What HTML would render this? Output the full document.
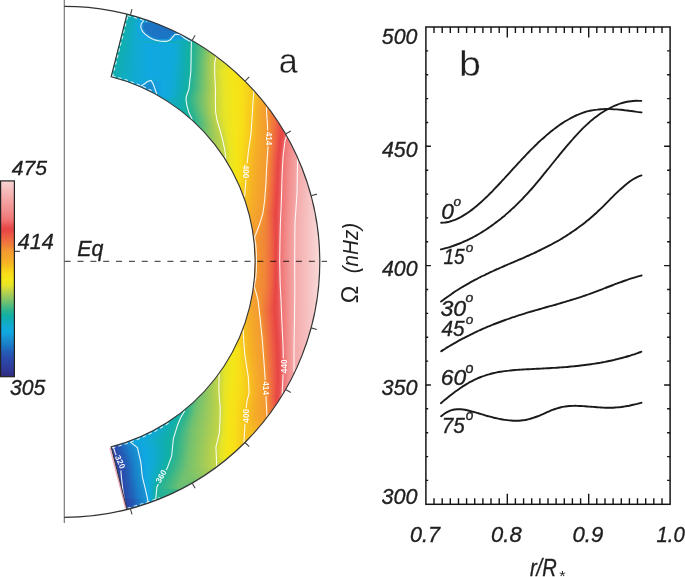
<!DOCTYPE html>
<html><head><meta charset="utf-8"><title>Rotation profile</title>
<style>
html,body{margin:0;padding:0;background:#fff;}
body{width:685px;height:577px;overflow:hidden;}
svg{display:block;}
</style></head><body>
<svg width="685" height="577" viewBox="0 0 685 577">
<defs>
<clipPath id="ann"><path d="M126.98 14.11 A255.5 255.5 0 0 1 126.98 509.49 L111.10 446.77 A190.8 190.8 0 0 0 111.10 76.83 Z"/></clipPath>
<mask id="cm" maskUnits="userSpaceOnUse" x="0" y="0" width="685" height="577"><rect width="685" height="577" fill="#fff"/><rect x="-8" y="-3.8" width="16" height="7.6" transform="translate(269.2 138.5) rotate(90)" fill="#000"/><rect x="-8" y="-3.8" width="16" height="7.6" transform="translate(246.0 171.5) rotate(90)" fill="#000"/><rect x="-8" y="-3.8" width="16" height="7.6" transform="translate(284.0 366.3) rotate(-90)" fill="#000"/><rect x="-8" y="-3.8" width="16" height="7.6" transform="translate(266.2 388.1) rotate(90)" fill="#000"/><rect x="-8" y="-3.8" width="16" height="7.6" transform="translate(245.6 415.8) rotate(-90)" fill="#000"/><rect x="-8" y="-3.8" width="16" height="7.6" transform="translate(161.0 476.3) rotate(-62)" fill="#000"/><rect x="-8" y="-3.8" width="16" height="7.6" transform="translate(120.3 461.9) rotate(66)" fill="#000"/></mask>
<linearGradient id="cbar" x1="0" y1="0" x2="0" y2="1"><stop offset="0.0000" stop-color="#f8d4d4"/><stop offset="0.0482" stop-color="#f6bcbc"/><stop offset="0.0994" stop-color="#f4a4a4"/><stop offset="0.1500" stop-color="#f28e8e"/><stop offset="0.2012" stop-color="#f07272"/><stop offset="0.2353" stop-color="#e84c4c"/><stop offset="0.2529" stop-color="#e84644"/><stop offset="0.2794" stop-color="#ec5a44"/><stop offset="0.3059" stop-color="#f06e40"/><stop offset="0.3329" stop-color="#f08238"/><stop offset="0.3594" stop-color="#f39a30"/><stop offset="0.3859" stop-color="#f4a42c"/><stop offset="0.4124" stop-color="#f6b026"/><stop offset="0.4388" stop-color="#f6c41e"/><stop offset="0.4753" stop-color="#f8de18"/><stop offset="0.5018" stop-color="#f4e618"/><stop offset="0.5329" stop-color="#e6e428"/><stop offset="0.5547" stop-color="#cad840"/><stop offset="0.5812" stop-color="#a6cc56"/><stop offset="0.6076" stop-color="#80c468"/><stop offset="0.6341" stop-color="#56bc7c"/><stop offset="0.6606" stop-color="#2eb48e"/><stop offset="0.6871" stop-color="#12b0a4"/><stop offset="0.7165" stop-color="#10acbc"/><stop offset="0.7429" stop-color="#10aad4"/><stop offset="0.7753" stop-color="#10a8e2"/><stop offset="0.8065" stop-color="#1890d0"/><stop offset="0.8388" stop-color="#1a7cc8"/><stop offset="0.8706" stop-color="#2260b8"/><stop offset="0.9018" stop-color="#2a4cac"/><stop offset="0.9335" stop-color="#2c42a2"/><stop offset="0.9647" stop-color="#303896"/><stop offset="0.9824" stop-color="#30308a"/><stop offset="1.0000" stop-color="#2e2c7c"/></linearGradient>
<linearGradient id="g0" gradientUnits="userSpaceOnUse" x1="124.9" x2="130.1" y1="0" y2="0"><stop offset="0.381" stop-color="#12afaa"/><stop offset="0.590" stop-color="#10acbc"/><stop offset="0.610" stop-color="#10acbe"/></linearGradient>
<linearGradient id="g1" gradientUnits="userSpaceOnUse" x1="124.5" x2="136.0" y1="0" y2="0"><stop offset="0.174" stop-color="#12afaa"/><stop offset="0.590" stop-color="#10acbc"/><stop offset="0.824" stop-color="#10abc8"/></linearGradient>
<linearGradient id="g2" gradientUnits="userSpaceOnUse" x1="124.0" x2="142.7" y1="0" y2="0"><stop offset="0.107" stop-color="#12afaa"/><stop offset="0.417" stop-color="#10acbc"/><stop offset="0.678" stop-color="#10abcd"/><stop offset="0.892" stop-color="#10aad2"/></linearGradient>
<linearGradient id="g3" gradientUnits="userSpaceOnUse" x1="123.5" x2="148.8" y1="0" y2="0"><stop offset="0.079" stop-color="#12afaa"/><stop offset="0.316" stop-color="#10acbc"/><stop offset="0.517" stop-color="#10abcd"/><stop offset="0.584" stop-color="#10aad4"/><stop offset="0.860" stop-color="#10a8e2"/><stop offset="0.920" stop-color="#12a3de"/></linearGradient>
<linearGradient id="g4" gradientUnits="userSpaceOnUse" x1="123.0" x2="154.5" y1="0" y2="0"><stop offset="0.064" stop-color="#12afaa"/><stop offset="0.261" stop-color="#10acbc"/><stop offset="0.426" stop-color="#10abcd"/><stop offset="0.451" stop-color="#10aad4"/><stop offset="0.559" stop-color="#10a8e2"/><stop offset="0.623" stop-color="#159ad7"/><stop offset="0.743" stop-color="#1890d0"/><stop offset="0.937" stop-color="#1984cb"/></linearGradient>
<linearGradient id="g5" gradientUnits="userSpaceOnUse" x1="122.5" x2="159.7" y1="0" y2="0"><stop offset="0.054" stop-color="#12afaa"/><stop offset="0.226" stop-color="#10acbc"/><stop offset="0.371" stop-color="#10abcd"/><stop offset="0.387" stop-color="#10aad4"/><stop offset="0.460" stop-color="#10a8e2"/><stop offset="0.502" stop-color="#159ad7"/><stop offset="0.527" stop-color="#1890d0"/><stop offset="0.591" stop-color="#1a7bc8"/><stop offset="0.607" stop-color="#1c75c4"/><stop offset="0.945" stop-color="#1b77c5"/></linearGradient>
<linearGradient id="g6" gradientUnits="userSpaceOnUse" x1="122.0" x2="164.7" y1="0" y2="0"><stop offset="0.048" stop-color="#12afaa"/><stop offset="0.202" stop-color="#10acbc"/><stop offset="0.331" stop-color="#10abcd"/><stop offset="0.345" stop-color="#10aad4"/><stop offset="0.408" stop-color="#10a8e2"/><stop offset="0.446" stop-color="#1599d7"/><stop offset="0.464" stop-color="#1890d0"/><stop offset="0.514" stop-color="#1a7cc8"/><stop offset="0.525" stop-color="#1c75c4"/><stop offset="0.954" stop-color="#1e70c1"/></linearGradient>
<linearGradient id="g7" gradientUnits="userSpaceOnUse" x1="121.5" x2="169.3" y1="0" y2="0"><stop offset="0.043" stop-color="#12afaa"/><stop offset="0.183" stop-color="#10acbc"/><stop offset="0.304" stop-color="#10abce"/><stop offset="0.316" stop-color="#10aad4"/><stop offset="0.375" stop-color="#10a8e2"/><stop offset="0.408" stop-color="#159ad7"/><stop offset="0.425" stop-color="#1890d0"/><stop offset="0.464" stop-color="#1a7cc8"/><stop offset="0.475" stop-color="#1c75c4"/><stop offset="0.957" stop-color="#1e70c1"/></linearGradient>
<linearGradient id="g8" gradientUnits="userSpaceOnUse" x1="121.0" x2="173.8" y1="0" y2="0"><stop offset="0.039" stop-color="#12afaa"/><stop offset="0.169" stop-color="#10acbc"/><stop offset="0.281" stop-color="#10abcd"/><stop offset="0.296" stop-color="#10aad4"/><stop offset="0.359" stop-color="#10a8e2"/><stop offset="0.397" stop-color="#1599d7"/><stop offset="0.412" stop-color="#1890d0"/><stop offset="0.450" stop-color="#1a7cc8"/><stop offset="0.459" stop-color="#1c75c4"/><stop offset="0.963" stop-color="#1e70c1"/></linearGradient>
<linearGradient id="g9" gradientUnits="userSpaceOnUse" x1="120.4" x2="178.0" y1="0" y2="0"><stop offset="0.034" stop-color="#12afaa"/><stop offset="0.159" stop-color="#10acbc"/><stop offset="0.263" stop-color="#10abcd"/><stop offset="0.281" stop-color="#10aad4"/><stop offset="0.350" stop-color="#10a8e2"/><stop offset="0.392" stop-color="#159ad7"/><stop offset="0.406" stop-color="#1891d0"/><stop offset="0.446" stop-color="#1a7cc8"/><stop offset="0.455" stop-color="#1c75c4"/><stop offset="0.884" stop-color="#1c75c4"/><stop offset="0.966" stop-color="#1a7cc8"/></linearGradient>
<linearGradient id="g10" gradientUnits="userSpaceOnUse" x1="119.9" x2="182.0" y1="0" y2="0"><stop offset="0.032" stop-color="#12afaa"/><stop offset="0.151" stop-color="#10acbc"/><stop offset="0.251" stop-color="#10abcd"/><stop offset="0.270" stop-color="#10aad4"/><stop offset="0.355" stop-color="#10a8e2"/><stop offset="0.404" stop-color="#159ad7"/><stop offset="0.420" stop-color="#1890d0"/><stop offset="0.462" stop-color="#1a7cc8"/><stop offset="0.471" stop-color="#1c75c4"/><stop offset="0.823" stop-color="#1c75c4"/><stop offset="0.876" stop-color="#1a7cc8"/><stop offset="0.968" stop-color="#1985cb"/></linearGradient>
<linearGradient id="g11" gradientUnits="userSpaceOnUse" x1="119.4" x2="185.9" y1="0" y2="0"><stop offset="0.030" stop-color="#12afaa"/><stop offset="0.144" stop-color="#10acbc"/><stop offset="0.239" stop-color="#10abcd"/><stop offset="0.263" stop-color="#10aad4"/><stop offset="0.364" stop-color="#10a8e2"/><stop offset="0.424" stop-color="#1599d7"/><stop offset="0.441" stop-color="#1890d0"/><stop offset="0.486" stop-color="#1a7cc8"/><stop offset="0.498" stop-color="#1c75c4"/><stop offset="0.757" stop-color="#1c75c4"/><stop offset="0.766" stop-color="#1a7cc8"/><stop offset="0.802" stop-color="#1890d0"/><stop offset="0.815" stop-color="#159ad7"/><stop offset="0.943" stop-color="#1599d7"/><stop offset="0.960" stop-color="#1890d0"/><stop offset="0.970" stop-color="#188cce"/></linearGradient>
<linearGradient id="g12" gradientUnits="userSpaceOnUse" x1="118.9" x2="189.6" y1="0" y2="0"><stop offset="0.028" stop-color="#12afaa"/><stop offset="0.138" stop-color="#10acbc"/><stop offset="0.230" stop-color="#10abcd"/><stop offset="0.259" stop-color="#10aad4"/><stop offset="0.378" stop-color="#10a8e2"/><stop offset="0.448" stop-color="#1599d7"/><stop offset="0.472" stop-color="#1890d0"/><stop offset="0.536" stop-color="#1a7cc8"/><stop offset="0.553" stop-color="#1c75c4"/><stop offset="0.682" stop-color="#1c75c4"/><stop offset="0.693" stop-color="#1a7cc8"/><stop offset="0.734" stop-color="#1890d0"/><stop offset="0.750" stop-color="#1599d7"/><stop offset="0.925" stop-color="#159ad7"/><stop offset="0.972" stop-color="#1891d1"/></linearGradient>
<linearGradient id="g13" gradientUnits="userSpaceOnUse" x1="118.4" x2="193.1" y1="0" y2="0"><stop offset="0.026" stop-color="#12afaa"/><stop offset="0.132" stop-color="#10acbc"/><stop offset="0.222" stop-color="#10abcd"/><stop offset="0.257" stop-color="#10aad4"/><stop offset="0.404" stop-color="#10a8e2"/><stop offset="0.491" stop-color="#159ad7"/><stop offset="0.690" stop-color="#159ad7"/><stop offset="0.731" stop-color="#10a8e2"/><stop offset="0.799" stop-color="#10aad4"/><stop offset="0.855" stop-color="#10acbc"/><stop offset="0.878" stop-color="#11adb3"/><stop offset="0.883" stop-color="#10acbc"/><stop offset="0.898" stop-color="#10aad4"/><stop offset="0.915" stop-color="#10a7e2"/><stop offset="0.925" stop-color="#159ad7"/><stop offset="0.973" stop-color="#1598d6"/></linearGradient>
<linearGradient id="g14" gradientUnits="userSpaceOnUse" x1="117.9" x2="196.6" y1="0" y2="0"><stop offset="0.025" stop-color="#11afaa"/><stop offset="0.128" stop-color="#10acbc"/><stop offset="0.215" stop-color="#10abcd"/><stop offset="0.615" stop-color="#10acbc"/><stop offset="0.840" stop-color="#11adb3"/><stop offset="0.901" stop-color="#12b0a4"/><stop offset="0.936" stop-color="#1db29b"/><stop offset="0.975" stop-color="#1db29b"/></linearGradient>
<linearGradient id="g15" gradientUnits="userSpaceOnUse" x1="117.4" x2="199.9" y1="0" y2="0"><stop offset="0.024" stop-color="#11afaa"/><stop offset="0.124" stop-color="#10acbc"/><stop offset="0.210" stop-color="#10abcd"/><stop offset="0.245" stop-color="#10aad4"/><stop offset="0.372" stop-color="#10a8e0"/><stop offset="0.656" stop-color="#10a9dd"/><stop offset="0.712" stop-color="#10aad4"/><stop offset="0.781" stop-color="#10acbc"/><stop offset="0.807" stop-color="#11adb3"/><stop offset="0.864" stop-color="#12b0a4"/><stop offset="0.897" stop-color="#1db29b"/><stop offset="0.951" stop-color="#2eb48e"/><stop offset="0.976" stop-color="#3ab689"/></linearGradient>
<linearGradient id="g16" gradientUnits="userSpaceOnUse" x1="116.9" x2="203.1" y1="0" y2="0"><stop offset="0.023" stop-color="#11afab"/><stop offset="0.119" stop-color="#10acbc"/><stop offset="0.205" stop-color="#10abcd"/><stop offset="0.239" stop-color="#10aad4"/><stop offset="0.363" stop-color="#10a8e0"/><stop offset="0.633" stop-color="#10a9dd"/><stop offset="0.687" stop-color="#10aad4"/><stop offset="0.753" stop-color="#10acbc"/><stop offset="0.779" stop-color="#11adb3"/><stop offset="0.833" stop-color="#12b0a4"/><stop offset="0.863" stop-color="#1db29b"/><stop offset="0.906" stop-color="#2eb48e"/><stop offset="0.977" stop-color="#56bc7c"/></linearGradient>
<linearGradient id="g17" gradientUnits="userSpaceOnUse" x1="116.4" x2="206.2" y1="0" y2="0"><stop offset="0.022" stop-color="#11afab"/><stop offset="0.117" stop-color="#10acbc"/><stop offset="0.200" stop-color="#10abcd"/><stop offset="0.234" stop-color="#10aad4"/><stop offset="0.355" stop-color="#10a8e0"/><stop offset="0.614" stop-color="#10a9dd"/><stop offset="0.665" stop-color="#10aad4"/><stop offset="0.728" stop-color="#10acbc"/><stop offset="0.753" stop-color="#11adb3"/><stop offset="0.805" stop-color="#12b0a4"/><stop offset="0.834" stop-color="#1db29b"/><stop offset="0.874" stop-color="#2eb48e"/><stop offset="0.942" stop-color="#56bc7c"/><stop offset="0.978" stop-color="#6cc071"/></linearGradient>
<linearGradient id="g18" gradientUnits="userSpaceOnUse" x1="115.9" x2="209.2" y1="0" y2="0"><stop offset="0.022" stop-color="#11afab"/><stop offset="0.114" stop-color="#10acbc"/><stop offset="0.196" stop-color="#10abcd"/><stop offset="0.229" stop-color="#10aad4"/><stop offset="0.348" stop-color="#10a8e0"/><stop offset="0.596" stop-color="#10a9dd"/><stop offset="0.645" stop-color="#10aad4"/><stop offset="0.706" stop-color="#10acbc"/><stop offset="0.730" stop-color="#11adb3"/><stop offset="0.779" stop-color="#12b0a4"/><stop offset="0.807" stop-color="#1db29b"/><stop offset="0.846" stop-color="#2eb48e"/><stop offset="0.910" stop-color="#56bc7c"/><stop offset="0.974" stop-color="#80c468"/><stop offset="0.979" stop-color="#83c567"/></linearGradient>
<linearGradient id="g19" gradientUnits="userSpaceOnUse" x1="115.4" x2="212.1" y1="0" y2="0"><stop offset="0.021" stop-color="#11afab"/><stop offset="0.111" stop-color="#10acbc"/><stop offset="0.193" stop-color="#10abcd"/><stop offset="0.225" stop-color="#10aad4"/><stop offset="0.342" stop-color="#10a8e0"/><stop offset="0.580" stop-color="#10a9dd"/><stop offset="0.628" stop-color="#10aad4"/><stop offset="0.687" stop-color="#10acbc"/><stop offset="0.709" stop-color="#11adb3"/><stop offset="0.757" stop-color="#12b0a4"/><stop offset="0.784" stop-color="#1db29b"/><stop offset="0.820" stop-color="#2eb48e"/><stop offset="0.880" stop-color="#56bc7c"/><stop offset="0.940" stop-color="#80c468"/><stop offset="0.979" stop-color="#99c95c"/></linearGradient>
<linearGradient id="g20" gradientUnits="userSpaceOnUse" x1="114.9" x2="215.0" y1="0" y2="0"><stop offset="0.020" stop-color="#11afac"/><stop offset="0.108" stop-color="#10acbc"/><stop offset="0.190" stop-color="#10abcd"/><stop offset="0.222" stop-color="#10aad4"/><stop offset="0.338" stop-color="#10a8e0"/><stop offset="0.566" stop-color="#10a9dd"/><stop offset="0.612" stop-color="#10aad4"/><stop offset="0.669" stop-color="#10acbc"/><stop offset="0.691" stop-color="#11adb3"/><stop offset="0.737" stop-color="#12b0a4"/><stop offset="0.763" stop-color="#1db29b"/><stop offset="0.797" stop-color="#2eb48e"/><stop offset="0.853" stop-color="#56bc7c"/><stop offset="0.909" stop-color="#80c468"/><stop offset="0.965" stop-color="#a6cc56"/><stop offset="0.980" stop-color="#afcf50"/></linearGradient>
<linearGradient id="g21" gradientUnits="userSpaceOnUse" x1="114.4" x2="217.7" y1="0" y2="0"><stop offset="0.020" stop-color="#11afac"/><stop offset="0.106" stop-color="#10acbc"/><stop offset="0.188" stop-color="#10abcd"/><stop offset="0.219" stop-color="#10aad4"/><stop offset="0.333" stop-color="#10a8e0"/><stop offset="0.553" stop-color="#10a9dd"/><stop offset="0.597" stop-color="#10aad4"/><stop offset="0.652" stop-color="#10acbc"/><stop offset="0.674" stop-color="#11adb3"/><stop offset="0.718" stop-color="#12b0a4"/><stop offset="0.742" stop-color="#1db29b"/><stop offset="0.775" stop-color="#2eb48e"/><stop offset="0.829" stop-color="#56bc7c"/><stop offset="0.882" stop-color="#80c468"/><stop offset="0.935" stop-color="#a6cc56"/><stop offset="0.980" stop-color="#c4d643"/></linearGradient>
<linearGradient id="g22" gradientUnits="userSpaceOnUse" x1="113.9" x2="220.4" y1="0" y2="0"><stop offset="0.019" stop-color="#11afac"/><stop offset="0.104" stop-color="#10acbc"/><stop offset="0.186" stop-color="#10abcd"/><stop offset="0.217" stop-color="#10aad4"/><stop offset="0.329" stop-color="#10a8e0"/><stop offset="0.541" stop-color="#10a9dd"/><stop offset="0.584" stop-color="#10aad4"/><stop offset="0.638" stop-color="#10acbc"/><stop offset="0.658" stop-color="#11adb3"/><stop offset="0.702" stop-color="#12b0a4"/><stop offset="0.725" stop-color="#1db29b"/><stop offset="0.757" stop-color="#2eb48e"/><stop offset="0.809" stop-color="#56bc7c"/><stop offset="0.861" stop-color="#80c468"/><stop offset="0.913" stop-color="#a6cc56"/><stop offset="0.957" stop-color="#c4d644"/><stop offset="0.974" stop-color="#cad840"/><stop offset="0.981" stop-color="#ccd93e"/></linearGradient>
<linearGradient id="g23" gradientUnits="userSpaceOnUse" x1="113.4" x2="223.0" y1="0" y2="0"><stop offset="0.019" stop-color="#11afac"/><stop offset="0.102" stop-color="#10acbc"/><stop offset="0.184" stop-color="#10abcd"/><stop offset="0.215" stop-color="#10aad4"/><stop offset="0.325" stop-color="#10a8e0"/><stop offset="0.530" stop-color="#10a9dd"/><stop offset="0.572" stop-color="#10aad4"/><stop offset="0.624" stop-color="#10acbc"/><stop offset="0.644" stop-color="#11adb3"/><stop offset="0.685" stop-color="#12b0a4"/><stop offset="0.709" stop-color="#1db29b"/><stop offset="0.739" stop-color="#2eb48e"/><stop offset="0.788" stop-color="#56bc7c"/><stop offset="0.839" stop-color="#80c468"/><stop offset="0.888" stop-color="#a6cc56"/><stop offset="0.930" stop-color="#c4d644"/><stop offset="0.948" stop-color="#cad840"/><stop offset="0.982" stop-color="#d4dc38"/></linearGradient>
<linearGradient id="g24" gradientUnits="userSpaceOnUse" x1="112.9" x2="225.5" y1="0" y2="0"><stop offset="0.018" stop-color="#11afad"/><stop offset="0.101" stop-color="#10acbc"/><stop offset="0.183" stop-color="#10abcd"/><stop offset="0.212" stop-color="#10aad4"/><stop offset="0.322" stop-color="#10a8e0"/><stop offset="0.518" stop-color="#10a9dd"/><stop offset="0.559" stop-color="#10aad4"/><stop offset="0.610" stop-color="#10acbc"/><stop offset="0.630" stop-color="#11adb3"/><stop offset="0.671" stop-color="#12b0a4"/><stop offset="0.694" stop-color="#1db29b"/><stop offset="0.723" stop-color="#2eb48e"/><stop offset="0.770" stop-color="#56bc7c"/><stop offset="0.817" stop-color="#80c468"/><stop offset="0.865" stop-color="#a6cc56"/><stop offset="0.905" stop-color="#c4d643"/><stop offset="0.922" stop-color="#cad840"/><stop offset="0.982" stop-color="#dbdf31"/></linearGradient>
<linearGradient id="g25" gradientUnits="userSpaceOnUse" x1="112.4" x2="228.0" y1="0" y2="0"><stop offset="0.018" stop-color="#11afad"/><stop offset="0.099" stop-color="#10acbc"/><stop offset="0.182" stop-color="#10abcd"/><stop offset="0.211" stop-color="#10aad4"/><stop offset="0.319" stop-color="#10a8e0"/><stop offset="0.506" stop-color="#10a9dd"/><stop offset="0.548" stop-color="#10aad4"/><stop offset="0.598" stop-color="#10acbc"/><stop offset="0.619" stop-color="#11adb3"/><stop offset="0.657" stop-color="#12b0a4"/><stop offset="0.680" stop-color="#1db29b"/><stop offset="0.708" stop-color="#2eb48e"/><stop offset="0.754" stop-color="#56bc7c"/><stop offset="0.800" stop-color="#80c468"/><stop offset="0.846" stop-color="#a6cc56"/><stop offset="0.886" stop-color="#c5d643"/><stop offset="0.902" stop-color="#cad840"/><stop offset="0.982" stop-color="#e3e32b"/></linearGradient>
<linearGradient id="g26" gradientUnits="userSpaceOnUse" x1="111.8" x2="230.4" y1="0" y2="0"><stop offset="0.016" stop-color="#11aead"/><stop offset="0.097" stop-color="#10acbc"/><stop offset="0.182" stop-color="#10abcd"/><stop offset="0.210" stop-color="#10aad4"/><stop offset="0.316" stop-color="#10a8e0"/><stop offset="0.495" stop-color="#10a9dd"/><stop offset="0.537" stop-color="#10aad4"/><stop offset="0.586" stop-color="#10acbc"/><stop offset="0.607" stop-color="#11adb3"/><stop offset="0.646" stop-color="#12b0a4"/><stop offset="0.667" stop-color="#1db29b"/><stop offset="0.694" stop-color="#2eb48e"/><stop offset="0.739" stop-color="#56bc7c"/><stop offset="0.785" stop-color="#80c468"/><stop offset="0.829" stop-color="#a6cc56"/><stop offset="0.867" stop-color="#c4d644"/><stop offset="0.883" stop-color="#cad840"/><stop offset="0.969" stop-color="#e6e428"/><stop offset="0.983" stop-color="#e8e426"/></linearGradient>
<linearGradient id="g27" gradientUnits="userSpaceOnUse" x1="111.3" x2="232.8" y1="0" y2="0"><stop offset="0.016" stop-color="#11aead"/><stop offset="0.097" stop-color="#10acbc"/><stop offset="0.181" stop-color="#10abcd"/><stop offset="0.210" stop-color="#10aad4"/><stop offset="0.313" stop-color="#10a8e0"/><stop offset="0.485" stop-color="#10a9dd"/><stop offset="0.527" stop-color="#10aad4"/><stop offset="0.576" stop-color="#10acbc"/><stop offset="0.596" stop-color="#11adb3"/><stop offset="0.634" stop-color="#12b0a4"/><stop offset="0.655" stop-color="#1db29b"/><stop offset="0.681" stop-color="#2eb48e"/><stop offset="0.726" stop-color="#56bc7c"/><stop offset="0.769" stop-color="#80c468"/><stop offset="0.814" stop-color="#a6cc56"/><stop offset="0.851" stop-color="#c4d643"/><stop offset="0.867" stop-color="#cad840"/><stop offset="0.948" stop-color="#e6e428"/><stop offset="0.984" stop-color="#eae523"/></linearGradient>
<linearGradient id="g28" gradientUnits="userSpaceOnUse" x1="110.8" x2="235.1" y1="0" y2="0"><stop offset="0.016" stop-color="#11aeae"/><stop offset="0.095" stop-color="#10acbc"/><stop offset="0.181" stop-color="#10abcd"/><stop offset="0.209" stop-color="#10aad4"/><stop offset="0.311" stop-color="#10a8e0"/><stop offset="0.476" stop-color="#10a9dd"/><stop offset="0.517" stop-color="#10aad4"/><stop offset="0.566" stop-color="#10acbc"/><stop offset="0.586" stop-color="#11adb3"/><stop offset="0.623" stop-color="#12b0a4"/><stop offset="0.644" stop-color="#1db29b"/><stop offset="0.670" stop-color="#2eb48e"/><stop offset="0.713" stop-color="#56bc7c"/><stop offset="0.756" stop-color="#80c468"/><stop offset="0.799" stop-color="#a6cc56"/><stop offset="0.835" stop-color="#c4d644"/><stop offset="0.845" stop-color="#cad840"/><stop offset="0.895" stop-color="#e6e428"/><stop offset="0.966" stop-color="#f4e618"/><stop offset="0.970" stop-color="#f4e618"/><stop offset="0.971" stop-color="#f4e618"/><stop offset="0.984" stop-color="#ede520"/></linearGradient>
<linearGradient id="g29" gradientUnits="userSpaceOnUse" x1="110.3" x2="237.3" y1="0" y2="0"><stop offset="0.016" stop-color="#11aeae"/><stop offset="0.094" stop-color="#10acbc"/><stop offset="0.180" stop-color="#10abcd"/><stop offset="0.208" stop-color="#10aad4"/><stop offset="0.309" stop-color="#10a8e0"/><stop offset="0.467" stop-color="#10a9dd"/><stop offset="0.508" stop-color="#10aad4"/><stop offset="0.557" stop-color="#10acbc"/><stop offset="0.577" stop-color="#11adb3"/><stop offset="0.613" stop-color="#12b0a4"/><stop offset="0.634" stop-color="#1db29b"/><stop offset="0.659" stop-color="#2eb48e"/><stop offset="0.701" stop-color="#56bc7c"/><stop offset="0.743" stop-color="#80c468"/><stop offset="0.786" stop-color="#a6cc56"/><stop offset="0.821" stop-color="#c4d643"/><stop offset="0.830" stop-color="#cad840"/><stop offset="0.880" stop-color="#e6e428"/><stop offset="0.952" stop-color="#f4e618"/><stop offset="0.956" stop-color="#f4e518"/><stop offset="0.962" stop-color="#f4e618"/><stop offset="0.984" stop-color="#f1e61b"/></linearGradient>
<linearGradient id="g30" gradientUnits="userSpaceOnUse" x1="109.8" x2="239.5" y1="0" y2="0"><stop offset="0.015" stop-color="#11aeae"/><stop offset="0.094" stop-color="#10acbc"/><stop offset="0.180" stop-color="#10abcd"/><stop offset="0.208" stop-color="#10aad4"/><stop offset="0.307" stop-color="#10a8e0"/><stop offset="0.459" stop-color="#10a9dd"/><stop offset="0.499" stop-color="#10aad4"/><stop offset="0.549" stop-color="#10acbc"/><stop offset="0.568" stop-color="#11adb3"/><stop offset="0.603" stop-color="#12b0a4"/><stop offset="0.623" stop-color="#1db29b"/><stop offset="0.647" stop-color="#2eb48e"/><stop offset="0.690" stop-color="#56bc7c"/><stop offset="0.731" stop-color="#80c468"/><stop offset="0.773" stop-color="#a6cc56"/><stop offset="0.809" stop-color="#c4d643"/><stop offset="0.818" stop-color="#cad840"/><stop offset="0.867" stop-color="#e6e428"/><stop offset="0.938" stop-color="#f4e618"/><stop offset="0.943" stop-color="#f4e518"/><stop offset="0.984" stop-color="#f4e518"/></linearGradient>
<linearGradient id="g31" gradientUnits="userSpaceOnUse" x1="109.3" x2="241.7" y1="0" y2="0"><stop offset="0.015" stop-color="#11aeae"/><stop offset="0.093" stop-color="#10acbc"/><stop offset="0.180" stop-color="#10abcd"/><stop offset="0.208" stop-color="#10aad4"/><stop offset="0.306" stop-color="#10a8e0"/><stop offset="0.452" stop-color="#10a9dd"/><stop offset="0.492" stop-color="#10aad4"/><stop offset="0.540" stop-color="#10acbc"/><stop offset="0.560" stop-color="#11adb3"/><stop offset="0.594" stop-color="#12b0a4"/><stop offset="0.613" stop-color="#1db29b"/><stop offset="0.638" stop-color="#2eb48e"/><stop offset="0.679" stop-color="#56bc7c"/><stop offset="0.721" stop-color="#80c468"/><stop offset="0.762" stop-color="#a6cc56"/><stop offset="0.797" stop-color="#c4d643"/><stop offset="0.806" stop-color="#cad840"/><stop offset="0.856" stop-color="#e6e428"/><stop offset="0.926" stop-color="#f4e618"/><stop offset="0.930" stop-color="#f4e518"/><stop offset="0.985" stop-color="#f6e218"/></linearGradient>
<linearGradient id="g32" gradientUnits="userSpaceOnUse" x1="113.5" x2="243.8" y1="0" y2="0"><stop offset="0.015" stop-color="#11adb6"/><stop offset="0.054" stop-color="#10acbc"/><stop offset="0.150" stop-color="#10abcd"/><stop offset="0.179" stop-color="#10aad4"/><stop offset="0.279" stop-color="#10a8e0"/><stop offset="0.424" stop-color="#10a9dd"/><stop offset="0.465" stop-color="#10aad4"/><stop offset="0.515" stop-color="#10acbc"/><stop offset="0.535" stop-color="#11adb3"/><stop offset="0.569" stop-color="#12b0a4"/><stop offset="0.588" stop-color="#1db29b"/><stop offset="0.614" stop-color="#2eb48e"/><stop offset="0.657" stop-color="#56bc7c"/><stop offset="0.699" stop-color="#80c468"/><stop offset="0.742" stop-color="#a6cc56"/><stop offset="0.778" stop-color="#c4d643"/><stop offset="0.788" stop-color="#cad840"/><stop offset="0.839" stop-color="#e6e428"/><stop offset="0.911" stop-color="#f4e618"/><stop offset="0.916" stop-color="#f4e518"/><stop offset="0.985" stop-color="#f7df18"/></linearGradient>
<linearGradient id="g33" gradientUnits="userSpaceOnUse" x1="120.2" x2="245.8" y1="0" y2="0"><stop offset="0.016" stop-color="#10abc5"/><stop offset="0.103" stop-color="#10abcd"/><stop offset="0.176" stop-color="#10aad4"/><stop offset="0.384" stop-color="#10a9dd"/><stop offset="0.427" stop-color="#10aad4"/><stop offset="0.479" stop-color="#10acbc"/><stop offset="0.500" stop-color="#11adb3"/><stop offset="0.535" stop-color="#12b0a4"/><stop offset="0.555" stop-color="#1db29b"/><stop offset="0.582" stop-color="#2eb48e"/><stop offset="0.626" stop-color="#56bc7c"/><stop offset="0.672" stop-color="#80c468"/><stop offset="0.716" stop-color="#a6cc56"/><stop offset="0.755" stop-color="#c4d643"/><stop offset="0.765" stop-color="#cad840"/><stop offset="0.818" stop-color="#e6e428"/><stop offset="0.895" stop-color="#f4e618"/><stop offset="0.899" stop-color="#f4e518"/><stop offset="0.970" stop-color="#f8de18"/><stop offset="0.984" stop-color="#f8db19"/></linearGradient>
<linearGradient id="g34" gradientUnits="userSpaceOnUse" x1="126.1" x2="247.8" y1="0" y2="0"><stop offset="0.016" stop-color="#10aad5"/><stop offset="0.022" stop-color="#10aad4"/><stop offset="0.056" stop-color="#10abcd"/><stop offset="0.071" stop-color="#10aad4"/><stop offset="0.134" stop-color="#10a8e2"/><stop offset="0.170" stop-color="#159ad7"/><stop offset="0.192" stop-color="#1793d2"/><stop offset="0.212" stop-color="#1599d7"/><stop offset="0.298" stop-color="#10a8e2"/><stop offset="0.346" stop-color="#10a9dd"/><stop offset="0.390" stop-color="#10aad4"/><stop offset="0.444" stop-color="#10acbc"/><stop offset="0.466" stop-color="#11adb3"/><stop offset="0.502" stop-color="#12b0a4"/><stop offset="0.522" stop-color="#1db29b"/><stop offset="0.550" stop-color="#2eb48e"/><stop offset="0.597" stop-color="#56bc7c"/><stop offset="0.645" stop-color="#80c468"/><stop offset="0.692" stop-color="#a6cc56"/><stop offset="0.731" stop-color="#c4d644"/><stop offset="0.742" stop-color="#cad840"/><stop offset="0.798" stop-color="#e6e428"/><stop offset="0.877" stop-color="#f4e618"/><stop offset="0.882" stop-color="#f4e518"/><stop offset="0.953" stop-color="#f8de18"/><stop offset="0.983" stop-color="#f7d71a"/></linearGradient>
<linearGradient id="g35" gradientUnits="userSpaceOnUse" x1="131.5" x2="249.8" y1="0" y2="0"><stop offset="0.017" stop-color="#10a9dc"/><stop offset="0.055" stop-color="#10a8e2"/><stop offset="0.107" stop-color="#1599d7"/><stop offset="0.139" stop-color="#1890d0"/><stop offset="0.152" stop-color="#188dcf"/><stop offset="0.160" stop-color="#1890d0"/><stop offset="0.183" stop-color="#159ad7"/><stop offset="0.262" stop-color="#10a8e2"/><stop offset="0.307" stop-color="#10a9dd"/><stop offset="0.353" stop-color="#10aad4"/><stop offset="0.409" stop-color="#10acbc"/><stop offset="0.432" stop-color="#11adb3"/><stop offset="0.469" stop-color="#12b0a4"/><stop offset="0.490" stop-color="#1db29b"/><stop offset="0.519" stop-color="#2eb48e"/><stop offset="0.568" stop-color="#56bc7c"/><stop offset="0.617" stop-color="#80c468"/><stop offset="0.666" stop-color="#a6cc56"/><stop offset="0.708" stop-color="#c4d644"/><stop offset="0.719" stop-color="#cad840"/><stop offset="0.777" stop-color="#e6e428"/><stop offset="0.861" stop-color="#f4e618"/><stop offset="0.865" stop-color="#f4e518"/><stop offset="0.936" stop-color="#f8de18"/><stop offset="0.983" stop-color="#f7d21b"/></linearGradient>
<linearGradient id="g36" gradientUnits="userSpaceOnUse" x1="136.5" x2="251.7" y1="0" y2="0"><stop offset="0.018" stop-color="#10a8e1"/><stop offset="0.019" stop-color="#10a8e2"/><stop offset="0.039" stop-color="#159ad7"/><stop offset="0.080" stop-color="#1890d0"/><stop offset="0.113" stop-color="#198acd"/><stop offset="0.131" stop-color="#1890d0"/><stop offset="0.151" stop-color="#1599d7"/><stop offset="0.227" stop-color="#10a8e2"/><stop offset="0.269" stop-color="#10a9dd"/><stop offset="0.317" stop-color="#10aad4"/><stop offset="0.375" stop-color="#10acbc"/><stop offset="0.399" stop-color="#11adb3"/><stop offset="0.437" stop-color="#12b0a4"/><stop offset="0.459" stop-color="#1db29b"/><stop offset="0.489" stop-color="#2eb48e"/><stop offset="0.539" stop-color="#56bc7c"/><stop offset="0.590" stop-color="#80c468"/><stop offset="0.642" stop-color="#a6cc56"/><stop offset="0.684" stop-color="#c4d644"/><stop offset="0.695" stop-color="#cad840"/><stop offset="0.756" stop-color="#e6e428"/><stop offset="0.842" stop-color="#f4e618"/><stop offset="0.846" stop-color="#f4e618"/><stop offset="0.918" stop-color="#f8de18"/><stop offset="0.983" stop-color="#f7ce1c"/></linearGradient>
<linearGradient id="g37" gradientUnits="userSpaceOnUse" x1="141.0" x2="253.6" y1="0" y2="0"><stop offset="0.018" stop-color="#11a6e1"/><stop offset="0.059" stop-color="#1890d0"/><stop offset="0.075" stop-color="#1989cd"/><stop offset="0.097" stop-color="#1890d0"/><stop offset="0.121" stop-color="#1599d7"/><stop offset="0.192" stop-color="#10a8e2"/><stop offset="0.232" stop-color="#10a9dd"/><stop offset="0.281" stop-color="#10aad4"/><stop offset="0.342" stop-color="#10acbc"/><stop offset="0.366" stop-color="#11adb3"/><stop offset="0.405" stop-color="#12b0a4"/><stop offset="0.426" stop-color="#1db29b"/><stop offset="0.458" stop-color="#2eb48e"/><stop offset="0.511" stop-color="#56bc7c"/><stop offset="0.564" stop-color="#80c468"/><stop offset="0.616" stop-color="#a6cc56"/><stop offset="0.661" stop-color="#c4d644"/><stop offset="0.672" stop-color="#cad840"/><stop offset="0.735" stop-color="#e6e428"/><stop offset="0.822" stop-color="#f4e618"/><stop offset="0.827" stop-color="#f4e518"/><stop offset="0.900" stop-color="#f8de18"/><stop offset="0.982" stop-color="#f6ca1d"/></linearGradient>
<linearGradient id="g38" gradientUnits="userSpaceOnUse" x1="145.3" x2="255.4" y1="0" y2="0"><stop offset="0.018" stop-color="#12a3de"/><stop offset="0.034" stop-color="#1890d0"/><stop offset="0.038" stop-color="#188cce"/><stop offset="0.056" stop-color="#1890d0"/><stop offset="0.091" stop-color="#1599d7"/><stop offset="0.158" stop-color="#10a8e2"/><stop offset="0.195" stop-color="#10a9dd"/><stop offset="0.246" stop-color="#10aad4"/><stop offset="0.309" stop-color="#10acbc"/><stop offset="0.333" stop-color="#11adb3"/><stop offset="0.371" stop-color="#12b0a4"/><stop offset="0.393" stop-color="#1db29b"/><stop offset="0.426" stop-color="#2eb48e"/><stop offset="0.481" stop-color="#56bc7c"/><stop offset="0.536" stop-color="#80c468"/><stop offset="0.591" stop-color="#a6cc56"/><stop offset="0.637" stop-color="#c4d643"/><stop offset="0.649" stop-color="#cad840"/><stop offset="0.712" stop-color="#e6e428"/><stop offset="0.802" stop-color="#f4e618"/><stop offset="0.807" stop-color="#f4e518"/><stop offset="0.881" stop-color="#f8de18"/><stop offset="0.982" stop-color="#f6c61e"/></linearGradient>
<linearGradient id="g39" gradientUnits="userSpaceOnUse" x1="149.3" x2="257.2" y1="0" y2="0"><stop offset="0.002" stop-color="#1891d1"/><stop offset="0.018" stop-color="#139fdb"/><stop offset="0.062" stop-color="#159ad7"/><stop offset="0.124" stop-color="#10a8e2"/><stop offset="0.158" stop-color="#10a9dd"/><stop offset="0.211" stop-color="#10aad4"/><stop offset="0.274" stop-color="#10acbc"/><stop offset="0.300" stop-color="#11adb3"/><stop offset="0.337" stop-color="#12b0a4"/><stop offset="0.358" stop-color="#1db29b"/><stop offset="0.392" stop-color="#2eb48e"/><stop offset="0.449" stop-color="#56bc7c"/><stop offset="0.507" stop-color="#80c468"/><stop offset="0.564" stop-color="#a6cc56"/><stop offset="0.613" stop-color="#c5d643"/><stop offset="0.625" stop-color="#cad840"/><stop offset="0.689" stop-color="#e6e428"/><stop offset="0.782" stop-color="#f4e618"/><stop offset="0.788" stop-color="#f4e518"/><stop offset="0.863" stop-color="#f8de18"/><stop offset="0.967" stop-color="#f6c61e"/><stop offset="0.971" stop-color="#f6c41e"/><stop offset="0.981" stop-color="#f6c020"/></linearGradient>
<linearGradient id="g40" gradientUnits="userSpaceOnUse" x1="153.1" x2="259.0" y1="0" y2="0"><stop offset="0.019" stop-color="#149bd8"/><stop offset="0.034" stop-color="#159ad7"/><stop offset="0.091" stop-color="#10a8e2"/><stop offset="0.123" stop-color="#10a9dd"/><stop offset="0.176" stop-color="#10aad4"/><stop offset="0.241" stop-color="#10acbc"/><stop offset="0.266" stop-color="#11adb3"/><stop offset="0.302" stop-color="#12b0a4"/><stop offset="0.322" stop-color="#1db29b"/><stop offset="0.358" stop-color="#2eb48e"/><stop offset="0.418" stop-color="#56bc7c"/><stop offset="0.478" stop-color="#80c468"/><stop offset="0.538" stop-color="#a6cc56"/><stop offset="0.589" stop-color="#c5d643"/><stop offset="0.602" stop-color="#cad840"/><stop offset="0.668" stop-color="#e6e428"/><stop offset="0.762" stop-color="#f4e618"/><stop offset="0.768" stop-color="#f4e518"/><stop offset="0.843" stop-color="#f8de18"/><stop offset="0.949" stop-color="#f6c61e"/><stop offset="0.953" stop-color="#f6c41e"/><stop offset="0.981" stop-color="#f6b922"/></linearGradient>
<linearGradient id="g41" gradientUnits="userSpaceOnUse" x1="156.7" x2="260.7" y1="0" y2="0"><stop offset="0.019" stop-color="#12a3de"/><stop offset="0.046" stop-color="#10a8e2"/><stop offset="0.087" stop-color="#10a9dd"/><stop offset="0.141" stop-color="#10aad4"/><stop offset="0.208" stop-color="#10acbc"/><stop offset="0.234" stop-color="#11adb3"/><stop offset="0.267" stop-color="#12b0a4"/><stop offset="0.286" stop-color="#1db29b"/><stop offset="0.324" stop-color="#2eb48e"/><stop offset="0.386" stop-color="#56bc7c"/><stop offset="0.449" stop-color="#80c468"/><stop offset="0.511" stop-color="#a6cc56"/><stop offset="0.564" stop-color="#c4d644"/><stop offset="0.578" stop-color="#cad840"/><stop offset="0.645" stop-color="#e6e428"/><stop offset="0.742" stop-color="#f4e618"/><stop offset="0.747" stop-color="#f4e618"/><stop offset="0.824" stop-color="#f8de18"/><stop offset="0.930" stop-color="#f6c61e"/><stop offset="0.935" stop-color="#f6c41e"/><stop offset="0.981" stop-color="#f6b325"/></linearGradient>
<linearGradient id="g42" gradientUnits="userSpaceOnUse" x1="160.1" x2="262.4" y1="0" y2="0"><stop offset="0.019" stop-color="#10a9db"/><stop offset="0.074" stop-color="#10aad4"/><stop offset="0.165" stop-color="#10acbc"/><stop offset="0.201" stop-color="#11adb3"/><stop offset="0.235" stop-color="#12b0a4"/><stop offset="0.255" stop-color="#1db29b"/><stop offset="0.293" stop-color="#2eb48e"/><stop offset="0.358" stop-color="#56bc7c"/><stop offset="0.422" stop-color="#80c468"/><stop offset="0.487" stop-color="#a6cc56"/><stop offset="0.540" stop-color="#c4d643"/><stop offset="0.554" stop-color="#cad840"/><stop offset="0.623" stop-color="#e6e428"/><stop offset="0.721" stop-color="#f4e618"/><stop offset="0.727" stop-color="#f4e518"/><stop offset="0.805" stop-color="#f8de18"/><stop offset="0.911" stop-color="#f6c61e"/><stop offset="0.916" stop-color="#f6c41e"/><stop offset="0.972" stop-color="#f6b026"/><stop offset="0.981" stop-color="#f6ae27"/></linearGradient>
<linearGradient id="g43" gradientUnits="userSpaceOnUse" x1="163.4" x2="264.0" y1="0" y2="0"><stop offset="0.020" stop-color="#10abcd"/><stop offset="0.115" stop-color="#10acbc"/><stop offset="0.168" stop-color="#11adb3"/><stop offset="0.205" stop-color="#12b0a4"/><stop offset="0.225" stop-color="#1db29b"/><stop offset="0.264" stop-color="#2eb48e"/><stop offset="0.330" stop-color="#56bc7c"/><stop offset="0.395" stop-color="#80c468"/><stop offset="0.461" stop-color="#a6cc56"/><stop offset="0.517" stop-color="#c4d643"/><stop offset="0.530" stop-color="#cad840"/><stop offset="0.600" stop-color="#e6e428"/><stop offset="0.701" stop-color="#f4e618"/><stop offset="0.707" stop-color="#f4e518"/><stop offset="0.785" stop-color="#f8de18"/><stop offset="0.892" stop-color="#f6c61e"/><stop offset="0.897" stop-color="#f6c41e"/><stop offset="0.954" stop-color="#f6b026"/><stop offset="0.980" stop-color="#f5aa29"/></linearGradient>
<linearGradient id="g44" gradientUnits="userSpaceOnUse" x1="166.6" x2="265.7" y1="0" y2="0"><stop offset="0.021" stop-color="#10abc7"/><stop offset="0.081" stop-color="#10acbc"/><stop offset="0.136" stop-color="#11adb3"/><stop offset="0.177" stop-color="#12b0a4"/><stop offset="0.200" stop-color="#1db29b"/><stop offset="0.240" stop-color="#2eb48e"/><stop offset="0.305" stop-color="#56bc7c"/><stop offset="0.372" stop-color="#80c468"/><stop offset="0.437" stop-color="#a6cc56"/><stop offset="0.493" stop-color="#c4d644"/><stop offset="0.507" stop-color="#cad840"/><stop offset="0.579" stop-color="#e6e428"/><stop offset="0.682" stop-color="#f4e618"/><stop offset="0.688" stop-color="#f4e518"/><stop offset="0.765" stop-color="#f8de18"/><stop offset="0.872" stop-color="#f6c61e"/><stop offset="0.877" stop-color="#f6c41e"/><stop offset="0.931" stop-color="#f6b026"/><stop offset="0.980" stop-color="#f4a52b"/></linearGradient>
<linearGradient id="g45" gradientUnits="userSpaceOnUse" x1="169.6" x2="267.2" y1="0" y2="0"><stop offset="0.021" stop-color="#10acc0"/><stop offset="0.047" stop-color="#10acbc"/><stop offset="0.104" stop-color="#11adb3"/><stop offset="0.150" stop-color="#12b0a4"/><stop offset="0.175" stop-color="#1db29b"/><stop offset="0.215" stop-color="#2eb48e"/><stop offset="0.282" stop-color="#56bc7c"/><stop offset="0.347" stop-color="#80c468"/><stop offset="0.414" stop-color="#a6cc56"/><stop offset="0.470" stop-color="#c5d643"/><stop offset="0.484" stop-color="#cad840"/><stop offset="0.557" stop-color="#e6e428"/><stop offset="0.662" stop-color="#f4e618"/><stop offset="0.668" stop-color="#f4e518"/><stop offset="0.746" stop-color="#f8de18"/><stop offset="0.853" stop-color="#f6c61e"/><stop offset="0.857" stop-color="#f6c41e"/><stop offset="0.909" stop-color="#f6b026"/><stop offset="0.961" stop-color="#f4a42c"/><stop offset="0.979" stop-color="#f4a12d"/></linearGradient>
<linearGradient id="g46" gradientUnits="userSpaceOnUse" x1="172.4" x2="268.8" y1="0" y2="0"><stop offset="0.020" stop-color="#10acba"/><stop offset="0.071" stop-color="#11adb3"/><stop offset="0.122" stop-color="#12b0a4"/><stop offset="0.151" stop-color="#1db29b"/><stop offset="0.191" stop-color="#2eb48e"/><stop offset="0.258" stop-color="#56bc7c"/><stop offset="0.324" stop-color="#80c468"/><stop offset="0.391" stop-color="#a6cc56"/><stop offset="0.447" stop-color="#c4d643"/><stop offset="0.461" stop-color="#cad840"/><stop offset="0.535" stop-color="#e6e428"/><stop offset="0.642" stop-color="#f4e618"/><stop offset="0.647" stop-color="#f4e618"/><stop offset="0.726" stop-color="#f8de18"/><stop offset="0.833" stop-color="#f6c61e"/><stop offset="0.838" stop-color="#f6c41e"/><stop offset="0.888" stop-color="#f6b026"/><stop offset="0.939" stop-color="#f4a42c"/><stop offset="0.979" stop-color="#f39c2f"/></linearGradient>
<linearGradient id="g47" gradientUnits="userSpaceOnUse" x1="175.2" x2="270.3" y1="0" y2="0"><stop offset="0.021" stop-color="#11adb4"/><stop offset="0.092" stop-color="#12b0a4"/><stop offset="0.130" stop-color="#1db29b"/><stop offset="0.170" stop-color="#2eb48e"/><stop offset="0.235" stop-color="#56bc7c"/><stop offset="0.302" stop-color="#80c468"/><stop offset="0.368" stop-color="#a6cc56"/><stop offset="0.424" stop-color="#c4d644"/><stop offset="0.438" stop-color="#cad840"/><stop offset="0.514" stop-color="#e6e428"/><stop offset="0.621" stop-color="#f4e618"/><stop offset="0.628" stop-color="#f4e518"/><stop offset="0.706" stop-color="#f8de18"/><stop offset="0.814" stop-color="#f6c61e"/><stop offset="0.818" stop-color="#f6c41e"/><stop offset="0.866" stop-color="#f6b026"/><stop offset="0.914" stop-color="#f4a42c"/><stop offset="0.961" stop-color="#f39a30"/><stop offset="0.962" stop-color="#f39a30"/><stop offset="0.979" stop-color="#f29532"/></linearGradient>
<linearGradient id="g48" gradientUnits="userSpaceOnUse" x1="177.9" x2="271.8" y1="0" y2="0"><stop offset="0.021" stop-color="#11aeaf"/><stop offset="0.069" stop-color="#12b0a4"/><stop offset="0.110" stop-color="#1db29b"/><stop offset="0.149" stop-color="#2eb48e"/><stop offset="0.214" stop-color="#56bc7c"/><stop offset="0.280" stop-color="#80c468"/><stop offset="0.346" stop-color="#a6cc56"/><stop offset="0.401" stop-color="#c5d643"/><stop offset="0.415" stop-color="#cad840"/><stop offset="0.492" stop-color="#e6e428"/><stop offset="0.602" stop-color="#f4e618"/><stop offset="0.608" stop-color="#f4e518"/><stop offset="0.687" stop-color="#f8de18"/><stop offset="0.794" stop-color="#f6c61e"/><stop offset="0.799" stop-color="#f6c41e"/><stop offset="0.847" stop-color="#f6b026"/><stop offset="0.895" stop-color="#f4a42c"/><stop offset="0.943" stop-color="#f39a30"/><stop offset="0.944" stop-color="#f39a30"/><stop offset="0.979" stop-color="#f18c35"/></linearGradient>
<linearGradient id="g49" gradientUnits="userSpaceOnUse" x1="180.5" x2="273.3" y1="0" y2="0"><stop offset="0.022" stop-color="#11afab"/><stop offset="0.051" stop-color="#12b0a4"/><stop offset="0.089" stop-color="#1db29b"/><stop offset="0.129" stop-color="#2eb48e"/><stop offset="0.193" stop-color="#56bc7c"/><stop offset="0.258" stop-color="#80c468"/><stop offset="0.324" stop-color="#a6cc56"/><stop offset="0.379" stop-color="#c4d643"/><stop offset="0.394" stop-color="#cad840"/><stop offset="0.470" stop-color="#e6e428"/><stop offset="0.581" stop-color="#f4e618"/><stop offset="0.588" stop-color="#f4e518"/><stop offset="0.666" stop-color="#f8de18"/><stop offset="0.775" stop-color="#f6c61e"/><stop offset="0.779" stop-color="#f6c41e"/><stop offset="0.828" stop-color="#f6b026"/><stop offset="0.877" stop-color="#f4a42c"/><stop offset="0.926" stop-color="#f39a30"/><stop offset="0.927" stop-color="#f39930"/><stop offset="0.979" stop-color="#f08338"/></linearGradient>
<linearGradient id="g50" gradientUnits="userSpaceOnUse" x1="183.0" x2="274.7" y1="0" y2="0"><stop offset="0.022" stop-color="#12b0a7"/><stop offset="0.034" stop-color="#12b0a4"/><stop offset="0.072" stop-color="#1db29b"/><stop offset="0.110" stop-color="#2eb48e"/><stop offset="0.176" stop-color="#56bc7c"/><stop offset="0.240" stop-color="#80c468"/><stop offset="0.304" stop-color="#a6cc56"/><stop offset="0.359" stop-color="#c4d644"/><stop offset="0.374" stop-color="#cad840"/><stop offset="0.451" stop-color="#e6e428"/><stop offset="0.561" stop-color="#f4e618"/><stop offset="0.567" stop-color="#f4e518"/><stop offset="0.646" stop-color="#f8de18"/><stop offset="0.756" stop-color="#f6c61e"/><stop offset="0.760" stop-color="#f6c41e"/><stop offset="0.810" stop-color="#f6b026"/><stop offset="0.860" stop-color="#f4a42c"/><stop offset="0.912" stop-color="#f39a30"/><stop offset="0.913" stop-color="#f39930"/><stop offset="0.962" stop-color="#f08238"/><stop offset="0.978" stop-color="#f07b3b"/></linearGradient>
<linearGradient id="g51" gradientUnits="userSpaceOnUse" x1="185.4" x2="276.1" y1="0" y2="0"><stop offset="0.022" stop-color="#13b0a3"/><stop offset="0.056" stop-color="#1db29b"/><stop offset="0.095" stop-color="#2eb48e"/><stop offset="0.159" stop-color="#56bc7c"/><stop offset="0.223" stop-color="#80c468"/><stop offset="0.287" stop-color="#a6cc56"/><stop offset="0.341" stop-color="#c4d643"/><stop offset="0.355" stop-color="#cad840"/><stop offset="0.431" stop-color="#e6e428"/><stop offset="0.540" stop-color="#f4e618"/><stop offset="0.547" stop-color="#f4e518"/><stop offset="0.626" stop-color="#f8de18"/><stop offset="0.735" stop-color="#f6c61e"/><stop offset="0.741" stop-color="#f6c41e"/><stop offset="0.793" stop-color="#f6b026"/><stop offset="0.844" stop-color="#f4a42c"/><stop offset="0.896" stop-color="#f39a30"/><stop offset="0.897" stop-color="#f39a30"/><stop offset="0.944" stop-color="#f08238"/><stop offset="0.978" stop-color="#f0743e"/></linearGradient>
<linearGradient id="g52" gradientUnits="userSpaceOnUse" x1="187.7" x2="277.5" y1="0" y2="0"><stop offset="0.022" stop-color="#18b19f"/><stop offset="0.041" stop-color="#1db29b"/><stop offset="0.079" stop-color="#2eb48e"/><stop offset="0.143" stop-color="#56bc7c"/><stop offset="0.206" stop-color="#80c468"/><stop offset="0.269" stop-color="#a6cc56"/><stop offset="0.323" stop-color="#c5d643"/><stop offset="0.336" stop-color="#cad840"/><stop offset="0.412" stop-color="#e6e428"/><stop offset="0.520" stop-color="#f4e618"/><stop offset="0.527" stop-color="#f4e518"/><stop offset="0.606" stop-color="#f8de18"/><stop offset="0.716" stop-color="#f6c61e"/><stop offset="0.721" stop-color="#f6c41e"/><stop offset="0.774" stop-color="#f6b026"/><stop offset="0.829" stop-color="#f4a42c"/><stop offset="0.882" stop-color="#f39a30"/><stop offset="0.883" stop-color="#f39930"/><stop offset="0.928" stop-color="#f08238"/><stop offset="0.974" stop-color="#f06e40"/><stop offset="0.978" stop-color="#f06d40"/></linearGradient>
<linearGradient id="g53" gradientUnits="userSpaceOnUse" x1="190.0" x2="278.8" y1="0" y2="0"><stop offset="0.023" stop-color="#1db29b"/><stop offset="0.060" stop-color="#2eb48e"/><stop offset="0.124" stop-color="#56bc7c"/><stop offset="0.187" stop-color="#80c468"/><stop offset="0.250" stop-color="#a6cc56"/><stop offset="0.304" stop-color="#c4d643"/><stop offset="0.319" stop-color="#cad840"/><stop offset="0.393" stop-color="#e6e428"/><stop offset="0.501" stop-color="#f4e618"/><stop offset="0.507" stop-color="#f4e518"/><stop offset="0.587" stop-color="#f8de18"/><stop offset="0.697" stop-color="#f6c61e"/><stop offset="0.701" stop-color="#f6c41e"/><stop offset="0.757" stop-color="#f6b026"/><stop offset="0.812" stop-color="#f4a42c"/><stop offset="0.867" stop-color="#f39a30"/><stop offset="0.868" stop-color="#f39a30"/><stop offset="0.912" stop-color="#f08238"/><stop offset="0.958" stop-color="#f06e40"/><stop offset="0.977" stop-color="#ee6542"/></linearGradient>
<linearGradient id="g54" gradientUnits="userSpaceOnUse" x1="192.1" x2="280.2" y1="0" y2="0"><stop offset="0.022" stop-color="#27b393"/><stop offset="0.039" stop-color="#2eb48e"/><stop offset="0.104" stop-color="#56bc7c"/><stop offset="0.169" stop-color="#80c468"/><stop offset="0.235" stop-color="#a6cc56"/><stop offset="0.289" stop-color="#c4d643"/><stop offset="0.303" stop-color="#cad840"/><stop offset="0.377" stop-color="#e6e428"/><stop offset="0.481" stop-color="#f4e618"/><stop offset="0.487" stop-color="#f4e518"/><stop offset="0.566" stop-color="#f8de18"/><stop offset="0.678" stop-color="#f6c61e"/><stop offset="0.682" stop-color="#f6c41e"/><stop offset="0.739" stop-color="#f6b026"/><stop offset="0.796" stop-color="#f4a42c"/><stop offset="0.853" stop-color="#f39a30"/><stop offset="0.854" stop-color="#f39930"/><stop offset="0.896" stop-color="#f08238"/><stop offset="0.940" stop-color="#f06e40"/><stop offset="0.978" stop-color="#ed5d43"/></linearGradient>
<linearGradient id="g55" gradientUnits="userSpaceOnUse" x1="194.3" x2="281.5" y1="0" y2="0"><stop offset="0.023" stop-color="#33b58c"/><stop offset="0.083" stop-color="#56bc7c"/><stop offset="0.151" stop-color="#80c468"/><stop offset="0.217" stop-color="#a6cc56"/><stop offset="0.274" stop-color="#c4d643"/><stop offset="0.288" stop-color="#cad840"/><stop offset="0.359" stop-color="#e6e428"/><stop offset="0.461" stop-color="#f4e618"/><stop offset="0.467" stop-color="#f4e518"/><stop offset="0.547" stop-color="#f8de18"/><stop offset="0.658" stop-color="#f6c61e"/><stop offset="0.663" stop-color="#f6c41e"/><stop offset="0.722" stop-color="#f6b026"/><stop offset="0.779" stop-color="#f4a42c"/><stop offset="0.838" stop-color="#f39a30"/><stop offset="0.839" stop-color="#f39a30"/><stop offset="0.880" stop-color="#f08238"/><stop offset="0.923" stop-color="#f06e40"/><stop offset="0.965" stop-color="#ec5a44"/><stop offset="0.978" stop-color="#eb5444"/></linearGradient>
<linearGradient id="g56" gradientUnits="userSpaceOnUse" x1="196.3" x2="282.7" y1="0" y2="0"><stop offset="0.023" stop-color="#41b886"/><stop offset="0.061" stop-color="#56bc7c"/><stop offset="0.130" stop-color="#80c468"/><stop offset="0.201" stop-color="#a6cc56"/><stop offset="0.260" stop-color="#c4d643"/><stop offset="0.273" stop-color="#cad840"/><stop offset="0.342" stop-color="#e6e428"/><stop offset="0.442" stop-color="#f4e618"/><stop offset="0.448" stop-color="#f4e518"/><stop offset="0.527" stop-color="#f8de18"/><stop offset="0.639" stop-color="#f6c61e"/><stop offset="0.643" stop-color="#f6c41e"/><stop offset="0.703" stop-color="#f6b026"/><stop offset="0.764" stop-color="#f4a42c"/><stop offset="0.823" stop-color="#f39a30"/><stop offset="0.824" stop-color="#f39a30"/><stop offset="0.864" stop-color="#f08238"/><stop offset="0.906" stop-color="#f06e40"/><stop offset="0.946" stop-color="#ec5a44"/><stop offset="0.977" stop-color="#e94c44"/></linearGradient>
<linearGradient id="g57" gradientUnits="userSpaceOnUse" x1="198.3" x2="284.0" y1="0" y2="0"><stop offset="0.023" stop-color="#4fbb7f"/><stop offset="0.036" stop-color="#56bc7c"/><stop offset="0.111" stop-color="#80c468"/><stop offset="0.184" stop-color="#a6cc56"/><stop offset="0.246" stop-color="#c4d643"/><stop offset="0.259" stop-color="#cad840"/><stop offset="0.327" stop-color="#e6e428"/><stop offset="0.422" stop-color="#f4e618"/><stop offset="0.428" stop-color="#f4e518"/><stop offset="0.509" stop-color="#f8de18"/><stop offset="0.620" stop-color="#f6c61e"/><stop offset="0.624" stop-color="#f6c41e"/><stop offset="0.685" stop-color="#f6b026"/><stop offset="0.746" stop-color="#f4a42c"/><stop offset="0.808" stop-color="#f39a30"/><stop offset="0.809" stop-color="#f39930"/><stop offset="0.849" stop-color="#f08238"/><stop offset="0.889" stop-color="#f06e40"/><stop offset="0.930" stop-color="#ec5a44"/><stop offset="0.970" stop-color="#e84644"/><stop offset="0.977" stop-color="#e84746"/></linearGradient>
<linearGradient id="g58" gradientUnits="userSpaceOnUse" x1="200.3" x2="285.2" y1="0" y2="0"><stop offset="0.024" stop-color="#5ebd78"/><stop offset="0.088" stop-color="#80c468"/><stop offset="0.166" stop-color="#a6cc56"/><stop offset="0.232" stop-color="#c5d643"/><stop offset="0.244" stop-color="#cad840"/><stop offset="0.310" stop-color="#e6e428"/><stop offset="0.403" stop-color="#f4e618"/><stop offset="0.409" stop-color="#f4e518"/><stop offset="0.489" stop-color="#f8de18"/><stop offset="0.600" stop-color="#f6c61e"/><stop offset="0.606" stop-color="#f6c41e"/><stop offset="0.668" stop-color="#f6b026"/><stop offset="0.729" stop-color="#f4a42c"/><stop offset="0.792" stop-color="#f39a30"/><stop offset="0.793" stop-color="#f39a30"/><stop offset="0.832" stop-color="#f08238"/><stop offset="0.873" stop-color="#f06e40"/><stop offset="0.913" stop-color="#ec5a44"/><stop offset="0.953" stop-color="#e84644"/><stop offset="0.977" stop-color="#e84b4b"/></linearGradient>
<linearGradient id="g59" gradientUnits="userSpaceOnUse" x1="202.1" x2="286.4" y1="0" y2="0"><stop offset="0.023" stop-color="#69c073"/><stop offset="0.068" stop-color="#80c468"/><stop offset="0.150" stop-color="#a6cc56"/><stop offset="0.218" stop-color="#c4d644"/><stop offset="0.230" stop-color="#cad840"/><stop offset="0.294" stop-color="#e6e428"/><stop offset="0.385" stop-color="#f4e618"/><stop offset="0.390" stop-color="#f4e518"/><stop offset="0.471" stop-color="#f8de18"/><stop offset="0.581" stop-color="#f6c61e"/><stop offset="0.587" stop-color="#f6c41e"/><stop offset="0.650" stop-color="#f6b026"/><stop offset="0.713" stop-color="#f4a42c"/><stop offset="0.776" stop-color="#f39a30"/><stop offset="0.778" stop-color="#f39930"/><stop offset="0.816" stop-color="#f08238"/><stop offset="0.857" stop-color="#f06e40"/><stop offset="0.897" stop-color="#ec5a44"/><stop offset="0.936" stop-color="#e84644"/><stop offset="0.962" stop-color="#e84c4c"/><stop offset="0.977" stop-color="#ea5656"/></linearGradient>
<linearGradient id="g60" gradientUnits="userSpaceOnUse" x1="204.0" x2="287.5" y1="0" y2="0"><stop offset="0.024" stop-color="#74c26e"/><stop offset="0.048" stop-color="#80c468"/><stop offset="0.133" stop-color="#a6cc56"/><stop offset="0.205" stop-color="#c5d643"/><stop offset="0.216" stop-color="#cad840"/><stop offset="0.278" stop-color="#e6e428"/><stop offset="0.366" stop-color="#f4e618"/><stop offset="0.371" stop-color="#f4e518"/><stop offset="0.451" stop-color="#f8de18"/><stop offset="0.562" stop-color="#f6c61e"/><stop offset="0.568" stop-color="#f6c41e"/><stop offset="0.632" stop-color="#f6b026"/><stop offset="0.697" stop-color="#f4a42c"/><stop offset="0.761" stop-color="#f39a30"/><stop offset="0.763" stop-color="#f39930"/><stop offset="0.801" stop-color="#f08238"/><stop offset="0.842" stop-color="#f06e40"/><stop offset="0.880" stop-color="#ec5a44"/><stop offset="0.919" stop-color="#e84644"/><stop offset="0.946" stop-color="#e84c4c"/><stop offset="0.976" stop-color="#ed6262"/></linearGradient>
<linearGradient id="g61" gradientUnits="userSpaceOnUse" x1="205.8" x2="288.7" y1="0" y2="0"><stop offset="0.025" stop-color="#7fc468"/><stop offset="0.026" stop-color="#80c468"/><stop offset="0.115" stop-color="#a6cc56"/><stop offset="0.191" stop-color="#c4d643"/><stop offset="0.202" stop-color="#cad840"/><stop offset="0.262" stop-color="#e6e428"/><stop offset="0.348" stop-color="#f4e618"/><stop offset="0.353" stop-color="#f4e518"/><stop offset="0.432" stop-color="#f8de18"/><stop offset="0.542" stop-color="#f6c61e"/><stop offset="0.548" stop-color="#f6c41e"/><stop offset="0.614" stop-color="#f6b026"/><stop offset="0.679" stop-color="#f4a42c"/><stop offset="0.746" stop-color="#f39a30"/><stop offset="0.748" stop-color="#f39930"/><stop offset="0.786" stop-color="#f08238"/><stop offset="0.825" stop-color="#f06e40"/><stop offset="0.865" stop-color="#ec5a44"/><stop offset="0.904" stop-color="#e84644"/><stop offset="0.930" stop-color="#e84c4c"/><stop offset="0.974" stop-color="#ef6d6d"/><stop offset="0.976" stop-color="#ef7070"/></linearGradient>
<linearGradient id="g62" gradientUnits="userSpaceOnUse" x1="207.5" x2="289.8" y1="0" y2="0"><stop offset="0.024" stop-color="#89c664"/><stop offset="0.097" stop-color="#a6cc56"/><stop offset="0.178" stop-color="#c4d644"/><stop offset="0.188" stop-color="#cad840"/><stop offset="0.247" stop-color="#e6e428"/><stop offset="0.329" stop-color="#f4e618"/><stop offset="0.334" stop-color="#f4e518"/><stop offset="0.413" stop-color="#f8de18"/><stop offset="0.521" stop-color="#f6c61e"/><stop offset="0.527" stop-color="#f6c41e"/><stop offset="0.595" stop-color="#f6b026"/><stop offset="0.663" stop-color="#f4a42c"/><stop offset="0.731" stop-color="#f39a30"/><stop offset="0.733" stop-color="#f39930"/><stop offset="0.770" stop-color="#f08238"/><stop offset="0.809" stop-color="#f06e40"/><stop offset="0.847" stop-color="#ec5a44"/><stop offset="0.885" stop-color="#e84644"/><stop offset="0.910" stop-color="#e84c4c"/><stop offset="0.953" stop-color="#ef6d6d"/><stop offset="0.960" stop-color="#f07272"/><stop offset="0.976" stop-color="#f07878"/></linearGradient>
<linearGradient id="g63" gradientUnits="userSpaceOnUse" x1="209.2" x2="290.9" y1="0" y2="0"><stop offset="0.025" stop-color="#94c85f"/><stop offset="0.076" stop-color="#a6cc56"/><stop offset="0.166" stop-color="#c4d643"/><stop offset="0.175" stop-color="#cad840"/><stop offset="0.232" stop-color="#e6e428"/><stop offset="0.311" stop-color="#f4e618"/><stop offset="0.316" stop-color="#f4e518"/><stop offset="0.393" stop-color="#f8de18"/><stop offset="0.501" stop-color="#f6c61e"/><stop offset="0.507" stop-color="#f6c41e"/><stop offset="0.577" stop-color="#f6b026"/><stop offset="0.646" stop-color="#f4a42c"/><stop offset="0.716" stop-color="#f39a30"/><stop offset="0.717" stop-color="#f39a30"/><stop offset="0.754" stop-color="#f08238"/><stop offset="0.792" stop-color="#f06e40"/><stop offset="0.829" stop-color="#ec5a44"/><stop offset="0.865" stop-color="#e84644"/><stop offset="0.890" stop-color="#e84c4c"/><stop offset="0.931" stop-color="#ef6d6d"/><stop offset="0.939" stop-color="#f07272"/><stop offset="0.976" stop-color="#f17e7e"/></linearGradient>
<linearGradient id="g64" gradientUnits="userSpaceOnUse" x1="210.8" x2="292.0" y1="0" y2="0"><stop offset="0.025" stop-color="#9aca5c"/><stop offset="0.059" stop-color="#a6cc56"/><stop offset="0.152" stop-color="#c4d644"/><stop offset="0.163" stop-color="#cad840"/><stop offset="0.217" stop-color="#e6e428"/><stop offset="0.294" stop-color="#f4e618"/><stop offset="0.298" stop-color="#f4e618"/><stop offset="0.375" stop-color="#f8de18"/><stop offset="0.480" stop-color="#f6c61e"/><stop offset="0.487" stop-color="#f6c41e"/><stop offset="0.558" stop-color="#f6b026"/><stop offset="0.630" stop-color="#f4a42c"/><stop offset="0.702" stop-color="#f39a30"/><stop offset="0.703" stop-color="#f39930"/><stop offset="0.739" stop-color="#f08238"/><stop offset="0.776" stop-color="#f06e40"/><stop offset="0.812" stop-color="#ec5a44"/><stop offset="0.848" stop-color="#e84644"/><stop offset="0.872" stop-color="#e84c4c"/><stop offset="0.913" stop-color="#ef6d6d"/><stop offset="0.920" stop-color="#f07272"/><stop offset="0.976" stop-color="#f18585"/></linearGradient>
<linearGradient id="g65" gradientUnits="userSpaceOnUse" x1="212.4" x2="293.0" y1="0" y2="0"><stop offset="0.025" stop-color="#a1cb58"/><stop offset="0.040" stop-color="#a6cc56"/><stop offset="0.138" stop-color="#c4d644"/><stop offset="0.149" stop-color="#cad840"/><stop offset="0.201" stop-color="#e6e428"/><stop offset="0.277" stop-color="#f4e618"/><stop offset="0.282" stop-color="#f4e518"/><stop offset="0.356" stop-color="#f8de18"/><stop offset="0.460" stop-color="#f6c61e"/><stop offset="0.466" stop-color="#f6c41e"/><stop offset="0.541" stop-color="#f6b026"/><stop offset="0.614" stop-color="#f4a42c"/><stop offset="0.687" stop-color="#f39a30"/><stop offset="0.688" stop-color="#f39a30"/><stop offset="0.724" stop-color="#f08238"/><stop offset="0.760" stop-color="#f06e40"/><stop offset="0.796" stop-color="#ec5a44"/><stop offset="0.832" stop-color="#e84644"/><stop offset="0.856" stop-color="#e84c4c"/><stop offset="0.896" stop-color="#ef6d6d"/><stop offset="0.903" stop-color="#f07272"/><stop offset="0.975" stop-color="#f28c8c"/></linearGradient>
<linearGradient id="g66" gradientUnits="userSpaceOnUse" x1="213.9" x2="294.1" y1="0" y2="0"><stop offset="0.024" stop-color="#a8cd55"/><stop offset="0.124" stop-color="#c4d644"/><stop offset="0.134" stop-color="#cad840"/><stop offset="0.185" stop-color="#e6e428"/><stop offset="0.259" stop-color="#f4e618"/><stop offset="0.264" stop-color="#f4e518"/><stop offset="0.338" stop-color="#f8de18"/><stop offset="0.440" stop-color="#f6c61e"/><stop offset="0.446" stop-color="#f6c41e"/><stop offset="0.523" stop-color="#f6b026"/><stop offset="0.597" stop-color="#f4a42c"/><stop offset="0.672" stop-color="#f39a30"/><stop offset="0.675" stop-color="#f39930"/><stop offset="0.709" stop-color="#f08238"/><stop offset="0.745" stop-color="#f06e40"/><stop offset="0.781" stop-color="#ec5a44"/><stop offset="0.816" stop-color="#e84644"/><stop offset="0.840" stop-color="#e84c4c"/><stop offset="0.880" stop-color="#ef6d6d"/><stop offset="0.886" stop-color="#f07272"/><stop offset="0.963" stop-color="#f28e8e"/><stop offset="0.976" stop-color="#f29191"/></linearGradient>
<linearGradient id="g67" gradientUnits="userSpaceOnUse" x1="215.4" x2="295.1" y1="0" y2="0"><stop offset="0.025" stop-color="#aecf51"/><stop offset="0.112" stop-color="#c5d643"/><stop offset="0.121" stop-color="#cad840"/><stop offset="0.171" stop-color="#e6e428"/><stop offset="0.243" stop-color="#f4e618"/><stop offset="0.247" stop-color="#f4e518"/><stop offset="0.320" stop-color="#f8de18"/><stop offset="0.420" stop-color="#f6c61e"/><stop offset="0.426" stop-color="#f6c41e"/><stop offset="0.504" stop-color="#f6b026"/><stop offset="0.581" stop-color="#f4a42c"/><stop offset="0.658" stop-color="#f39a30"/><stop offset="0.659" stop-color="#f39a30"/><stop offset="0.694" stop-color="#f08238"/><stop offset="0.729" stop-color="#f06e40"/><stop offset="0.764" stop-color="#ec5a44"/><stop offset="0.800" stop-color="#e84644"/><stop offset="0.823" stop-color="#e84c4c"/><stop offset="0.862" stop-color="#ef6d6d"/><stop offset="0.870" stop-color="#f07272"/><stop offset="0.949" stop-color="#f28e8e"/><stop offset="0.975" stop-color="#f39595"/></linearGradient>
<linearGradient id="g68" gradientUnits="userSpaceOnUse" x1="216.9" x2="296.0" y1="0" y2="0"><stop offset="0.025" stop-color="#b4d14d"/><stop offset="0.100" stop-color="#c5d643"/><stop offset="0.109" stop-color="#cad840"/><stop offset="0.157" stop-color="#e6e428"/><stop offset="0.226" stop-color="#f4e618"/><stop offset="0.230" stop-color="#f4e618"/><stop offset="0.302" stop-color="#f8de18"/><stop offset="0.400" stop-color="#f6c61e"/><stop offset="0.407" stop-color="#f6c41e"/><stop offset="0.485" stop-color="#f6b026"/><stop offset="0.563" stop-color="#f4a42c"/><stop offset="0.642" stop-color="#f39a30"/><stop offset="0.643" stop-color="#f39930"/><stop offset="0.677" stop-color="#f08238"/><stop offset="0.714" stop-color="#f06e40"/><stop offset="0.748" stop-color="#ec5a44"/><stop offset="0.783" stop-color="#e84644"/><stop offset="0.807" stop-color="#e84c4c"/><stop offset="0.845" stop-color="#ef6c6c"/><stop offset="0.853" stop-color="#f07272"/><stop offset="0.934" stop-color="#f28e8e"/><stop offset="0.974" stop-color="#f39999"/></linearGradient>
<linearGradient id="g69" gradientUnits="userSpaceOnUse" x1="218.3" x2="297.0" y1="0" y2="0"><stop offset="0.025" stop-color="#b8d24b"/><stop offset="0.086" stop-color="#c5d643"/><stop offset="0.095" stop-color="#cad840"/><stop offset="0.142" stop-color="#e6e428"/><stop offset="0.211" stop-color="#f4e618"/><stop offset="0.214" stop-color="#f4e518"/><stop offset="0.284" stop-color="#f8de18"/><stop offset="0.381" stop-color="#f6c61e"/><stop offset="0.388" stop-color="#f6c41e"/><stop offset="0.467" stop-color="#f6b026"/><stop offset="0.546" stop-color="#f4a42c"/><stop offset="0.625" stop-color="#f39a30"/><stop offset="0.627" stop-color="#f39930"/><stop offset="0.662" stop-color="#f08238"/><stop offset="0.697" stop-color="#f06e40"/><stop offset="0.732" stop-color="#ec5a44"/><stop offset="0.767" stop-color="#e84644"/><stop offset="0.790" stop-color="#e84c4c"/><stop offset="0.830" stop-color="#ef6d6d"/><stop offset="0.837" stop-color="#f07272"/><stop offset="0.919" stop-color="#f28e8e"/><stop offset="0.975" stop-color="#f39d9d"/></linearGradient>
<linearGradient id="g70" gradientUnits="userSpaceOnUse" x1="219.7" x2="297.9" y1="0" y2="0"><stop offset="0.025" stop-color="#bbd349"/><stop offset="0.071" stop-color="#c5d643"/><stop offset="0.080" stop-color="#cad840"/><stop offset="0.126" stop-color="#e6e428"/><stop offset="0.194" stop-color="#f4e618"/><stop offset="0.198" stop-color="#f4e518"/><stop offset="0.267" stop-color="#f8de18"/><stop offset="0.363" stop-color="#f6c61e"/><stop offset="0.369" stop-color="#f6c41e"/><stop offset="0.450" stop-color="#f6b026"/><stop offset="0.529" stop-color="#f4a42c"/><stop offset="0.609" stop-color="#f39a30"/><stop offset="0.611" stop-color="#f39a30"/><stop offset="0.645" stop-color="#f08238"/><stop offset="0.681" stop-color="#f06e40"/><stop offset="0.716" stop-color="#ec5a44"/><stop offset="0.751" stop-color="#e84644"/><stop offset="0.774" stop-color="#e84c4c"/><stop offset="0.813" stop-color="#ef6c6c"/><stop offset="0.820" stop-color="#f07272"/><stop offset="0.904" stop-color="#f28e8e"/><stop offset="0.974" stop-color="#f4a1a1"/></linearGradient>
<linearGradient id="g71" gradientUnits="userSpaceOnUse" x1="221.1" x2="298.9" y1="0" y2="0"><stop offset="0.026" stop-color="#bed447"/><stop offset="0.057" stop-color="#c5d643"/><stop offset="0.066" stop-color="#cad840"/><stop offset="0.112" stop-color="#e6e428"/><stop offset="0.178" stop-color="#f4e618"/><stop offset="0.182" stop-color="#f4e618"/><stop offset="0.250" stop-color="#f8de18"/><stop offset="0.345" stop-color="#f6c61e"/><stop offset="0.351" stop-color="#f6c41e"/><stop offset="0.432" stop-color="#f6b026"/><stop offset="0.513" stop-color="#f4a42c"/><stop offset="0.594" stop-color="#f39a30"/><stop offset="0.595" stop-color="#f39930"/><stop offset="0.630" stop-color="#f08238"/><stop offset="0.665" stop-color="#f06e40"/><stop offset="0.701" stop-color="#ec5a44"/><stop offset="0.736" stop-color="#e84644"/><stop offset="0.759" stop-color="#e84c4c"/><stop offset="0.797" stop-color="#ef6c6c"/><stop offset="0.805" stop-color="#f07272"/><stop offset="0.889" stop-color="#f28e8e"/><stop offset="0.971" stop-color="#f4a4a4"/><stop offset="0.975" stop-color="#f4a5a5"/></linearGradient>
<linearGradient id="g72" gradientUnits="userSpaceOnUse" x1="222.4" x2="299.8" y1="0" y2="0"><stop offset="0.026" stop-color="#c1d545"/><stop offset="0.043" stop-color="#c5d643"/><stop offset="0.050" stop-color="#cad840"/><stop offset="0.097" stop-color="#e6e428"/><stop offset="0.163" stop-color="#f4e618"/><stop offset="0.166" stop-color="#f4e618"/><stop offset="0.234" stop-color="#f8de18"/><stop offset="0.327" stop-color="#f6c61e"/><stop offset="0.334" stop-color="#f6c41e"/><stop offset="0.415" stop-color="#f6b026"/><stop offset="0.496" stop-color="#f4a42c"/><stop offset="0.578" stop-color="#f39a30"/><stop offset="0.580" stop-color="#f39930"/><stop offset="0.614" stop-color="#f08238"/><stop offset="0.650" stop-color="#f06e40"/><stop offset="0.685" stop-color="#ec5a44"/><stop offset="0.721" stop-color="#e84644"/><stop offset="0.745" stop-color="#e84c4c"/><stop offset="0.783" stop-color="#ef6d6d"/><stop offset="0.791" stop-color="#f07272"/><stop offset="0.874" stop-color="#f28e8e"/><stop offset="0.957" stop-color="#f4a4a4"/><stop offset="0.975" stop-color="#f4a9a9"/></linearGradient>
<linearGradient id="g73" gradientUnits="userSpaceOnUse" x1="223.7" x2="300.6" y1="0" y2="0"><stop offset="0.026" stop-color="#c5d643"/><stop offset="0.034" stop-color="#cad840"/><stop offset="0.081" stop-color="#e6e428"/><stop offset="0.147" stop-color="#f4e618"/><stop offset="0.151" stop-color="#f4e518"/><stop offset="0.217" stop-color="#f8de18"/><stop offset="0.310" stop-color="#f6c61e"/><stop offset="0.316" stop-color="#f6c41e"/><stop offset="0.398" stop-color="#f6b026"/><stop offset="0.481" stop-color="#f4a42c"/><stop offset="0.563" stop-color="#f39a30"/><stop offset="0.564" stop-color="#f39a30"/><stop offset="0.599" stop-color="#f08238"/><stop offset="0.636" stop-color="#f06e40"/><stop offset="0.671" stop-color="#ec5a44"/><stop offset="0.706" stop-color="#e84644"/><stop offset="0.730" stop-color="#e84c4c"/><stop offset="0.769" stop-color="#ef6d6d"/><stop offset="0.777" stop-color="#f07272"/><stop offset="0.860" stop-color="#f28e8e"/><stop offset="0.944" stop-color="#f4a4a4"/><stop offset="0.962" stop-color="#f4a9a9"/><stop offset="0.973" stop-color="#f5abab"/></linearGradient>
<linearGradient id="g74" gradientUnits="userSpaceOnUse" x1="224.9" x2="301.5" y1="0" y2="0"><stop offset="0.026" stop-color="#cfda3b"/><stop offset="0.064" stop-color="#e6e428"/><stop offset="0.132" stop-color="#f4e618"/><stop offset="0.136" stop-color="#f4e518"/><stop offset="0.201" stop-color="#f8de18"/><stop offset="0.292" stop-color="#f6c61e"/><stop offset="0.299" stop-color="#f6c41e"/><stop offset="0.382" stop-color="#f6b026"/><stop offset="0.465" stop-color="#f4a42c"/><stop offset="0.548" stop-color="#f39a30"/><stop offset="0.549" stop-color="#f39930"/><stop offset="0.585" stop-color="#f08238"/><stop offset="0.621" stop-color="#f06e40"/><stop offset="0.657" stop-color="#ec5a44"/><stop offset="0.692" stop-color="#e84644"/><stop offset="0.715" stop-color="#e84c4c"/><stop offset="0.756" stop-color="#ef6d6d"/><stop offset="0.764" stop-color="#f07272"/><stop offset="0.847" stop-color="#f28e8e"/><stop offset="0.931" stop-color="#f4a4a4"/><stop offset="0.949" stop-color="#f4a9a9"/><stop offset="0.974" stop-color="#f5adad"/></linearGradient>
<linearGradient id="g75" gradientUnits="userSpaceOnUse" x1="226.1" x2="302.3" y1="0" y2="0"><stop offset="0.026" stop-color="#dadf32"/><stop offset="0.047" stop-color="#e6e428"/><stop offset="0.116" stop-color="#f4e618"/><stop offset="0.120" stop-color="#f4e618"/><stop offset="0.186" stop-color="#f8de18"/><stop offset="0.275" stop-color="#f6c61e"/><stop offset="0.282" stop-color="#f6c41e"/><stop offset="0.366" stop-color="#f6b026"/><stop offset="0.448" stop-color="#f4a42c"/><stop offset="0.532" stop-color="#f39a30"/><stop offset="0.535" stop-color="#f39930"/><stop offset="0.569" stop-color="#f08238"/><stop offset="0.606" stop-color="#f06e40"/><stop offset="0.643" stop-color="#ec5a44"/><stop offset="0.678" stop-color="#e84644"/><stop offset="0.702" stop-color="#e84c4c"/><stop offset="0.742" stop-color="#ef6d6d"/><stop offset="0.750" stop-color="#f07272"/><stop offset="0.834" stop-color="#f28e8e"/><stop offset="0.919" stop-color="#f4a4a4"/><stop offset="0.938" stop-color="#f4a9a9"/><stop offset="0.973" stop-color="#f5aeae"/></linearGradient>
<linearGradient id="g76" gradientUnits="userSpaceOnUse" x1="227.3" x2="303.2" y1="0" y2="0"><stop offset="0.026" stop-color="#e4e329"/><stop offset="0.029" stop-color="#e6e428"/><stop offset="0.101" stop-color="#f4e618"/><stop offset="0.107" stop-color="#f4e518"/><stop offset="0.170" stop-color="#f8de18"/><stop offset="0.257" stop-color="#f6c61e"/><stop offset="0.265" stop-color="#f6c41e"/><stop offset="0.349" stop-color="#f6b026"/><stop offset="0.434" stop-color="#f4a42c"/><stop offset="0.518" stop-color="#f39a30"/><stop offset="0.519" stop-color="#f39a30"/><stop offset="0.555" stop-color="#f08238"/><stop offset="0.592" stop-color="#f06e40"/><stop offset="0.627" stop-color="#ec5a44"/><stop offset="0.664" stop-color="#e84644"/><stop offset="0.688" stop-color="#e84c4c"/><stop offset="0.728" stop-color="#ef6c6c"/><stop offset="0.736" stop-color="#f07272"/><stop offset="0.823" stop-color="#f28e8e"/><stop offset="0.907" stop-color="#f4a4a4"/><stop offset="0.925" stop-color="#f4a9a9"/><stop offset="0.974" stop-color="#f5b0b0"/></linearGradient>
<linearGradient id="g77" gradientUnits="userSpaceOnUse" x1="228.5" x2="304.0" y1="0" y2="0"><stop offset="0.027" stop-color="#e9e424"/><stop offset="0.088" stop-color="#f4e618"/><stop offset="0.092" stop-color="#f4e518"/><stop offset="0.154" stop-color="#f8de18"/><stop offset="0.240" stop-color="#f6c61e"/><stop offset="0.248" stop-color="#f6c41e"/><stop offset="0.333" stop-color="#f6b026"/><stop offset="0.418" stop-color="#f4a42c"/><stop offset="0.503" stop-color="#f39a30"/><stop offset="0.505" stop-color="#f39930"/><stop offset="0.541" stop-color="#f08238"/><stop offset="0.578" stop-color="#f06e40"/><stop offset="0.614" stop-color="#ec5a44"/><stop offset="0.650" stop-color="#e84644"/><stop offset="0.675" stop-color="#e84c4c"/><stop offset="0.714" stop-color="#ef6d6d"/><stop offset="0.722" stop-color="#f07272"/><stop offset="0.810" stop-color="#f28e8e"/><stop offset="0.895" stop-color="#f4a4a4"/><stop offset="0.914" stop-color="#f4a9a9"/><stop offset="0.974" stop-color="#f5b2b2"/></linearGradient>
<linearGradient id="g78" gradientUnits="userSpaceOnUse" x1="229.6" x2="304.7" y1="0" y2="0"><stop offset="0.027" stop-color="#ede520"/><stop offset="0.072" stop-color="#f4e618"/><stop offset="0.078" stop-color="#f4e518"/><stop offset="0.140" stop-color="#f8de18"/><stop offset="0.225" stop-color="#f6c61e"/><stop offset="0.232" stop-color="#f6c41e"/><stop offset="0.318" stop-color="#f6b026"/><stop offset="0.404" stop-color="#f4a42c"/><stop offset="0.489" stop-color="#f39a30"/><stop offset="0.491" stop-color="#f39930"/><stop offset="0.527" stop-color="#f08238"/><stop offset="0.564" stop-color="#f06e40"/><stop offset="0.600" stop-color="#ec5a44"/><stop offset="0.636" stop-color="#e84644"/><stop offset="0.662" stop-color="#e84c4c"/><stop offset="0.702" stop-color="#ef6d6d"/><stop offset="0.709" stop-color="#f07272"/><stop offset="0.797" stop-color="#f28e8e"/><stop offset="0.884" stop-color="#f4a4a4"/><stop offset="0.902" stop-color="#f4a9a9"/><stop offset="0.973" stop-color="#f5b4b4"/></linearGradient>
<linearGradient id="g79" gradientUnits="userSpaceOnUse" x1="230.6" x2="305.5" y1="0" y2="0"><stop offset="0.026" stop-color="#f0e51d"/><stop offset="0.058" stop-color="#f4e618"/><stop offset="0.064" stop-color="#f4e618"/><stop offset="0.125" stop-color="#f8de18"/><stop offset="0.209" stop-color="#f6c61e"/><stop offset="0.217" stop-color="#f6c41e"/><stop offset="0.304" stop-color="#f6b026"/><stop offset="0.389" stop-color="#f4a42c"/><stop offset="0.476" stop-color="#f39a30"/><stop offset="0.478" stop-color="#f39930"/><stop offset="0.514" stop-color="#f08238"/><stop offset="0.551" stop-color="#f06e40"/><stop offset="0.587" stop-color="#ec5a44"/><stop offset="0.625" stop-color="#e84644"/><stop offset="0.649" stop-color="#e84c4c"/><stop offset="0.689" stop-color="#ef6c6c"/><stop offset="0.697" stop-color="#f07272"/><stop offset="0.785" stop-color="#f28e8e"/><stop offset="0.872" stop-color="#f4a4a4"/><stop offset="0.892" stop-color="#f4a9a9"/><stop offset="0.973" stop-color="#f5b6b6"/></linearGradient>
<linearGradient id="g80" gradientUnits="userSpaceOnUse" x1="231.7" x2="306.2" y1="0" y2="0"><stop offset="0.027" stop-color="#f2e61a"/><stop offset="0.043" stop-color="#f4e618"/><stop offset="0.051" stop-color="#f4e518"/><stop offset="0.111" stop-color="#f8de18"/><stop offset="0.195" stop-color="#f6c61e"/><stop offset="0.203" stop-color="#f6c41e"/><stop offset="0.290" stop-color="#f6b026"/><stop offset="0.376" stop-color="#f4a42c"/><stop offset="0.463" stop-color="#f39a30"/><stop offset="0.464" stop-color="#f39a30"/><stop offset="0.500" stop-color="#f08238"/><stop offset="0.538" stop-color="#f06e40"/><stop offset="0.574" stop-color="#ec5a44"/><stop offset="0.612" stop-color="#e84644"/><stop offset="0.636" stop-color="#e84c4c"/><stop offset="0.677" stop-color="#ef6d6d"/><stop offset="0.686" stop-color="#f07272"/><stop offset="0.774" stop-color="#f28e8e"/><stop offset="0.861" stop-color="#f4a4a4"/><stop offset="0.880" stop-color="#f4a9a9"/><stop offset="0.973" stop-color="#f6b7b7"/></linearGradient>
<linearGradient id="g81" gradientUnits="userSpaceOnUse" x1="232.7" x2="307.0" y1="0" y2="0"><stop offset="0.027" stop-color="#f4e518"/><stop offset="0.091" stop-color="#f8de18"/><stop offset="0.180" stop-color="#f6c61e"/><stop offset="0.188" stop-color="#f6c41e"/><stop offset="0.276" stop-color="#f6b026"/><stop offset="0.362" stop-color="#f4a42c"/><stop offset="0.450" stop-color="#f39a30"/><stop offset="0.451" stop-color="#f39a30"/><stop offset="0.487" stop-color="#f08238"/><stop offset="0.525" stop-color="#f06e40"/><stop offset="0.563" stop-color="#ec5a44"/><stop offset="0.599" stop-color="#e84644"/><stop offset="0.623" stop-color="#e84c4c"/><stop offset="0.665" stop-color="#ef6d6d"/><stop offset="0.673" stop-color="#f07272"/><stop offset="0.762" stop-color="#f28e8e"/><stop offset="0.850" stop-color="#f4a4a4"/><stop offset="0.870" stop-color="#f4a9a9"/><stop offset="0.974" stop-color="#f6b9b9"/></linearGradient>
<linearGradient id="g82" gradientUnits="userSpaceOnUse" x1="233.7" x2="307.7" y1="0" y2="0"><stop offset="0.027" stop-color="#f5e418"/><stop offset="0.077" stop-color="#f8de18"/><stop offset="0.166" stop-color="#f6c61e"/><stop offset="0.174" stop-color="#f6c41e"/><stop offset="0.262" stop-color="#f6b026"/><stop offset="0.349" stop-color="#f4a42c"/><stop offset="0.437" stop-color="#f39a30"/><stop offset="0.439" stop-color="#f39930"/><stop offset="0.476" stop-color="#f08238"/><stop offset="0.514" stop-color="#f06e40"/><stop offset="0.550" stop-color="#ec5a44"/><stop offset="0.587" stop-color="#e84644"/><stop offset="0.612" stop-color="#e84c4c"/><stop offset="0.653" stop-color="#ef6c6c"/><stop offset="0.661" stop-color="#f07272"/><stop offset="0.752" stop-color="#f28e8e"/><stop offset="0.840" stop-color="#f4a4a4"/><stop offset="0.860" stop-color="#f4a9a9"/><stop offset="0.973" stop-color="#f6bbbb"/></linearGradient>
<linearGradient id="g83" gradientUnits="userSpaceOnUse" x1="234.7" x2="308.4" y1="0" y2="0"><stop offset="0.027" stop-color="#f6e218"/><stop offset="0.061" stop-color="#f8de18"/><stop offset="0.152" stop-color="#f6c61e"/><stop offset="0.160" stop-color="#f6c41e"/><stop offset="0.249" stop-color="#f6b026"/><stop offset="0.337" stop-color="#f4a42c"/><stop offset="0.424" stop-color="#f39a30"/><stop offset="0.427" stop-color="#f39930"/><stop offset="0.463" stop-color="#f08238"/><stop offset="0.501" stop-color="#f06e40"/><stop offset="0.538" stop-color="#ec5a44"/><stop offset="0.576" stop-color="#e84644"/><stop offset="0.600" stop-color="#e84c4c"/><stop offset="0.642" stop-color="#ef6d6d"/><stop offset="0.650" stop-color="#f07272"/><stop offset="0.740" stop-color="#f28e8e"/><stop offset="0.830" stop-color="#f4a4a4"/><stop offset="0.849" stop-color="#f4a9a9"/><stop offset="0.969" stop-color="#f6bcbc"/><stop offset="0.974" stop-color="#f6bdbd"/></linearGradient>
<linearGradient id="g84" gradientUnits="userSpaceOnUse" x1="235.6" x2="309.0" y1="0" y2="0"><stop offset="0.027" stop-color="#f7e018"/><stop offset="0.046" stop-color="#f8de18"/><stop offset="0.139" stop-color="#f6c61e"/><stop offset="0.146" stop-color="#f6c41e"/><stop offset="0.236" stop-color="#f6b026"/><stop offset="0.324" stop-color="#f4a42c"/><stop offset="0.413" stop-color="#f39a30"/><stop offset="0.414" stop-color="#f39a30"/><stop offset="0.451" stop-color="#f08238"/><stop offset="0.489" stop-color="#f06e40"/><stop offset="0.527" stop-color="#ec5a44"/><stop offset="0.564" stop-color="#e84644"/><stop offset="0.588" stop-color="#e84c4c"/><stop offset="0.631" stop-color="#ef6d6d"/><stop offset="0.639" stop-color="#f07272"/><stop offset="0.730" stop-color="#f28e8e"/><stop offset="0.820" stop-color="#f4a4a4"/><stop offset="0.839" stop-color="#f4a9a9"/><stop offset="0.960" stop-color="#f6bcbc"/><stop offset="0.973" stop-color="#f6bebe"/></linearGradient>
<linearGradient id="g85" gradientUnits="userSpaceOnUse" x1="236.5" x2="309.7" y1="0" y2="0"><stop offset="0.027" stop-color="#f8de18"/><stop offset="0.031" stop-color="#f8de18"/><stop offset="0.124" stop-color="#f6c61e"/><stop offset="0.132" stop-color="#f6c41e"/><stop offset="0.221" stop-color="#f6b026"/><stop offset="0.310" stop-color="#f4a42c"/><stop offset="0.399" stop-color="#f39a30"/><stop offset="0.402" stop-color="#f39930"/><stop offset="0.439" stop-color="#f08238"/><stop offset="0.477" stop-color="#f06e40"/><stop offset="0.515" stop-color="#ec5a44"/><stop offset="0.552" stop-color="#e84644"/><stop offset="0.578" stop-color="#e84c4c"/><stop offset="0.619" stop-color="#ef6c6c"/><stop offset="0.627" stop-color="#f07272"/><stop offset="0.719" stop-color="#f28e8e"/><stop offset="0.809" stop-color="#f4a4a4"/><stop offset="0.830" stop-color="#f4a9a9"/><stop offset="0.951" stop-color="#f6bcbc"/><stop offset="0.973" stop-color="#f6c0c0"/></linearGradient>
<linearGradient id="g86" gradientUnits="userSpaceOnUse" x1="237.4" x2="310.3" y1="0" y2="0"><stop offset="0.027" stop-color="#f8db19"/><stop offset="0.111" stop-color="#f6c61e"/><stop offset="0.118" stop-color="#f6c41e"/><stop offset="0.209" stop-color="#f6b026"/><stop offset="0.298" stop-color="#f4a42c"/><stop offset="0.387" stop-color="#f39a30"/><stop offset="0.388" stop-color="#f39a30"/><stop offset="0.425" stop-color="#f08238"/><stop offset="0.465" stop-color="#f06e40"/><stop offset="0.503" stop-color="#ec5a44"/><stop offset="0.541" stop-color="#e84644"/><stop offset="0.567" stop-color="#e84c4c"/><stop offset="0.609" stop-color="#ef6d6d"/><stop offset="0.617" stop-color="#f07272"/><stop offset="0.709" stop-color="#f28e8e"/><stop offset="0.800" stop-color="#f4a4a4"/><stop offset="0.820" stop-color="#f4a9a9"/><stop offset="0.942" stop-color="#f6bcbc"/><stop offset="0.973" stop-color="#f6c1c1"/></linearGradient>
<linearGradient id="g87" gradientUnits="userSpaceOnUse" x1="238.2" x2="310.9" y1="0" y2="0"><stop offset="0.027" stop-color="#f7d61a"/><stop offset="0.097" stop-color="#f6c61e"/><stop offset="0.105" stop-color="#f6c41e"/><stop offset="0.195" stop-color="#f6b026"/><stop offset="0.284" stop-color="#f4a42c"/><stop offset="0.374" stop-color="#f39a30"/><stop offset="0.376" stop-color="#f39930"/><stop offset="0.414" stop-color="#f08238"/><stop offset="0.453" stop-color="#f06e40"/><stop offset="0.492" stop-color="#ec5a44"/><stop offset="0.531" stop-color="#e84644"/><stop offset="0.555" stop-color="#e84c4c"/><stop offset="0.598" stop-color="#ef6d6d"/><stop offset="0.606" stop-color="#f07272"/><stop offset="0.698" stop-color="#f28e8e"/><stop offset="0.791" stop-color="#f4a4a4"/><stop offset="0.810" stop-color="#f4a9a9"/><stop offset="0.932" stop-color="#f6bcbc"/><stop offset="0.972" stop-color="#f7c2c2"/></linearGradient>
<linearGradient id="g88" gradientUnits="userSpaceOnUse" x1="239.1" x2="311.5" y1="0" y2="0"><stop offset="0.028" stop-color="#f7d21b"/><stop offset="0.083" stop-color="#f6c61e"/><stop offset="0.091" stop-color="#f6c41e"/><stop offset="0.181" stop-color="#f6b026"/><stop offset="0.272" stop-color="#f4a42c"/><stop offset="0.362" stop-color="#f39a30"/><stop offset="0.363" stop-color="#f39a30"/><stop offset="0.402" stop-color="#f08238"/><stop offset="0.442" stop-color="#f06e40"/><stop offset="0.481" stop-color="#ec5a44"/><stop offset="0.519" stop-color="#e84644"/><stop offset="0.544" stop-color="#e84c4c"/><stop offset="0.589" stop-color="#ef6d6d"/><stop offset="0.597" stop-color="#f07272"/><stop offset="0.689" stop-color="#f28e8e"/><stop offset="0.782" stop-color="#f4a4a4"/><stop offset="0.801" stop-color="#f4a9a9"/><stop offset="0.924" stop-color="#f6bcbc"/><stop offset="0.972" stop-color="#f7c4c4"/></linearGradient>
<linearGradient id="g89" gradientUnits="userSpaceOnUse" x1="239.9" x2="312.1" y1="0" y2="0"><stop offset="0.028" stop-color="#f7cf1c"/><stop offset="0.071" stop-color="#f6c61e"/><stop offset="0.079" stop-color="#f6c41e"/><stop offset="0.169" stop-color="#f6b026"/><stop offset="0.259" stop-color="#f4a42c"/><stop offset="0.349" stop-color="#f39a30"/><stop offset="0.352" stop-color="#f39930"/><stop offset="0.391" stop-color="#f08238"/><stop offset="0.430" stop-color="#f06e40"/><stop offset="0.470" stop-color="#ec5a44"/><stop offset="0.509" stop-color="#e84644"/><stop offset="0.535" stop-color="#e84c4c"/><stop offset="0.578" stop-color="#ef6d6d"/><stop offset="0.586" stop-color="#f07272"/><stop offset="0.680" stop-color="#f28e8e"/><stop offset="0.772" stop-color="#f4a4a4"/><stop offset="0.793" stop-color="#f4a9a9"/><stop offset="0.914" stop-color="#f6bcbc"/><stop offset="0.973" stop-color="#f7c5c5"/></linearGradient>
<linearGradient id="g90" gradientUnits="userSpaceOnUse" x1="240.6" x2="312.6" y1="0" y2="0"><stop offset="0.027" stop-color="#f7cb1c"/><stop offset="0.058" stop-color="#f6c61e"/><stop offset="0.066" stop-color="#f6c41e"/><stop offset="0.156" stop-color="#f6b026"/><stop offset="0.248" stop-color="#f4a42c"/><stop offset="0.338" stop-color="#f39a30"/><stop offset="0.340" stop-color="#f39a30"/><stop offset="0.379" stop-color="#f08238"/><stop offset="0.419" stop-color="#f06e40"/><stop offset="0.459" stop-color="#ec5a44"/><stop offset="0.498" stop-color="#e84644"/><stop offset="0.524" stop-color="#e84c4c"/><stop offset="0.569" stop-color="#ef6d6d"/><stop offset="0.577" stop-color="#f07272"/><stop offset="0.670" stop-color="#f28e8e"/><stop offset="0.762" stop-color="#f4a4a4"/><stop offset="0.783" stop-color="#f4a9a9"/><stop offset="0.905" stop-color="#f6bcbc"/><stop offset="0.972" stop-color="#f7c7c7"/></linearGradient>
<linearGradient id="g91" gradientUnits="userSpaceOnUse" x1="241.4" x2="313.2" y1="0" y2="0"><stop offset="0.028" stop-color="#f6c71d"/><stop offset="0.045" stop-color="#f6c61e"/><stop offset="0.053" stop-color="#f6c41e"/><stop offset="0.145" stop-color="#f6b026"/><stop offset="0.235" stop-color="#f4a42c"/><stop offset="0.327" stop-color="#f39a30"/><stop offset="0.329" stop-color="#f39930"/><stop offset="0.368" stop-color="#f08238"/><stop offset="0.408" stop-color="#f06e40"/><stop offset="0.449" stop-color="#ec5a44"/><stop offset="0.488" stop-color="#e84644"/><stop offset="0.514" stop-color="#e84c4c"/><stop offset="0.559" stop-color="#ef6d6d"/><stop offset="0.567" stop-color="#f07272"/><stop offset="0.660" stop-color="#f28e8e"/><stop offset="0.752" stop-color="#f4a4a4"/><stop offset="0.772" stop-color="#f4a9a9"/><stop offset="0.896" stop-color="#f6bcbc"/><stop offset="0.972" stop-color="#f7c8c8"/></linearGradient>
<linearGradient id="g92" gradientUnits="userSpaceOnUse" x1="242.1" x2="313.7" y1="0" y2="0"><stop offset="0.028" stop-color="#f6c41e"/><stop offset="0.030" stop-color="#f6c41e"/><stop offset="0.125" stop-color="#f6b026"/><stop offset="0.220" stop-color="#f4a42c"/><stop offset="0.315" stop-color="#f39a30"/><stop offset="0.317" stop-color="#f39a30"/><stop offset="0.357" stop-color="#f08238"/><stop offset="0.398" stop-color="#f06e40"/><stop offset="0.438" stop-color="#ec5a44"/><stop offset="0.477" stop-color="#e84644"/><stop offset="0.505" stop-color="#e84c4c"/><stop offset="0.549" stop-color="#ef6c6c"/><stop offset="0.559" stop-color="#f07272"/><stop offset="0.651" stop-color="#f28e8e"/><stop offset="0.741" stop-color="#f4a4a4"/><stop offset="0.762" stop-color="#f4a9a9"/><stop offset="0.887" stop-color="#f6bcbc"/><stop offset="0.972" stop-color="#f7caca"/></linearGradient>
<linearGradient id="g93" gradientUnits="userSpaceOnUse" x1="242.8" x2="314.2" y1="0" y2="0"><stop offset="0.028" stop-color="#f6c21f"/><stop offset="0.113" stop-color="#f6b026"/><stop offset="0.208" stop-color="#f4a42c"/><stop offset="0.304" stop-color="#f39a30"/><stop offset="0.307" stop-color="#f39930"/><stop offset="0.346" stop-color="#f08238"/><stop offset="0.388" stop-color="#f06e40"/><stop offset="0.428" stop-color="#ec5a44"/><stop offset="0.469" stop-color="#e84644"/><stop offset="0.496" stop-color="#e84c4c"/><stop offset="0.540" stop-color="#ef6d6d"/><stop offset="0.549" stop-color="#f07272"/><stop offset="0.641" stop-color="#f28e8e"/><stop offset="0.732" stop-color="#f4a4a4"/><stop offset="0.753" stop-color="#f4a9a9"/><stop offset="0.877" stop-color="#f6bcbc"/><stop offset="0.972" stop-color="#f7cbcb"/></linearGradient>
<linearGradient id="g94" gradientUnits="userSpaceOnUse" x1="243.5" x2="314.7" y1="0" y2="0"><stop offset="0.028" stop-color="#f6bf20"/><stop offset="0.100" stop-color="#f6b026"/><stop offset="0.195" stop-color="#f4a42c"/><stop offset="0.292" stop-color="#f39a30"/><stop offset="0.294" stop-color="#f39a30"/><stop offset="0.334" stop-color="#f08238"/><stop offset="0.377" stop-color="#f06e40"/><stop offset="0.417" stop-color="#ec5a44"/><stop offset="0.458" stop-color="#e84644"/><stop offset="0.486" stop-color="#e84c4c"/><stop offset="0.531" stop-color="#ef6c6c"/><stop offset="0.539" stop-color="#f07272"/><stop offset="0.632" stop-color="#f28e8e"/><stop offset="0.723" stop-color="#f4a4a4"/><stop offset="0.743" stop-color="#f4a9a9"/><stop offset="0.869" stop-color="#f6bcbc"/><stop offset="0.972" stop-color="#f7cccc"/></linearGradient>
<linearGradient id="g95" gradientUnits="userSpaceOnUse" x1="244.1" x2="315.2" y1="0" y2="0"><stop offset="0.028" stop-color="#f6bc21"/><stop offset="0.087" stop-color="#f6b026"/><stop offset="0.184" stop-color="#f4a42c"/><stop offset="0.280" stop-color="#f39a30"/><stop offset="0.282" stop-color="#f39930"/><stop offset="0.323" stop-color="#f08238"/><stop offset="0.365" stop-color="#f06e40"/><stop offset="0.406" stop-color="#ec5a44"/><stop offset="0.449" stop-color="#e84644"/><stop offset="0.477" stop-color="#e84c4c"/><stop offset="0.523" stop-color="#ef6d6d"/><stop offset="0.532" stop-color="#f07272"/><stop offset="0.623" stop-color="#f28e8e"/><stop offset="0.713" stop-color="#f4a4a4"/><stop offset="0.734" stop-color="#f4a9a9"/><stop offset="0.862" stop-color="#f6bcbc"/><stop offset="0.972" stop-color="#f7cdcd"/></linearGradient>
<linearGradient id="g96" gradientUnits="userSpaceOnUse" x1="244.8" x2="315.6" y1="0" y2="0"><stop offset="0.029" stop-color="#f6b922"/><stop offset="0.074" stop-color="#f6b026"/><stop offset="0.171" stop-color="#f4a42c"/><stop offset="0.267" stop-color="#f39a30"/><stop offset="0.270" stop-color="#f39930"/><stop offset="0.311" stop-color="#f08238"/><stop offset="0.355" stop-color="#f06e40"/><stop offset="0.397" stop-color="#ec5a44"/><stop offset="0.439" stop-color="#e84644"/><stop offset="0.466" stop-color="#e84c4c"/><stop offset="0.514" stop-color="#ef6d6d"/><stop offset="0.523" stop-color="#f07272"/><stop offset="0.614" stop-color="#f28e8e"/><stop offset="0.705" stop-color="#f4a4a4"/><stop offset="0.724" stop-color="#f4a9a9"/><stop offset="0.856" stop-color="#f6bcbc"/><stop offset="0.971" stop-color="#f7cdcd"/></linearGradient>
<linearGradient id="g97" gradientUnits="userSpaceOnUse" x1="245.4" x2="316.1" y1="0" y2="0"><stop offset="0.029" stop-color="#f6b723"/><stop offset="0.061" stop-color="#f6b026"/><stop offset="0.159" stop-color="#f4a42c"/><stop offset="0.257" stop-color="#f39a30"/><stop offset="0.258" stop-color="#f39a30"/><stop offset="0.300" stop-color="#f08238"/><stop offset="0.344" stop-color="#f06e40"/><stop offset="0.387" stop-color="#ec5a44"/><stop offset="0.429" stop-color="#e84644"/><stop offset="0.457" stop-color="#e84c4c"/><stop offset="0.505" stop-color="#ef6d6d"/><stop offset="0.514" stop-color="#f07272"/><stop offset="0.606" stop-color="#f28e8e"/><stop offset="0.696" stop-color="#f4a4a4"/><stop offset="0.716" stop-color="#f4a9a9"/><stop offset="0.849" stop-color="#f6bcbc"/><stop offset="0.972" stop-color="#f8cece"/></linearGradient>
<linearGradient id="g98" gradientUnits="userSpaceOnUse" x1="245.9" x2="316.5" y1="0" y2="0"><stop offset="0.028" stop-color="#f6b424"/><stop offset="0.048" stop-color="#f6b026"/><stop offset="0.147" stop-color="#f4a42c"/><stop offset="0.245" stop-color="#f39a30"/><stop offset="0.248" stop-color="#f39930"/><stop offset="0.289" stop-color="#f08238"/><stop offset="0.334" stop-color="#f06e40"/><stop offset="0.377" stop-color="#ec5a44"/><stop offset="0.420" stop-color="#e84644"/><stop offset="0.449" stop-color="#e84c4c"/><stop offset="0.497" stop-color="#ef6d6d"/><stop offset="0.505" stop-color="#f07272"/><stop offset="0.598" stop-color="#f28e8e"/><stop offset="0.688" stop-color="#f4a4a4"/><stop offset="0.708" stop-color="#f4a9a9"/><stop offset="0.843" stop-color="#f6bcbc"/><stop offset="0.972" stop-color="#f8cfcf"/></linearGradient>
<linearGradient id="g99" gradientUnits="userSpaceOnUse" x1="246.5" x2="316.9" y1="0" y2="0"><stop offset="0.029" stop-color="#f6b026"/><stop offset="0.030" stop-color="#f6b026"/><stop offset="0.132" stop-color="#f4a42c"/><stop offset="0.233" stop-color="#f39a30"/><stop offset="0.236" stop-color="#f39930"/><stop offset="0.279" stop-color="#f08238"/><stop offset="0.324" stop-color="#f06e40"/><stop offset="0.367" stop-color="#ec5a44"/><stop offset="0.411" stop-color="#e84644"/><stop offset="0.440" stop-color="#e84c4c"/><stop offset="0.489" stop-color="#ef6d6d"/><stop offset="0.497" stop-color="#f07272"/><stop offset="0.590" stop-color="#f28e8e"/><stop offset="0.679" stop-color="#f4a4a4"/><stop offset="0.699" stop-color="#f4a9a9"/><stop offset="0.835" stop-color="#f6bcbc"/><stop offset="0.972" stop-color="#f8d0d0"/></linearGradient>
<linearGradient id="g100" gradientUnits="userSpaceOnUse" x1="247.0" x2="317.3" y1="0" y2="0"><stop offset="0.028" stop-color="#f6ae27"/><stop offset="0.116" stop-color="#f4a42c"/><stop offset="0.222" stop-color="#f39a30"/><stop offset="0.223" stop-color="#f39a30"/><stop offset="0.267" stop-color="#f08238"/><stop offset="0.313" stop-color="#f06e40"/><stop offset="0.357" stop-color="#ec5a44"/><stop offset="0.402" stop-color="#e84644"/><stop offset="0.431" stop-color="#e84c4c"/><stop offset="0.481" stop-color="#ef6d6d"/><stop offset="0.489" stop-color="#f07272"/><stop offset="0.580" stop-color="#f28e8e"/><stop offset="0.671" stop-color="#f4a4a4"/><stop offset="0.691" stop-color="#f4a9a9"/><stop offset="0.829" stop-color="#f6bcbc"/><stop offset="0.972" stop-color="#f8d1d1"/></linearGradient>
<linearGradient id="g101" gradientUnits="userSpaceOnUse" x1="247.5" x2="317.7" y1="0" y2="0"><stop offset="0.028" stop-color="#f5ac28"/><stop offset="0.099" stop-color="#f4a42c"/><stop offset="0.206" stop-color="#f39a30"/><stop offset="0.208" stop-color="#f39a30"/><stop offset="0.268" stop-color="#f08437"/><stop offset="0.271" stop-color="#f08238"/><stop offset="0.312" stop-color="#f06e40"/><stop offset="0.339" stop-color="#ed6143"/><stop offset="0.353" stop-color="#ec5a44"/><stop offset="0.397" stop-color="#e84644"/><stop offset="0.426" stop-color="#e84c4c"/><stop offset="0.473" stop-color="#ef6d6d"/><stop offset="0.482" stop-color="#f07272"/><stop offset="0.573" stop-color="#f28e8e"/><stop offset="0.664" stop-color="#f4a4a4"/><stop offset="0.684" stop-color="#f4a9a9"/><stop offset="0.822" stop-color="#f6bcbc"/><stop offset="0.972" stop-color="#f8d1d1"/></linearGradient>
<linearGradient id="g102" gradientUnits="userSpaceOnUse" x1="248.0" x2="318.0" y1="0" y2="0"><stop offset="0.029" stop-color="#f5aa29"/><stop offset="0.081" stop-color="#f4a42c"/><stop offset="0.190" stop-color="#f39a30"/><stop offset="0.193" stop-color="#f39930"/><stop offset="0.260" stop-color="#f08437"/><stop offset="0.263" stop-color="#f08238"/><stop offset="0.307" stop-color="#f06e40"/><stop offset="0.334" stop-color="#ed6143"/><stop offset="0.348" stop-color="#ec5a44"/><stop offset="0.391" stop-color="#e84644"/><stop offset="0.418" stop-color="#e84c4c"/><stop offset="0.466" stop-color="#ef6c6c"/><stop offset="0.474" stop-color="#f07272"/><stop offset="0.566" stop-color="#f28e8e"/><stop offset="0.656" stop-color="#f4a4a4"/><stop offset="0.676" stop-color="#f4a9a9"/><stop offset="0.815" stop-color="#f6bcbc"/><stop offset="0.971" stop-color="#f8d2d2"/></linearGradient>
<linearGradient id="g103" gradientUnits="userSpaceOnUse" x1="248.5" x2="318.4" y1="0" y2="0"><stop offset="0.029" stop-color="#f5a82a"/><stop offset="0.063" stop-color="#f4a42c"/><stop offset="0.175" stop-color="#f39a30"/><stop offset="0.178" stop-color="#f39930"/><stop offset="0.252" stop-color="#f08437"/><stop offset="0.257" stop-color="#f08238"/><stop offset="0.301" stop-color="#f06e40"/><stop offset="0.330" stop-color="#ed6143"/><stop offset="0.344" stop-color="#ec5a44"/><stop offset="0.385" stop-color="#e84644"/><stop offset="0.413" stop-color="#e84c4c"/><stop offset="0.458" stop-color="#ef6c6c"/><stop offset="0.467" stop-color="#f07272"/><stop offset="0.559" stop-color="#f28e8e"/><stop offset="0.649" stop-color="#f4a4a4"/><stop offset="0.669" stop-color="#f4a9a9"/><stop offset="0.809" stop-color="#f6bcbc"/><stop offset="0.972" stop-color="#f8d3d3"/></linearGradient>
<linearGradient id="g104" gradientUnits="userSpaceOnUse" x1="248.9" x2="318.7" y1="0" y2="0"><stop offset="0.029" stop-color="#f4a62b"/><stop offset="0.044" stop-color="#f4a42c"/><stop offset="0.160" stop-color="#f39a30"/><stop offset="0.163" stop-color="#f39930"/><stop offset="0.245" stop-color="#f08437"/><stop offset="0.249" stop-color="#f08238"/><stop offset="0.295" stop-color="#f06e40"/><stop offset="0.325" stop-color="#ed6143"/><stop offset="0.338" stop-color="#ec5a44"/><stop offset="0.380" stop-color="#e84644"/><stop offset="0.407" stop-color="#e84c4c"/><stop offset="0.453" stop-color="#ef6d6d"/><stop offset="0.460" stop-color="#f07272"/><stop offset="0.552" stop-color="#f28e8e"/><stop offset="0.642" stop-color="#f4a4a4"/><stop offset="0.662" stop-color="#f4a9a9"/><stop offset="0.803" stop-color="#f6bcbc"/><stop offset="0.972" stop-color="#f8d4d4"/></linearGradient>
<linearGradient id="g105" gradientUnits="userSpaceOnUse" x1="249.3" x2="319.0" y1="0" y2="0"><stop offset="0.028" stop-color="#f4a42c"/><stop offset="0.145" stop-color="#f39a30"/><stop offset="0.148" stop-color="#f39a30"/><stop offset="0.238" stop-color="#f08437"/><stop offset="0.242" stop-color="#f08238"/><stop offset="0.290" stop-color="#f06e40"/><stop offset="0.321" stop-color="#ed6043"/><stop offset="0.334" stop-color="#ec5a44"/><stop offset="0.374" stop-color="#e84644"/><stop offset="0.402" stop-color="#e84c4c"/><stop offset="0.446" stop-color="#ef6d6d"/><stop offset="0.455" stop-color="#f07272"/><stop offset="0.545" stop-color="#f28e8e"/><stop offset="0.636" stop-color="#f4a4a4"/><stop offset="0.656" stop-color="#f4a9a9"/><stop offset="0.796" stop-color="#f6bcbc"/><stop offset="0.967" stop-color="#f8d4d4"/><stop offset="0.971" stop-color="#f8d4d4"/></linearGradient>
<linearGradient id="g106" gradientUnits="userSpaceOnUse" x1="249.7" x2="319.3" y1="0" y2="0"><stop offset="0.029" stop-color="#f4a22d"/><stop offset="0.129" stop-color="#f39a30"/><stop offset="0.132" stop-color="#f39930"/><stop offset="0.233" stop-color="#f08437"/><stop offset="0.237" stop-color="#f08238"/><stop offset="0.284" stop-color="#f06e40"/><stop offset="0.316" stop-color="#ed6143"/><stop offset="0.330" stop-color="#ec5a44"/><stop offset="0.369" stop-color="#e84644"/><stop offset="0.397" stop-color="#e84c4c"/><stop offset="0.440" stop-color="#ef6c6c"/><stop offset="0.448" stop-color="#f07272"/><stop offset="0.540" stop-color="#f28e8e"/><stop offset="0.631" stop-color="#f4a4a4"/><stop offset="0.651" stop-color="#f4a9a9"/><stop offset="0.792" stop-color="#f6bcbc"/><stop offset="0.961" stop-color="#f8d4d4"/><stop offset="0.972" stop-color="#f8d4d4"/></linearGradient>
<linearGradient id="g107" gradientUnits="userSpaceOnUse" x1="250.1" x2="319.6" y1="0" y2="0"><stop offset="0.029" stop-color="#f4a02d"/><stop offset="0.113" stop-color="#f39a30"/><stop offset="0.115" stop-color="#f39a30"/><stop offset="0.226" stop-color="#f08437"/><stop offset="0.231" stop-color="#f08238"/><stop offset="0.281" stop-color="#f06e40"/><stop offset="0.313" stop-color="#ed6143"/><stop offset="0.326" stop-color="#ec5a44"/><stop offset="0.364" stop-color="#e84644"/><stop offset="0.392" stop-color="#e84c4c"/><stop offset="0.435" stop-color="#ef6d6d"/><stop offset="0.444" stop-color="#f07272"/><stop offset="0.534" stop-color="#f28e8e"/><stop offset="0.626" stop-color="#f4a4a4"/><stop offset="0.645" stop-color="#f4a9a9"/><stop offset="0.786" stop-color="#f6bcbc"/><stop offset="0.956" stop-color="#f8d4d4"/><stop offset="0.972" stop-color="#f8d4d4"/></linearGradient>
<linearGradient id="g108" gradientUnits="userSpaceOnUse" x1="250.4" x2="319.8" y1="0" y2="0"><stop offset="0.028" stop-color="#f39f2e"/><stop offset="0.098" stop-color="#f39a30"/><stop offset="0.100" stop-color="#f39930"/><stop offset="0.220" stop-color="#f08437"/><stop offset="0.224" stop-color="#f08238"/><stop offset="0.276" stop-color="#f06e40"/><stop offset="0.309" stop-color="#ed6143"/><stop offset="0.322" stop-color="#ec5a44"/><stop offset="0.361" stop-color="#e84644"/><stop offset="0.387" stop-color="#e84c4c"/><stop offset="0.429" stop-color="#ef6c6c"/><stop offset="0.438" stop-color="#f07272"/><stop offset="0.530" stop-color="#f28e8e"/><stop offset="0.621" stop-color="#f4a4a4"/><stop offset="0.641" stop-color="#f4a9a9"/><stop offset="0.781" stop-color="#f6bcbc"/><stop offset="0.951" stop-color="#f8d4d4"/><stop offset="0.971" stop-color="#f8d4d4"/></linearGradient>
<linearGradient id="g109" gradientUnits="userSpaceOnUse" x1="250.8" x2="320.1" y1="0" y2="0"><stop offset="0.029" stop-color="#f39d2f"/><stop offset="0.081" stop-color="#f39a30"/><stop offset="0.086" stop-color="#f39930"/><stop offset="0.214" stop-color="#f08437"/><stop offset="0.218" stop-color="#f08238"/><stop offset="0.272" stop-color="#f06e40"/><stop offset="0.307" stop-color="#ed6143"/><stop offset="0.320" stop-color="#ec5a44"/><stop offset="0.357" stop-color="#e84644"/><stop offset="0.383" stop-color="#e84c4c"/><stop offset="0.425" stop-color="#ef6d6d"/><stop offset="0.434" stop-color="#f07272"/><stop offset="0.526" stop-color="#f28e8e"/><stop offset="0.617" stop-color="#f4a4a4"/><stop offset="0.637" stop-color="#f4a9a9"/><stop offset="0.778" stop-color="#f6bcbc"/><stop offset="0.949" stop-color="#f8d4d4"/><stop offset="0.972" stop-color="#f8d4d4"/></linearGradient>
<linearGradient id="g110" gradientUnits="userSpaceOnUse" x1="251.1" x2="320.3" y1="0" y2="0"><stop offset="0.029" stop-color="#f39c2f"/><stop offset="0.066" stop-color="#f39a30"/><stop offset="0.070" stop-color="#f39930"/><stop offset="0.209" stop-color="#f08437"/><stop offset="0.214" stop-color="#f08238"/><stop offset="0.268" stop-color="#f06e40"/><stop offset="0.304" stop-color="#ed6043"/><stop offset="0.315" stop-color="#ec5a44"/><stop offset="0.353" stop-color="#e84644"/><stop offset="0.379" stop-color="#e84c4c"/><stop offset="0.419" stop-color="#ef6c6c"/><stop offset="0.428" stop-color="#f07272"/><stop offset="0.521" stop-color="#f28e8e"/><stop offset="0.613" stop-color="#f4a4a4"/><stop offset="0.633" stop-color="#f4a9a9"/><stop offset="0.775" stop-color="#f6bcbc"/><stop offset="0.947" stop-color="#f8d4d4"/><stop offset="0.971" stop-color="#f8d4d4"/></linearGradient>
<linearGradient id="g111" gradientUnits="userSpaceOnUse" x1="251.3" x2="320.5" y1="0" y2="0"><stop offset="0.028" stop-color="#f39b30"/><stop offset="0.046" stop-color="#f39a30"/><stop offset="0.053" stop-color="#f39930"/><stop offset="0.205" stop-color="#f08437"/><stop offset="0.209" stop-color="#f08238"/><stop offset="0.264" stop-color="#f06e40"/><stop offset="0.300" stop-color="#ed6143"/><stop offset="0.313" stop-color="#ec5a44"/><stop offset="0.349" stop-color="#e84644"/><stop offset="0.375" stop-color="#e84d4d"/><stop offset="0.416" stop-color="#ef6d6d"/><stop offset="0.424" stop-color="#f07272"/><stop offset="0.517" stop-color="#f28e8e"/><stop offset="0.608" stop-color="#f4a4a4"/><stop offset="0.628" stop-color="#f4a9a9"/><stop offset="0.773" stop-color="#f6bcbc"/><stop offset="0.947" stop-color="#f8d4d4"/><stop offset="0.971" stop-color="#f8d4d4"/></linearGradient>
<linearGradient id="g112" gradientUnits="userSpaceOnUse" x1="251.6" x2="320.7" y1="0" y2="0"><stop offset="0.029" stop-color="#f39a30"/><stop offset="0.046" stop-color="#f39930"/><stop offset="0.200" stop-color="#f08437"/><stop offset="0.205" stop-color="#f08238"/><stop offset="0.262" stop-color="#f06e40"/><stop offset="0.298" stop-color="#ed6143"/><stop offset="0.311" stop-color="#ec5a44"/><stop offset="0.347" stop-color="#e84644"/><stop offset="0.372" stop-color="#e84d4d"/><stop offset="0.411" stop-color="#ef6c6c"/><stop offset="0.420" stop-color="#f07272"/><stop offset="0.514" stop-color="#f28e8e"/><stop offset="0.605" stop-color="#f4a4a4"/><stop offset="0.625" stop-color="#f4a9a9"/><stop offset="0.770" stop-color="#f6bcbc"/><stop offset="0.944" stop-color="#f8d4d4"/><stop offset="0.971" stop-color="#f8d4d4"/></linearGradient>
<linearGradient id="g113" gradientUnits="userSpaceOnUse" x1="251.9" x2="320.9" y1="0" y2="0"><stop offset="0.030" stop-color="#f39a30"/><stop offset="0.047" stop-color="#f39930"/><stop offset="0.196" stop-color="#f08437"/><stop offset="0.201" stop-color="#f08238"/><stop offset="0.259" stop-color="#f06e40"/><stop offset="0.296" stop-color="#ed6143"/><stop offset="0.308" stop-color="#ec5a44"/><stop offset="0.344" stop-color="#e84644"/><stop offset="0.367" stop-color="#e84c4c"/><stop offset="0.408" stop-color="#ef6d6d"/><stop offset="0.417" stop-color="#f07272"/><stop offset="0.509" stop-color="#f28e8e"/><stop offset="0.602" stop-color="#f4a4a4"/><stop offset="0.622" stop-color="#f4a9a9"/><stop offset="0.767" stop-color="#f6bcbc"/><stop offset="0.943" stop-color="#f8d4d4"/><stop offset="0.971" stop-color="#f8d4d4"/></linearGradient>
<linearGradient id="g114" gradientUnits="userSpaceOnUse" x1="252.1" x2="321.0" y1="0" y2="0"><stop offset="0.029" stop-color="#f39a30"/><stop offset="0.047" stop-color="#f39930"/><stop offset="0.193" stop-color="#f08437"/><stop offset="0.198" stop-color="#f08238"/><stop offset="0.256" stop-color="#f06e40"/><stop offset="0.293" stop-color="#ed6143"/><stop offset="0.305" stop-color="#ec5a44"/><stop offset="0.341" stop-color="#e84644"/><stop offset="0.364" stop-color="#e84c4c"/><stop offset="0.405" stop-color="#ef6d6d"/><stop offset="0.414" stop-color="#f07272"/><stop offset="0.507" stop-color="#f28e8e"/><stop offset="0.599" stop-color="#f4a4a4"/><stop offset="0.620" stop-color="#f4a9a9"/><stop offset="0.765" stop-color="#f6bcbc"/><stop offset="0.942" stop-color="#f8d4d4"/><stop offset="0.971" stop-color="#f8d4d4"/></linearGradient>
<linearGradient id="g115" gradientUnits="userSpaceOnUse" x1="252.3" x2="321.2" y1="0" y2="0"><stop offset="0.029" stop-color="#f39a30"/><stop offset="0.050" stop-color="#f39930"/><stop offset="0.189" stop-color="#f08437"/><stop offset="0.195" stop-color="#f08238"/><stop offset="0.253" stop-color="#f06e40"/><stop offset="0.291" stop-color="#ed6143"/><stop offset="0.304" stop-color="#ec5a44"/><stop offset="0.339" stop-color="#e84644"/><stop offset="0.362" stop-color="#e84c4c"/><stop offset="0.401" stop-color="#ef6c6c"/><stop offset="0.410" stop-color="#f07272"/><stop offset="0.504" stop-color="#f28e8e"/><stop offset="0.597" stop-color="#f4a4a4"/><stop offset="0.617" stop-color="#f4a9a9"/><stop offset="0.764" stop-color="#f6bcbc"/><stop offset="0.939" stop-color="#f8d4d4"/><stop offset="0.971" stop-color="#f8d4d4"/></linearGradient>
<linearGradient id="g116" gradientUnits="userSpaceOnUse" x1="252.4" x2="321.3" y1="0" y2="0"><stop offset="0.028" stop-color="#f39a30"/><stop offset="0.050" stop-color="#f39930"/><stop offset="0.187" stop-color="#f08437"/><stop offset="0.191" stop-color="#f08238"/><stop offset="0.251" stop-color="#f06e40"/><stop offset="0.290" stop-color="#ed6043"/><stop offset="0.301" stop-color="#ec5a44"/><stop offset="0.336" stop-color="#e84644"/><stop offset="0.359" stop-color="#e84c4c"/><stop offset="0.399" stop-color="#ef6d6d"/><stop offset="0.407" stop-color="#f07272"/><stop offset="0.502" stop-color="#f28e8e"/><stop offset="0.595" stop-color="#f4a4a4"/><stop offset="0.615" stop-color="#f4a9a9"/><stop offset="0.762" stop-color="#f6bcbc"/><stop offset="0.939" stop-color="#f8d4d4"/><stop offset="0.971" stop-color="#f8d4d4"/></linearGradient>
<linearGradient id="g117" gradientUnits="userSpaceOnUse" x1="252.6" x2="321.4" y1="0" y2="0"><stop offset="0.029" stop-color="#f39a30"/><stop offset="0.049" stop-color="#f39930"/><stop offset="0.183" stop-color="#f08437"/><stop offset="0.189" stop-color="#f08238"/><stop offset="0.248" stop-color="#f06e40"/><stop offset="0.288" stop-color="#ed6043"/><stop offset="0.299" stop-color="#ec5a44"/><stop offset="0.334" stop-color="#e84644"/><stop offset="0.357" stop-color="#e84c4c"/><stop offset="0.397" stop-color="#ef6d6d"/><stop offset="0.405" stop-color="#f07272"/><stop offset="0.500" stop-color="#f28e8e"/><stop offset="0.591" stop-color="#f4a4a4"/><stop offset="0.613" stop-color="#f4a9a9"/><stop offset="0.760" stop-color="#f6bcbc"/><stop offset="0.937" stop-color="#f8d4d4"/><stop offset="0.971" stop-color="#f8d4d4"/></linearGradient>
<linearGradient id="g118" gradientUnits="userSpaceOnUse" x1="252.7" x2="321.5" y1="0" y2="0"><stop offset="0.029" stop-color="#f39a30"/><stop offset="0.030" stop-color="#f39a30"/><stop offset="0.049" stop-color="#f39930"/><stop offset="0.181" stop-color="#f08437"/><stop offset="0.187" stop-color="#f08238"/><stop offset="0.247" stop-color="#f06e40"/><stop offset="0.286" stop-color="#ed6143"/><stop offset="0.297" stop-color="#ec5a44"/><stop offset="0.332" stop-color="#e84644"/><stop offset="0.356" stop-color="#e84c4c"/><stop offset="0.395" stop-color="#ef6d6d"/><stop offset="0.404" stop-color="#f07272"/><stop offset="0.497" stop-color="#f28e8e"/><stop offset="0.590" stop-color="#f4a4a4"/><stop offset="0.611" stop-color="#f4a9a9"/><stop offset="0.758" stop-color="#f6bcbc"/><stop offset="0.936" stop-color="#f8d4d4"/><stop offset="0.971" stop-color="#f8d4d4"/></linearGradient>
<linearGradient id="g119" gradientUnits="userSpaceOnUse" x1="252.8" x2="321.6" y1="0" y2="0"><stop offset="0.028" stop-color="#f39a30"/><stop offset="0.033" stop-color="#f39a30"/><stop offset="0.049" stop-color="#f39930"/><stop offset="0.180" stop-color="#f08437"/><stop offset="0.184" stop-color="#f08238"/><stop offset="0.245" stop-color="#f06e40"/><stop offset="0.284" stop-color="#ed6143"/><stop offset="0.296" stop-color="#ec5a44"/><stop offset="0.331" stop-color="#e84644"/><stop offset="0.354" stop-color="#e84c4c"/><stop offset="0.392" stop-color="#ef6c6c"/><stop offset="0.401" stop-color="#f07272"/><stop offset="0.495" stop-color="#f28e8e"/><stop offset="0.588" stop-color="#f4a4a4"/><stop offset="0.609" stop-color="#f4a9a9"/><stop offset="0.757" stop-color="#f6bcbc"/><stop offset="0.934" stop-color="#f8d4d4"/><stop offset="0.971" stop-color="#f8d4d4"/></linearGradient>
<linearGradient id="g120" gradientUnits="userSpaceOnUse" x1="252.9" x2="321.7" y1="0" y2="0"><stop offset="0.029" stop-color="#f39a30"/><stop offset="0.034" stop-color="#f39a30"/><stop offset="0.049" stop-color="#f39930"/><stop offset="0.177" stop-color="#f08437"/><stop offset="0.183" stop-color="#f08238"/><stop offset="0.244" stop-color="#f06e40"/><stop offset="0.283" stop-color="#ed6143"/><stop offset="0.295" stop-color="#ec5a44"/><stop offset="0.330" stop-color="#e84644"/><stop offset="0.353" stop-color="#e84c4c"/><stop offset="0.391" stop-color="#ef6d6d"/><stop offset="0.399" stop-color="#f07272"/><stop offset="0.494" stop-color="#f28e8e"/><stop offset="0.587" stop-color="#f4a4a4"/><stop offset="0.607" stop-color="#f4a9a9"/><stop offset="0.754" stop-color="#f6bcbc"/><stop offset="0.932" stop-color="#f8d4d4"/><stop offset="0.971" stop-color="#f8d4d4"/></linearGradient>
<linearGradient id="g121" gradientUnits="userSpaceOnUse" x1="253.0" x2="321.7" y1="0" y2="0"><stop offset="0.029" stop-color="#f39a30"/><stop offset="0.036" stop-color="#f39a30"/><stop offset="0.048" stop-color="#f39930"/><stop offset="0.176" stop-color="#f08437"/><stop offset="0.182" stop-color="#f08238"/><stop offset="0.243" stop-color="#f06e40"/><stop offset="0.284" stop-color="#ed6043"/><stop offset="0.294" stop-color="#ec5a44"/><stop offset="0.329" stop-color="#e84644"/><stop offset="0.352" stop-color="#e84d4d"/><stop offset="0.390" stop-color="#ef6d6d"/><stop offset="0.399" stop-color="#f07272"/><stop offset="0.493" stop-color="#f28e8e"/><stop offset="0.586" stop-color="#f4a4a4"/><stop offset="0.607" stop-color="#f4a9a9"/><stop offset="0.754" stop-color="#f6bcbc"/><stop offset="0.931" stop-color="#f8d4d4"/><stop offset="0.970" stop-color="#f8d4d4"/></linearGradient>
<linearGradient id="g122" gradientUnits="userSpaceOnUse" x1="253.1" x2="321.8" y1="0" y2="0"><stop offset="0.030" stop-color="#f39a30"/><stop offset="0.037" stop-color="#f39a30"/><stop offset="0.049" stop-color="#f39930"/><stop offset="0.175" stop-color="#f08437"/><stop offset="0.180" stop-color="#f08238"/><stop offset="0.242" stop-color="#f06e40"/><stop offset="0.283" stop-color="#ed6043"/><stop offset="0.295" stop-color="#ec5a44"/><stop offset="0.328" stop-color="#e84644"/><stop offset="0.350" stop-color="#e84c4c"/><stop offset="0.388" stop-color="#ef6c6c"/><stop offset="0.396" stop-color="#f07272"/><stop offset="0.492" stop-color="#f28e8e"/><stop offset="0.586" stop-color="#f4a4a4"/><stop offset="0.606" stop-color="#f4a9a9"/><stop offset="0.753" stop-color="#f6bcbc"/><stop offset="0.931" stop-color="#f8d4d4"/><stop offset="0.971" stop-color="#f8d4d4"/></linearGradient>
<linearGradient id="g123" gradientUnits="userSpaceOnUse" x1="253.1" x2="321.8" y1="0" y2="0"><stop offset="0.029" stop-color="#f39a30"/><stop offset="0.038" stop-color="#f39a30"/><stop offset="0.048" stop-color="#f39930"/><stop offset="0.173" stop-color="#f08437"/><stop offset="0.179" stop-color="#f08238"/><stop offset="0.242" stop-color="#f06e40"/><stop offset="0.283" stop-color="#ed6143"/><stop offset="0.294" stop-color="#ec5a44"/><stop offset="0.328" stop-color="#e84644"/><stop offset="0.349" stop-color="#e84c4c"/><stop offset="0.387" stop-color="#ef6d6d"/><stop offset="0.396" stop-color="#f07272"/><stop offset="0.491" stop-color="#f28e8e"/><stop offset="0.585" stop-color="#f4a4a4"/><stop offset="0.606" stop-color="#f4a9a9"/><stop offset="0.753" stop-color="#f6bcbc"/><stop offset="0.929" stop-color="#f8d4d4"/><stop offset="0.971" stop-color="#f8d4d4"/></linearGradient>
<linearGradient id="g124" gradientUnits="userSpaceOnUse" x1="253.1" x2="321.8" y1="0" y2="0"><stop offset="0.029" stop-color="#f39a30"/><stop offset="0.038" stop-color="#f39a30"/><stop offset="0.048" stop-color="#f39930"/><stop offset="0.173" stop-color="#f08437"/><stop offset="0.179" stop-color="#f08238"/><stop offset="0.242" stop-color="#f06e40"/><stop offset="0.282" stop-color="#ed6043"/><stop offset="0.294" stop-color="#ec5a44"/><stop offset="0.328" stop-color="#e84644"/><stop offset="0.349" stop-color="#e84c4c"/><stop offset="0.387" stop-color="#ef6c6c"/><stop offset="0.396" stop-color="#f07272"/><stop offset="0.491" stop-color="#f28e8e"/><stop offset="0.585" stop-color="#f4a4a4"/><stop offset="0.606" stop-color="#f4a9a9"/><stop offset="0.753" stop-color="#f6bcbc"/><stop offset="0.929" stop-color="#f8d4d4"/><stop offset="0.971" stop-color="#f8d4d4"/></linearGradient>
<linearGradient id="g125" gradientUnits="userSpaceOnUse" x1="253.1" x2="321.8" y1="0" y2="0"><stop offset="0.029" stop-color="#f39a30"/><stop offset="0.037" stop-color="#f39a30"/><stop offset="0.048" stop-color="#f39930"/><stop offset="0.173" stop-color="#f08437"/><stop offset="0.179" stop-color="#f08238"/><stop offset="0.240" stop-color="#f06e40"/><stop offset="0.281" stop-color="#ed6143"/><stop offset="0.293" stop-color="#ec5a44"/><stop offset="0.328" stop-color="#e84644"/><stop offset="0.350" stop-color="#e84c4c"/><stop offset="0.389" stop-color="#ef6d6d"/><stop offset="0.398" stop-color="#f07272"/><stop offset="0.492" stop-color="#f28e8e"/><stop offset="0.585" stop-color="#f4a4a4"/><stop offset="0.606" stop-color="#f4a9a9"/><stop offset="0.753" stop-color="#f6bcbc"/><stop offset="0.930" stop-color="#f8d4d4"/><stop offset="0.971" stop-color="#f8d4d4"/></linearGradient>
<linearGradient id="g126" gradientUnits="userSpaceOnUse" x1="253.1" x2="321.8" y1="0" y2="0"><stop offset="0.030" stop-color="#f39a30"/><stop offset="0.036" stop-color="#f39a30"/><stop offset="0.047" stop-color="#f39930"/><stop offset="0.174" stop-color="#f08437"/><stop offset="0.180" stop-color="#f08238"/><stop offset="0.241" stop-color="#f06e40"/><stop offset="0.282" stop-color="#ed6143"/><stop offset="0.293" stop-color="#ec5a44"/><stop offset="0.328" stop-color="#e84644"/><stop offset="0.351" stop-color="#e84d4d"/><stop offset="0.389" stop-color="#ef6d6d"/><stop offset="0.398" stop-color="#f07272"/><stop offset="0.493" stop-color="#f28e8e"/><stop offset="0.586" stop-color="#f4a4a4"/><stop offset="0.606" stop-color="#f4a9a9"/><stop offset="0.753" stop-color="#f6bcbc"/><stop offset="0.931" stop-color="#f8d4d4"/><stop offset="0.971" stop-color="#f8d4d4"/></linearGradient>
<linearGradient id="g127" gradientUnits="userSpaceOnUse" x1="253.0" x2="321.7" y1="0" y2="0"><stop offset="0.029" stop-color="#f39a30"/><stop offset="0.035" stop-color="#f39a30"/><stop offset="0.048" stop-color="#f39930"/><stop offset="0.175" stop-color="#f08437"/><stop offset="0.180" stop-color="#f08238"/><stop offset="0.242" stop-color="#f06e40"/><stop offset="0.282" stop-color="#ed6043"/><stop offset="0.294" stop-color="#ec5a44"/><stop offset="0.329" stop-color="#e84644"/><stop offset="0.352" stop-color="#e84c4c"/><stop offset="0.390" stop-color="#ef6c6c"/><stop offset="0.399" stop-color="#f07272"/><stop offset="0.493" stop-color="#f28e8e"/><stop offset="0.586" stop-color="#f4a4a4"/><stop offset="0.607" stop-color="#f4a9a9"/><stop offset="0.755" stop-color="#f6bcbc"/><stop offset="0.933" stop-color="#f8d4d4"/><stop offset="0.971" stop-color="#f8d4d4"/></linearGradient>
<linearGradient id="g128" gradientUnits="userSpaceOnUse" x1="252.9" x2="321.7" y1="0" y2="0"><stop offset="0.029" stop-color="#f39a30"/><stop offset="0.033" stop-color="#f39a30"/><stop offset="0.049" stop-color="#f39930"/><stop offset="0.176" stop-color="#f08437"/><stop offset="0.181" stop-color="#f08238"/><stop offset="0.243" stop-color="#f06e40"/><stop offset="0.282" stop-color="#ed6143"/><stop offset="0.293" stop-color="#ec5a44"/><stop offset="0.330" stop-color="#e84644"/><stop offset="0.353" stop-color="#e84c4c"/><stop offset="0.392" stop-color="#ef6d6d"/><stop offset="0.401" stop-color="#f07272"/><stop offset="0.494" stop-color="#f28e8e"/><stop offset="0.587" stop-color="#f4a4a4"/><stop offset="0.608" stop-color="#f4a9a9"/><stop offset="0.756" stop-color="#f6bcbc"/><stop offset="0.934" stop-color="#f8d4d4"/><stop offset="0.971" stop-color="#f8d4d4"/></linearGradient>
<linearGradient id="g129" gradientUnits="userSpaceOnUse" x1="252.8" x2="321.6" y1="0" y2="0"><stop offset="0.029" stop-color="#f39a30"/><stop offset="0.032" stop-color="#f39a30"/><stop offset="0.049" stop-color="#f39930"/><stop offset="0.177" stop-color="#f08437"/><stop offset="0.183" stop-color="#f08238"/><stop offset="0.242" stop-color="#f06e40"/><stop offset="0.283" stop-color="#ed6043"/><stop offset="0.295" stop-color="#ec5a44"/><stop offset="0.331" stop-color="#e84644"/><stop offset="0.354" stop-color="#e84c4c"/><stop offset="0.394" stop-color="#ef6c6c"/><stop offset="0.402" stop-color="#f07272"/><stop offset="0.497" stop-color="#f28e8e"/><stop offset="0.589" stop-color="#f4a4a4"/><stop offset="0.609" stop-color="#f4a9a9"/><stop offset="0.757" stop-color="#f6bcbc"/><stop offset="0.936" stop-color="#f8d4d4"/><stop offset="0.971" stop-color="#f8d4d4"/></linearGradient>
<linearGradient id="g130" gradientUnits="userSpaceOnUse" x1="252.7" x2="321.5" y1="0" y2="0"><stop offset="0.029" stop-color="#f39a30"/><stop offset="0.049" stop-color="#f39930"/><stop offset="0.179" stop-color="#f08437"/><stop offset="0.184" stop-color="#f08238"/><stop offset="0.244" stop-color="#f06e40"/><stop offset="0.283" stop-color="#ed6143"/><stop offset="0.296" stop-color="#ec5a44"/><stop offset="0.331" stop-color="#e84644"/><stop offset="0.356" stop-color="#e84c4c"/><stop offset="0.397" stop-color="#ef6d6d"/><stop offset="0.405" stop-color="#f07272"/><stop offset="0.498" stop-color="#f28e8e"/><stop offset="0.590" stop-color="#f4a4a4"/><stop offset="0.610" stop-color="#f4a9a9"/><stop offset="0.759" stop-color="#f6bcbc"/><stop offset="0.937" stop-color="#f8d4d4"/><stop offset="0.971" stop-color="#f8d4d4"/></linearGradient>
<linearGradient id="g131" gradientUnits="userSpaceOnUse" x1="252.6" x2="321.4" y1="0" y2="0"><stop offset="0.029" stop-color="#f39a30"/><stop offset="0.048" stop-color="#f39930"/><stop offset="0.181" stop-color="#f08437"/><stop offset="0.186" stop-color="#f08238"/><stop offset="0.246" stop-color="#f06e40"/><stop offset="0.285" stop-color="#ed6143"/><stop offset="0.297" stop-color="#ec5a44"/><stop offset="0.333" stop-color="#e84644"/><stop offset="0.358" stop-color="#e84c4c"/><stop offset="0.398" stop-color="#ef6d6d"/><stop offset="0.407" stop-color="#f07272"/><stop offset="0.500" stop-color="#f28e8e"/><stop offset="0.593" stop-color="#f4a4a4"/><stop offset="0.613" stop-color="#f4a9a9"/><stop offset="0.760" stop-color="#f6bcbc"/><stop offset="0.939" stop-color="#f8d4d4"/><stop offset="0.971" stop-color="#f8d4d4"/></linearGradient>
<linearGradient id="g132" gradientUnits="userSpaceOnUse" x1="252.4" x2="321.3" y1="0" y2="0"><stop offset="0.029" stop-color="#f39a30"/><stop offset="0.049" stop-color="#f39930"/><stop offset="0.183" stop-color="#f08437"/><stop offset="0.189" stop-color="#f08238"/><stop offset="0.248" stop-color="#f06e40"/><stop offset="0.286" stop-color="#ed6143"/><stop offset="0.299" stop-color="#ec5a44"/><stop offset="0.335" stop-color="#e84644"/><stop offset="0.360" stop-color="#e84c4c"/><stop offset="0.402" stop-color="#ef6d6d"/><stop offset="0.409" stop-color="#f07272"/><stop offset="0.502" stop-color="#f28e8e"/><stop offset="0.595" stop-color="#f4a4a4"/><stop offset="0.615" stop-color="#f4a9a9"/><stop offset="0.762" stop-color="#f6bcbc"/><stop offset="0.941" stop-color="#f8d4d4"/><stop offset="0.971" stop-color="#f8d4d4"/></linearGradient>
<linearGradient id="g133" gradientUnits="userSpaceOnUse" x1="252.2" x2="321.2" y1="0" y2="0"><stop offset="0.029" stop-color="#f39a30"/><stop offset="0.046" stop-color="#f39930"/><stop offset="0.185" stop-color="#f08437"/><stop offset="0.191" stop-color="#f08238"/><stop offset="0.249" stop-color="#f06e40"/><stop offset="0.288" stop-color="#ed6143"/><stop offset="0.301" stop-color="#ec5a44"/><stop offset="0.338" stop-color="#e84644"/><stop offset="0.362" stop-color="#e84c4c"/><stop offset="0.404" stop-color="#ef6d6d"/><stop offset="0.413" stop-color="#f07272"/><stop offset="0.506" stop-color="#f28e8e"/><stop offset="0.597" stop-color="#f4a4a4"/><stop offset="0.618" stop-color="#f4a9a9"/><stop offset="0.764" stop-color="#f6bcbc"/><stop offset="0.941" stop-color="#f8d4d4"/><stop offset="0.972" stop-color="#f8d4d4"/></linearGradient>
<linearGradient id="g134" gradientUnits="userSpaceOnUse" x1="252.0" x2="321.0" y1="0" y2="0"><stop offset="0.029" stop-color="#f39a30"/><stop offset="0.043" stop-color="#f39930"/><stop offset="0.188" stop-color="#f08437"/><stop offset="0.194" stop-color="#f08238"/><stop offset="0.252" stop-color="#f06e40"/><stop offset="0.291" stop-color="#ed6043"/><stop offset="0.303" stop-color="#ec5a44"/><stop offset="0.340" stop-color="#e84644"/><stop offset="0.366" stop-color="#e84d4d"/><stop offset="0.407" stop-color="#ef6c6c"/><stop offset="0.416" stop-color="#f07272"/><stop offset="0.508" stop-color="#f28e8e"/><stop offset="0.600" stop-color="#f4a4a4"/><stop offset="0.620" stop-color="#f4a9a9"/><stop offset="0.767" stop-color="#f6bcbc"/><stop offset="0.943" stop-color="#f8d4d4"/><stop offset="0.971" stop-color="#f8d4d4"/></linearGradient>
<linearGradient id="g135" gradientUnits="userSpaceOnUse" x1="251.8" x2="320.8" y1="0" y2="0"><stop offset="0.029" stop-color="#f39a30"/><stop offset="0.042" stop-color="#f39930"/><stop offset="0.191" stop-color="#f08437"/><stop offset="0.197" stop-color="#f08238"/><stop offset="0.255" stop-color="#f06e40"/><stop offset="0.293" stop-color="#ed6143"/><stop offset="0.306" stop-color="#ec5a44"/><stop offset="0.343" stop-color="#e84644"/><stop offset="0.369" stop-color="#e84c4c"/><stop offset="0.411" stop-color="#ef6d6d"/><stop offset="0.420" stop-color="#f07272"/><stop offset="0.511" stop-color="#f28e8e"/><stop offset="0.603" stop-color="#f4a4a4"/><stop offset="0.623" stop-color="#f4a9a9"/><stop offset="0.769" stop-color="#f6bcbc"/><stop offset="0.944" stop-color="#f8d4d4"/><stop offset="0.971" stop-color="#f8d4d4"/></linearGradient>
<linearGradient id="g136" gradientUnits="userSpaceOnUse" x1="251.6" x2="320.7" y1="0" y2="0"><stop offset="0.030" stop-color="#f39930"/><stop offset="0.040" stop-color="#f39930"/><stop offset="0.193" stop-color="#f08437"/><stop offset="0.199" stop-color="#f08238"/><stop offset="0.257" stop-color="#f06e40"/><stop offset="0.294" stop-color="#ed6143"/><stop offset="0.307" stop-color="#ec5a44"/><stop offset="0.347" stop-color="#e84644"/><stop offset="0.373" stop-color="#e84c4c"/><stop offset="0.416" stop-color="#ef6d6d"/><stop offset="0.423" stop-color="#f07272"/><stop offset="0.516" stop-color="#f28e8e"/><stop offset="0.606" stop-color="#f4a4a4"/><stop offset="0.626" stop-color="#f4a9a9"/><stop offset="0.771" stop-color="#f6bcbc"/><stop offset="0.947" stop-color="#f8d4d4"/><stop offset="0.972" stop-color="#f8d4d4"/></linearGradient>
<linearGradient id="g137" gradientUnits="userSpaceOnUse" x1="251.3" x2="320.5" y1="0" y2="0"><stop offset="0.029" stop-color="#f39b30"/><stop offset="0.045" stop-color="#f39a30"/><stop offset="0.049" stop-color="#f39930"/><stop offset="0.194" stop-color="#f08437"/><stop offset="0.200" stop-color="#f08238"/><stop offset="0.257" stop-color="#f06e40"/><stop offset="0.295" stop-color="#ed6143"/><stop offset="0.308" stop-color="#ec5a44"/><stop offset="0.349" stop-color="#e84644"/><stop offset="0.376" stop-color="#e84c4c"/><stop offset="0.421" stop-color="#ef6d6d"/><stop offset="0.428" stop-color="#f07272"/><stop offset="0.519" stop-color="#f28e8e"/><stop offset="0.609" stop-color="#f4a4a4"/><stop offset="0.629" stop-color="#f4a9a9"/><stop offset="0.774" stop-color="#f6bcbc"/><stop offset="0.949" stop-color="#f8d4d4"/><stop offset="0.972" stop-color="#f8d4d4"/></linearGradient>
<linearGradient id="g138" gradientUnits="userSpaceOnUse" x1="251.0" x2="320.2" y1="0" y2="0"><stop offset="0.029" stop-color="#f39c2f"/><stop offset="0.059" stop-color="#f39a30"/><stop offset="0.062" stop-color="#f39930"/><stop offset="0.195" stop-color="#f08437"/><stop offset="0.201" stop-color="#f08238"/><stop offset="0.258" stop-color="#f06e40"/><stop offset="0.296" stop-color="#ed6143"/><stop offset="0.309" stop-color="#ec5a44"/><stop offset="0.351" stop-color="#e84644"/><stop offset="0.380" stop-color="#e84c4c"/><stop offset="0.426" stop-color="#ef6d6d"/><stop offset="0.433" stop-color="#f07272"/><stop offset="0.524" stop-color="#f28e8e"/><stop offset="0.612" stop-color="#f4a4a4"/><stop offset="0.633" stop-color="#f4a9a9"/><stop offset="0.777" stop-color="#f6bcbc"/><stop offset="0.950" stop-color="#f8d4d4"/><stop offset="0.971" stop-color="#f8d4d4"/></linearGradient>
<linearGradient id="g139" gradientUnits="userSpaceOnUse" x1="250.7" x2="320.0" y1="0" y2="0"><stop offset="0.029" stop-color="#f39e2f"/><stop offset="0.072" stop-color="#f39a30"/><stop offset="0.075" stop-color="#f39930"/><stop offset="0.196" stop-color="#f08437"/><stop offset="0.202" stop-color="#f08238"/><stop offset="0.260" stop-color="#f06e40"/><stop offset="0.297" stop-color="#ed6043"/><stop offset="0.312" stop-color="#ec5a44"/><stop offset="0.355" stop-color="#e84644"/><stop offset="0.384" stop-color="#e84c4c"/><stop offset="0.431" stop-color="#ef6d6d"/><stop offset="0.439" stop-color="#f07272"/><stop offset="0.528" stop-color="#f28e8e"/><stop offset="0.616" stop-color="#f4a4a4"/><stop offset="0.636" stop-color="#f4a9a9"/><stop offset="0.781" stop-color="#f6bcbc"/><stop offset="0.955" stop-color="#f8d4d4"/><stop offset="0.971" stop-color="#f8d4d4"/></linearGradient>
<linearGradient id="g140" gradientUnits="userSpaceOnUse" x1="250.4" x2="319.8" y1="0" y2="0"><stop offset="0.029" stop-color="#f39f2e"/><stop offset="0.086" stop-color="#f39a30"/><stop offset="0.088" stop-color="#f39930"/><stop offset="0.198" stop-color="#f08437"/><stop offset="0.204" stop-color="#f08238"/><stop offset="0.261" stop-color="#f06e40"/><stop offset="0.299" stop-color="#ed6043"/><stop offset="0.313" stop-color="#ec5a44"/><stop offset="0.358" stop-color="#e84644"/><stop offset="0.387" stop-color="#e84c4c"/><stop offset="0.437" stop-color="#ef6d6d"/><stop offset="0.444" stop-color="#f07272"/><stop offset="0.534" stop-color="#f28e8e"/><stop offset="0.620" stop-color="#f4a4a4"/><stop offset="0.640" stop-color="#f4a9a9"/><stop offset="0.786" stop-color="#f6bcbc"/><stop offset="0.962" stop-color="#f8d4d4"/><stop offset="0.972" stop-color="#f8d4d4"/></linearGradient>
<linearGradient id="g141" gradientUnits="userSpaceOnUse" x1="250.0" x2="319.5" y1="0" y2="0"><stop offset="0.029" stop-color="#f4a02e"/><stop offset="0.098" stop-color="#f39a30"/><stop offset="0.101" stop-color="#f39930"/><stop offset="0.200" stop-color="#f08437"/><stop offset="0.206" stop-color="#f08238"/><stop offset="0.263" stop-color="#f06e40"/><stop offset="0.301" stop-color="#ed6043"/><stop offset="0.315" stop-color="#ec5a44"/><stop offset="0.361" stop-color="#e84644"/><stop offset="0.391" stop-color="#e84c4c"/><stop offset="0.443" stop-color="#ef6d6d"/><stop offset="0.450" stop-color="#f07272"/><stop offset="0.538" stop-color="#f28e8e"/><stop offset="0.624" stop-color="#f4a4a4"/><stop offset="0.643" stop-color="#f4a9a9"/><stop offset="0.790" stop-color="#f6bcbc"/><stop offset="0.967" stop-color="#f8d4d4"/><stop offset="0.971" stop-color="#f8d4d4"/></linearGradient>
<linearGradient id="g142" gradientUnits="userSpaceOnUse" x1="249.6" x2="319.2" y1="0" y2="0"><stop offset="0.028" stop-color="#f4a12d"/><stop offset="0.110" stop-color="#f39a30"/><stop offset="0.113" stop-color="#f39930"/><stop offset="0.204" stop-color="#f08437"/><stop offset="0.208" stop-color="#f08238"/><stop offset="0.265" stop-color="#f06e40"/><stop offset="0.301" stop-color="#ed6143"/><stop offset="0.317" stop-color="#ec5a44"/><stop offset="0.365" stop-color="#e84644"/><stop offset="0.396" stop-color="#e84c4c"/><stop offset="0.449" stop-color="#ef6d6d"/><stop offset="0.456" stop-color="#f07272"/><stop offset="0.544" stop-color="#f28e8e"/><stop offset="0.629" stop-color="#f4a4a4"/><stop offset="0.648" stop-color="#f4a9a9"/><stop offset="0.796" stop-color="#f6bcbc"/><stop offset="0.971" stop-color="#f8d4d4"/></linearGradient>
<linearGradient id="g143" gradientUnits="userSpaceOnUse" x1="249.2" x2="318.9" y1="0" y2="0"><stop offset="0.028" stop-color="#f4a32d"/><stop offset="0.123" stop-color="#f39a30"/><stop offset="0.126" stop-color="#f39930"/><stop offset="0.206" stop-color="#f08437"/><stop offset="0.210" stop-color="#f08238"/><stop offset="0.268" stop-color="#f06e40"/><stop offset="0.304" stop-color="#ed6143"/><stop offset="0.321" stop-color="#ec5a44"/><stop offset="0.370" stop-color="#e84644"/><stop offset="0.401" stop-color="#e84c4c"/><stop offset="0.456" stop-color="#ef6d6d"/><stop offset="0.463" stop-color="#f07272"/><stop offset="0.549" stop-color="#f28e8e"/><stop offset="0.634" stop-color="#f4a4a4"/><stop offset="0.652" stop-color="#f4a9a9"/><stop offset="0.800" stop-color="#f6bcbc"/><stop offset="0.971" stop-color="#f8d3d3"/></linearGradient>
<linearGradient id="g144" gradientUnits="userSpaceOnUse" x1="248.8" x2="318.6" y1="0" y2="0"><stop offset="0.028" stop-color="#f4a42c"/><stop offset="0.030" stop-color="#f4a42c"/><stop offset="0.133" stop-color="#f39a30"/><stop offset="0.134" stop-color="#f39a30"/><stop offset="0.209" stop-color="#f08437"/><stop offset="0.213" stop-color="#f08238"/><stop offset="0.271" stop-color="#f06e40"/><stop offset="0.306" stop-color="#ed6143"/><stop offset="0.324" stop-color="#ec5a44"/><stop offset="0.374" stop-color="#e84644"/><stop offset="0.407" stop-color="#e84c4c"/><stop offset="0.463" stop-color="#ef6d6d"/><stop offset="0.470" stop-color="#f07272"/><stop offset="0.554" stop-color="#f28e8e"/><stop offset="0.639" stop-color="#f4a4a4"/><stop offset="0.657" stop-color="#f4a9a9"/><stop offset="0.805" stop-color="#f6bcbc"/><stop offset="0.971" stop-color="#f8d2d2"/></linearGradient>
<linearGradient id="g145" gradientUnits="userSpaceOnUse" x1="248.4" x2="318.3" y1="0" y2="0"><stop offset="0.029" stop-color="#f4a62b"/><stop offset="0.045" stop-color="#f4a42c"/><stop offset="0.142" stop-color="#f39a30"/><stop offset="0.145" stop-color="#f39930"/><stop offset="0.212" stop-color="#f08437"/><stop offset="0.216" stop-color="#f08238"/><stop offset="0.274" stop-color="#f06e40"/><stop offset="0.309" stop-color="#ed6143"/><stop offset="0.326" stop-color="#ec5a44"/><stop offset="0.378" stop-color="#e84644"/><stop offset="0.412" stop-color="#e84c4c"/><stop offset="0.469" stop-color="#ef6d6d"/><stop offset="0.477" stop-color="#f07272"/><stop offset="0.561" stop-color="#f28e8e"/><stop offset="0.644" stop-color="#f4a4a4"/><stop offset="0.663" stop-color="#f4a9a9"/><stop offset="0.811" stop-color="#f6bcbc"/><stop offset="0.972" stop-color="#f8d1d1"/></linearGradient>
<linearGradient id="g146" gradientUnits="userSpaceOnUse" x1="247.9" x2="317.9" y1="0" y2="0"><stop offset="0.028" stop-color="#f5a82a"/><stop offset="0.058" stop-color="#f4a42c"/><stop offset="0.151" stop-color="#f39a30"/><stop offset="0.154" stop-color="#f39930"/><stop offset="0.215" stop-color="#f08437"/><stop offset="0.220" stop-color="#f08238"/><stop offset="0.277" stop-color="#f06e40"/><stop offset="0.313" stop-color="#ed6143"/><stop offset="0.330" stop-color="#ec5a44"/><stop offset="0.383" stop-color="#e84644"/><stop offset="0.418" stop-color="#e84c4c"/><stop offset="0.475" stop-color="#ef6c6c"/><stop offset="0.484" stop-color="#f07272"/><stop offset="0.567" stop-color="#f28e8e"/><stop offset="0.650" stop-color="#f4a4a4"/><stop offset="0.667" stop-color="#f4a9a9"/><stop offset="0.817" stop-color="#f6bcbc"/><stop offset="0.971" stop-color="#f8d1d1"/></linearGradient>
<linearGradient id="g147" gradientUnits="userSpaceOnUse" x1="247.4" x2="317.6" y1="0" y2="0"><stop offset="0.028" stop-color="#f5aa29"/><stop offset="0.071" stop-color="#f4a42c"/><stop offset="0.162" stop-color="#f39a30"/><stop offset="0.164" stop-color="#f39a30"/><stop offset="0.219" stop-color="#f08437"/><stop offset="0.223" stop-color="#f08238"/><stop offset="0.280" stop-color="#f06e40"/><stop offset="0.316" stop-color="#ed6143"/><stop offset="0.335" stop-color="#ec5a44"/><stop offset="0.387" stop-color="#e84644"/><stop offset="0.423" stop-color="#e84c4c"/><stop offset="0.483" stop-color="#ef6d6d"/><stop offset="0.491" stop-color="#f07272"/><stop offset="0.573" stop-color="#f28e8e"/><stop offset="0.655" stop-color="#f4a4a4"/><stop offset="0.672" stop-color="#f4a9a9"/><stop offset="0.822" stop-color="#f6bcbc"/><stop offset="0.972" stop-color="#f8d0d0"/></linearGradient>
<linearGradient id="g148" gradientUnits="userSpaceOnUse" x1="246.9" x2="317.2" y1="0" y2="0"><stop offset="0.028" stop-color="#f5ab28"/><stop offset="0.082" stop-color="#f4a42c"/><stop offset="0.172" stop-color="#f39a30"/><stop offset="0.175" stop-color="#f39930"/><stop offset="0.227" stop-color="#f08238"/><stop offset="0.284" stop-color="#f06e40"/><stop offset="0.338" stop-color="#ec5a44"/><stop offset="0.394" stop-color="#e84644"/><stop offset="0.429" stop-color="#e84c4c"/><stop offset="0.491" stop-color="#ef6d6d"/><stop offset="0.498" stop-color="#f07272"/><stop offset="0.580" stop-color="#f28e8e"/><stop offset="0.660" stop-color="#f4a4a4"/><stop offset="0.678" stop-color="#f4a9a9"/><stop offset="0.828" stop-color="#f6bcbc"/><stop offset="0.971" stop-color="#f8cfcf"/></linearGradient>
<linearGradient id="g149" gradientUnits="userSpaceOnUse" x1="246.4" x2="316.8" y1="0" y2="0"><stop offset="0.029" stop-color="#f6ad27"/><stop offset="0.095" stop-color="#f4a42c"/><stop offset="0.183" stop-color="#f39a30"/><stop offset="0.185" stop-color="#f39930"/><stop offset="0.237" stop-color="#f08238"/><stop offset="0.293" stop-color="#f06e40"/><stop offset="0.348" stop-color="#ec5a44"/><stop offset="0.402" stop-color="#e84644"/><stop offset="0.438" stop-color="#e84c4c"/><stop offset="0.499" stop-color="#ef6d6d"/><stop offset="0.506" stop-color="#f07272"/><stop offset="0.587" stop-color="#f28e8e"/><stop offset="0.666" stop-color="#f4a4a4"/><stop offset="0.685" stop-color="#f4a9a9"/><stop offset="0.834" stop-color="#f6bcbc"/><stop offset="0.971" stop-color="#f8cece"/></linearGradient>
<linearGradient id="g150" gradientUnits="userSpaceOnUse" x1="245.8" x2="316.4" y1="0" y2="0"><stop offset="0.028" stop-color="#f6af27"/><stop offset="0.107" stop-color="#f4a42c"/><stop offset="0.194" stop-color="#f39a30"/><stop offset="0.195" stop-color="#f39a30"/><stop offset="0.248" stop-color="#f08238"/><stop offset="0.303" stop-color="#f06e40"/><stop offset="0.357" stop-color="#ec5a44"/><stop offset="0.411" stop-color="#e84644"/><stop offset="0.446" stop-color="#e84c4c"/><stop offset="0.507" stop-color="#ef6d6d"/><stop offset="0.514" stop-color="#f07272"/><stop offset="0.593" stop-color="#f28e8e"/><stop offset="0.673" stop-color="#f4a4a4"/><stop offset="0.691" stop-color="#f4a9a9"/><stop offset="0.840" stop-color="#f6bcbc"/><stop offset="0.972" stop-color="#f7cece"/></linearGradient>
<linearGradient id="g151" gradientUnits="userSpaceOnUse" x1="245.2" x2="316.0" y1="0" y2="0"><stop offset="0.028" stop-color="#f6b126"/><stop offset="0.033" stop-color="#f6b026"/><stop offset="0.118" stop-color="#f4a42c"/><stop offset="0.204" stop-color="#f39a30"/><stop offset="0.206" stop-color="#f39a30"/><stop offset="0.258" stop-color="#f08238"/><stop offset="0.313" stop-color="#f06e40"/><stop offset="0.367" stop-color="#ec5a44"/><stop offset="0.419" stop-color="#e84644"/><stop offset="0.455" stop-color="#e84c4c"/><stop offset="0.514" stop-color="#ef6c6c"/><stop offset="0.522" stop-color="#f07272"/><stop offset="0.602" stop-color="#f28e8e"/><stop offset="0.679" stop-color="#f4a4a4"/><stop offset="0.696" stop-color="#f4a9a9"/><stop offset="0.846" stop-color="#f6bcbc"/><stop offset="0.972" stop-color="#f7cdcd"/></linearGradient>
<linearGradient id="g152" gradientUnits="userSpaceOnUse" x1="244.6" x2="315.5" y1="0" y2="0"><stop offset="0.028" stop-color="#f6b424"/><stop offset="0.045" stop-color="#f6b026"/><stop offset="0.131" stop-color="#f4a42c"/><stop offset="0.215" stop-color="#f39a30"/><stop offset="0.217" stop-color="#f39a30"/><stop offset="0.269" stop-color="#f08238"/><stop offset="0.322" stop-color="#f06e40"/><stop offset="0.376" stop-color="#ec5a44"/><stop offset="0.428" stop-color="#e84644"/><stop offset="0.465" stop-color="#e84c4c"/><stop offset="0.523" stop-color="#ef6d6d"/><stop offset="0.530" stop-color="#f07272"/><stop offset="0.609" stop-color="#f28e8e"/><stop offset="0.686" stop-color="#f4a4a4"/><stop offset="0.703" stop-color="#f4a9a9"/><stop offset="0.853" stop-color="#f6bcbc"/><stop offset="0.971" stop-color="#f7cccc"/></linearGradient>
<linearGradient id="g153" gradientUnits="userSpaceOnUse" x1="244.0" x2="315.1" y1="0" y2="0"><stop offset="0.028" stop-color="#f6b723"/><stop offset="0.058" stop-color="#f6b026"/><stop offset="0.142" stop-color="#f4a42c"/><stop offset="0.226" stop-color="#f39a30"/><stop offset="0.228" stop-color="#f39a30"/><stop offset="0.280" stop-color="#f08238"/><stop offset="0.333" stop-color="#f06e40"/><stop offset="0.385" stop-color="#ec5a44"/><stop offset="0.439" stop-color="#e84644"/><stop offset="0.474" stop-color="#e84c4c"/><stop offset="0.532" stop-color="#ef6d6d"/><stop offset="0.539" stop-color="#f07272"/><stop offset="0.616" stop-color="#f28e8e"/><stop offset="0.694" stop-color="#f4a4a4"/><stop offset="0.710" stop-color="#f4a9a9"/><stop offset="0.858" stop-color="#f6bcbc"/><stop offset="0.972" stop-color="#f7cbcb"/></linearGradient>
<linearGradient id="g154" gradientUnits="userSpaceOnUse" x1="243.4" x2="314.6" y1="0" y2="0"><stop offset="0.029" stop-color="#f6ba22"/><stop offset="0.069" stop-color="#f6b026"/><stop offset="0.154" stop-color="#f4a42c"/><stop offset="0.238" stop-color="#f39a30"/><stop offset="0.241" stop-color="#f39930"/><stop offset="0.291" stop-color="#f08238"/><stop offset="0.344" stop-color="#f06e40"/><stop offset="0.396" stop-color="#ec5a44"/><stop offset="0.448" stop-color="#e84644"/><stop offset="0.483" stop-color="#e84c4c"/><stop offset="0.541" stop-color="#ef6d6d"/><stop offset="0.548" stop-color="#f07272"/><stop offset="0.625" stop-color="#f28e8e"/><stop offset="0.701" stop-color="#f4a4a4"/><stop offset="0.718" stop-color="#f4a9a9"/><stop offset="0.867" stop-color="#f6bcbc"/><stop offset="0.972" stop-color="#f7caca"/></linearGradient>
<linearGradient id="g155" gradientUnits="userSpaceOnUse" x1="242.7" x2="314.1" y1="0" y2="0"><stop offset="0.028" stop-color="#f6bd21"/><stop offset="0.082" stop-color="#f6b026"/><stop offset="0.166" stop-color="#f4a42c"/><stop offset="0.249" stop-color="#f39a30"/><stop offset="0.252" stop-color="#f39930"/><stop offset="0.303" stop-color="#f08238"/><stop offset="0.354" stop-color="#f06e40"/><stop offset="0.406" stop-color="#ec5a44"/><stop offset="0.458" stop-color="#e84644"/><stop offset="0.493" stop-color="#e84c4c"/><stop offset="0.550" stop-color="#ef6d6d"/><stop offset="0.557" stop-color="#f07272"/><stop offset="0.633" stop-color="#f28e8e"/><stop offset="0.707" stop-color="#f4a4a4"/><stop offset="0.724" stop-color="#f4a9a9"/><stop offset="0.875" stop-color="#f6bcbc"/><stop offset="0.972" stop-color="#f7c9c9"/></linearGradient>
<linearGradient id="g156" gradientUnits="userSpaceOnUse" x1="242.0" x2="313.6" y1="0" y2="0"><stop offset="0.028" stop-color="#f6c020"/><stop offset="0.094" stop-color="#f6b026"/><stop offset="0.178" stop-color="#f4a42c"/><stop offset="0.261" stop-color="#f39a30"/><stop offset="0.264" stop-color="#f39930"/><stop offset="0.314" stop-color="#f08238"/><stop offset="0.366" stop-color="#f06e40"/><stop offset="0.418" stop-color="#ec5a44"/><stop offset="0.469" stop-color="#e84644"/><stop offset="0.503" stop-color="#e84c4c"/><stop offset="0.560" stop-color="#ef6d6d"/><stop offset="0.567" stop-color="#f07272"/><stop offset="0.641" stop-color="#f28e8e"/><stop offset="0.715" stop-color="#f4a4a4"/><stop offset="0.732" stop-color="#f4a9a9"/><stop offset="0.883" stop-color="#f6bcbc"/><stop offset="0.972" stop-color="#f7c8c8"/></linearGradient>
<linearGradient id="g157" gradientUnits="userSpaceOnUse" x1="241.2" x2="313.1" y1="0" y2="0"><stop offset="0.027" stop-color="#f6c31e"/><stop offset="0.107" stop-color="#f6b026"/><stop offset="0.190" stop-color="#f4a42c"/><stop offset="0.274" stop-color="#f39a30"/><stop offset="0.276" stop-color="#f39930"/><stop offset="0.325" stop-color="#f08238"/><stop offset="0.378" stop-color="#f06e40"/><stop offset="0.428" stop-color="#ec5a44"/><stop offset="0.480" stop-color="#e84644"/><stop offset="0.513" stop-color="#e84c4c"/><stop offset="0.570" stop-color="#ef6d6d"/><stop offset="0.577" stop-color="#f07272"/><stop offset="0.651" stop-color="#f28e8e"/><stop offset="0.723" stop-color="#f4a4a4"/><stop offset="0.739" stop-color="#f4a9a9"/><stop offset="0.892" stop-color="#f6bcbc"/><stop offset="0.973" stop-color="#f7c7c7"/></linearGradient>
<linearGradient id="g158" gradientUnits="userSpaceOnUse" x1="240.5" x2="312.5" y1="0" y2="0"><stop offset="0.028" stop-color="#f6c61e"/><stop offset="0.038" stop-color="#f6c61e"/><stop offset="0.044" stop-color="#f6c41e"/><stop offset="0.125" stop-color="#f6b026"/><stop offset="0.206" stop-color="#f4a42c"/><stop offset="0.286" stop-color="#f39a30"/><stop offset="0.289" stop-color="#f39930"/><stop offset="0.337" stop-color="#f08238"/><stop offset="0.389" stop-color="#f06e40"/><stop offset="0.440" stop-color="#ec5a44"/><stop offset="0.490" stop-color="#e84644"/><stop offset="0.523" stop-color="#e84c4c"/><stop offset="0.580" stop-color="#ef6d6d"/><stop offset="0.587" stop-color="#f07272"/><stop offset="0.659" stop-color="#f28e8e"/><stop offset="0.732" stop-color="#f4a4a4"/><stop offset="0.747" stop-color="#f4a9a9"/><stop offset="0.900" stop-color="#f6bcbc"/><stop offset="0.972" stop-color="#f7c5c5"/></linearGradient>
<linearGradient id="g159" gradientUnits="userSpaceOnUse" x1="239.7" x2="312.0" y1="0" y2="0"><stop offset="0.027" stop-color="#f6c81d"/><stop offset="0.050" stop-color="#f6c61e"/><stop offset="0.057" stop-color="#f6c41e"/><stop offset="0.137" stop-color="#f6b026"/><stop offset="0.218" stop-color="#f4a42c"/><stop offset="0.299" stop-color="#f39a30"/><stop offset="0.302" stop-color="#f39930"/><stop offset="0.350" stop-color="#f08238"/><stop offset="0.401" stop-color="#f06e40"/><stop offset="0.451" stop-color="#ec5a44"/><stop offset="0.501" stop-color="#e84644"/><stop offset="0.535" stop-color="#e84c4c"/><stop offset="0.591" stop-color="#ef6d6d"/><stop offset="0.598" stop-color="#f07272"/><stop offset="0.668" stop-color="#f28e8e"/><stop offset="0.739" stop-color="#f4a4a4"/><stop offset="0.755" stop-color="#f4a9a9"/><stop offset="0.909" stop-color="#f6bcbc"/><stop offset="0.973" stop-color="#f7c4c4"/></linearGradient>
<linearGradient id="g160" gradientUnits="userSpaceOnUse" x1="238.9" x2="311.4" y1="0" y2="0"><stop offset="0.027" stop-color="#f7cb1c"/><stop offset="0.061" stop-color="#f6c61e"/><stop offset="0.069" stop-color="#f6c41e"/><stop offset="0.150" stop-color="#f6b026"/><stop offset="0.232" stop-color="#f4a42c"/><stop offset="0.313" stop-color="#f39a30"/><stop offset="0.314" stop-color="#f39930"/><stop offset="0.363" stop-color="#f08238"/><stop offset="0.414" stop-color="#f06e40"/><stop offset="0.463" stop-color="#ec5a44"/><stop offset="0.513" stop-color="#e84644"/><stop offset="0.546" stop-color="#e84c4c"/><stop offset="0.601" stop-color="#ef6d6d"/><stop offset="0.607" stop-color="#f07272"/><stop offset="0.679" stop-color="#f28e8e"/><stop offset="0.748" stop-color="#f4a4a4"/><stop offset="0.763" stop-color="#f4a9a9"/><stop offset="0.917" stop-color="#f6bcbc"/><stop offset="0.973" stop-color="#f7c3c3"/></linearGradient>
<linearGradient id="g161" gradientUnits="userSpaceOnUse" x1="238.1" x2="310.8" y1="0" y2="0"><stop offset="0.028" stop-color="#f7ce1c"/><stop offset="0.073" stop-color="#f6c61e"/><stop offset="0.080" stop-color="#f6c41e"/><stop offset="0.163" stop-color="#f6b026"/><stop offset="0.244" stop-color="#f4a42c"/><stop offset="0.326" stop-color="#f39a30"/><stop offset="0.328" stop-color="#f39930"/><stop offset="0.376" stop-color="#f08238"/><stop offset="0.425" stop-color="#f06e40"/><stop offset="0.475" stop-color="#ec5a44"/><stop offset="0.524" stop-color="#e84644"/><stop offset="0.557" stop-color="#e84c4c"/><stop offset="0.612" stop-color="#ef6d6d"/><stop offset="0.618" stop-color="#f07272"/><stop offset="0.688" stop-color="#f28e8e"/><stop offset="0.757" stop-color="#f4a4a4"/><stop offset="0.772" stop-color="#f4a9a9"/><stop offset="0.927" stop-color="#f6bcbc"/><stop offset="0.973" stop-color="#f6c2c2"/></linearGradient>
<linearGradient id="g162" gradientUnits="userSpaceOnUse" x1="237.2" x2="310.2" y1="0" y2="0"><stop offset="0.027" stop-color="#f7d11b"/><stop offset="0.086" stop-color="#f6c61e"/><stop offset="0.094" stop-color="#f6c41e"/><stop offset="0.175" stop-color="#f6b026"/><stop offset="0.257" stop-color="#f4a42c"/><stop offset="0.340" stop-color="#f39a30"/><stop offset="0.341" stop-color="#f39930"/><stop offset="0.389" stop-color="#f08238"/><stop offset="0.438" stop-color="#f06e40"/><stop offset="0.488" stop-color="#ec5a44"/><stop offset="0.536" stop-color="#e84644"/><stop offset="0.569" stop-color="#e84c4c"/><stop offset="0.623" stop-color="#ef6d6d"/><stop offset="0.629" stop-color="#f07272"/><stop offset="0.697" stop-color="#f28e8e"/><stop offset="0.765" stop-color="#f4a4a4"/><stop offset="0.780" stop-color="#f4a9a9"/><stop offset="0.936" stop-color="#f6bcbc"/><stop offset="0.973" stop-color="#f6c1c1"/></linearGradient>
<linearGradient id="g163" gradientUnits="userSpaceOnUse" x1="236.3" x2="309.5" y1="0" y2="0"><stop offset="0.027" stop-color="#f7d41a"/><stop offset="0.101" stop-color="#f6c61e"/><stop offset="0.107" stop-color="#f6c41e"/><stop offset="0.189" stop-color="#f6b026"/><stop offset="0.271" stop-color="#f4a42c"/><stop offset="0.353" stop-color="#f39a30"/><stop offset="0.355" stop-color="#f39930"/><stop offset="0.402" stop-color="#f08238"/><stop offset="0.452" stop-color="#f06e40"/><stop offset="0.499" stop-color="#ec5a44"/><stop offset="0.549" stop-color="#e84644"/><stop offset="0.580" stop-color="#e84c4c"/><stop offset="0.635" stop-color="#ef6d6d"/><stop offset="0.640" stop-color="#f07272"/><stop offset="0.707" stop-color="#f28e8e"/><stop offset="0.774" stop-color="#f4a4a4"/><stop offset="0.789" stop-color="#f4a9a9"/><stop offset="0.945" stop-color="#f6bcbc"/><stop offset="0.972" stop-color="#f6bfbf"/></linearGradient>
<linearGradient id="g164" gradientUnits="userSpaceOnUse" x1="235.4" x2="308.9" y1="0" y2="0"><stop offset="0.027" stop-color="#f7d61a"/><stop offset="0.114" stop-color="#f6c61e"/><stop offset="0.122" stop-color="#f6c41e"/><stop offset="0.204" stop-color="#f6b026"/><stop offset="0.284" stop-color="#f4a42c"/><stop offset="0.366" stop-color="#f39a30"/><stop offset="0.367" stop-color="#f39a30"/><stop offset="0.415" stop-color="#f08238"/><stop offset="0.464" stop-color="#f06e40"/><stop offset="0.511" stop-color="#ec5a44"/><stop offset="0.560" stop-color="#e84644"/><stop offset="0.592" stop-color="#e84c4c"/><stop offset="0.646" stop-color="#ef6d6d"/><stop offset="0.652" stop-color="#f07272"/><stop offset="0.718" stop-color="#f28e8e"/><stop offset="0.784" stop-color="#f4a4a4"/><stop offset="0.799" stop-color="#f4a9a9"/><stop offset="0.954" stop-color="#f6bcbc"/><stop offset="0.973" stop-color="#f6bebe"/></linearGradient>
<linearGradient id="g165" gradientUnits="userSpaceOnUse" x1="234.5" x2="308.2" y1="0" y2="0"><stop offset="0.027" stop-color="#f8d919"/><stop offset="0.129" stop-color="#f6c61e"/><stop offset="0.136" stop-color="#f6c41e"/><stop offset="0.217" stop-color="#f6b026"/><stop offset="0.299" stop-color="#f4a42c"/><stop offset="0.380" stop-color="#f39a30"/><stop offset="0.381" stop-color="#f39930"/><stop offset="0.427" stop-color="#f08238"/><stop offset="0.476" stop-color="#f06e40"/><stop offset="0.525" stop-color="#ec5a44"/><stop offset="0.573" stop-color="#e84644"/><stop offset="0.604" stop-color="#e84c4c"/><stop offset="0.658" stop-color="#ef6d6d"/><stop offset="0.663" stop-color="#f07272"/><stop offset="0.729" stop-color="#f28e8e"/><stop offset="0.794" stop-color="#f4a4a4"/><stop offset="0.807" stop-color="#f4a9a9"/><stop offset="0.963" stop-color="#f6bcbc"/><stop offset="0.973" stop-color="#f6bdbd"/></linearGradient>
<linearGradient id="g166" gradientUnits="userSpaceOnUse" x1="233.5" x2="307.5" y1="0" y2="0"><stop offset="0.027" stop-color="#f8dd18"/><stop offset="0.143" stop-color="#f6c61e"/><stop offset="0.151" stop-color="#f6c41e"/><stop offset="0.232" stop-color="#f6b026"/><stop offset="0.312" stop-color="#f4a42c"/><stop offset="0.393" stop-color="#f39a30"/><stop offset="0.396" stop-color="#f39930"/><stop offset="0.442" stop-color="#f08238"/><stop offset="0.490" stop-color="#f06e40"/><stop offset="0.538" stop-color="#ec5a44"/><stop offset="0.585" stop-color="#e84644"/><stop offset="0.616" stop-color="#e84c4c"/><stop offset="0.669" stop-color="#ef6d6d"/><stop offset="0.675" stop-color="#f07272"/><stop offset="0.739" stop-color="#f28e8e"/><stop offset="0.804" stop-color="#f4a4a4"/><stop offset="0.817" stop-color="#f4a9a9"/><stop offset="0.973" stop-color="#f6bcbc"/></linearGradient>
<linearGradient id="g167" gradientUnits="userSpaceOnUse" x1="232.5" x2="306.8" y1="0" y2="0"><stop offset="0.027" stop-color="#f7df18"/><stop offset="0.040" stop-color="#f4e518"/><stop offset="0.090" stop-color="#f8de18"/><stop offset="0.159" stop-color="#f6c61e"/><stop offset="0.165" stop-color="#f6c41e"/><stop offset="0.246" stop-color="#f6b026"/><stop offset="0.327" stop-color="#f4a42c"/><stop offset="0.408" stop-color="#f39a30"/><stop offset="0.409" stop-color="#f39930"/><stop offset="0.455" stop-color="#f08238"/><stop offset="0.503" stop-color="#f06e40"/><stop offset="0.550" stop-color="#ec5a44"/><stop offset="0.597" stop-color="#e84644"/><stop offset="0.628" stop-color="#e84c4c"/><stop offset="0.681" stop-color="#ef6d6d"/><stop offset="0.686" stop-color="#f07272"/><stop offset="0.751" stop-color="#f28e8e"/><stop offset="0.814" stop-color="#f4a4a4"/><stop offset="0.827" stop-color="#f4a9a9"/><stop offset="0.973" stop-color="#f6baba"/></linearGradient>
<linearGradient id="g168" gradientUnits="userSpaceOnUse" x1="231.5" x2="306.1" y1="0" y2="0"><stop offset="0.027" stop-color="#f7e118"/><stop offset="0.051" stop-color="#f4e518"/><stop offset="0.102" stop-color="#f8de18"/><stop offset="0.173" stop-color="#f6c61e"/><stop offset="0.181" stop-color="#f6c41e"/><stop offset="0.262" stop-color="#f6b026"/><stop offset="0.341" stop-color="#f4a42c"/><stop offset="0.421" stop-color="#f39a30"/><stop offset="0.424" stop-color="#f39930"/><stop offset="0.468" stop-color="#f08238"/><stop offset="0.516" stop-color="#f06e40"/><stop offset="0.563" stop-color="#ec5a44"/><stop offset="0.609" stop-color="#e84644"/><stop offset="0.640" stop-color="#e84c4c"/><stop offset="0.692" stop-color="#ef6d6d"/><stop offset="0.697" stop-color="#f07272"/><stop offset="0.761" stop-color="#f28e8e"/><stop offset="0.824" stop-color="#f4a4a4"/><stop offset="0.838" stop-color="#f4a9a9"/><stop offset="0.973" stop-color="#f6b9b9"/></linearGradient>
<linearGradient id="g169" gradientUnits="userSpaceOnUse" x1="230.4" x2="305.3" y1="0" y2="0"><stop offset="0.026" stop-color="#f6e218"/><stop offset="0.062" stop-color="#f4e518"/><stop offset="0.116" stop-color="#f8de18"/><stop offset="0.189" stop-color="#f6c61e"/><stop offset="0.196" stop-color="#f6c41e"/><stop offset="0.276" stop-color="#f6b026"/><stop offset="0.356" stop-color="#f4a42c"/><stop offset="0.436" stop-color="#f39a30"/><stop offset="0.437" stop-color="#f39930"/><stop offset="0.483" stop-color="#f08238"/><stop offset="0.529" stop-color="#f06e40"/><stop offset="0.576" stop-color="#ec5a44"/><stop offset="0.622" stop-color="#e84644"/><stop offset="0.652" stop-color="#e84c4c"/><stop offset="0.703" stop-color="#ef6c6c"/><stop offset="0.710" stop-color="#f07272"/><stop offset="0.772" stop-color="#f28e8e"/><stop offset="0.835" stop-color="#f4a4a4"/><stop offset="0.849" stop-color="#f4a9a9"/><stop offset="0.973" stop-color="#f6b7b7"/></linearGradient>
<linearGradient id="g170" gradientUnits="userSpaceOnUse" x1="229.3" x2="304.6" y1="0" y2="0"><stop offset="0.026" stop-color="#f5e418"/><stop offset="0.074" stop-color="#f4e518"/><stop offset="0.130" stop-color="#f8de18"/><stop offset="0.204" stop-color="#f6c61e"/><stop offset="0.212" stop-color="#f6c41e"/><stop offset="0.292" stop-color="#f6b026"/><stop offset="0.370" stop-color="#f4a42c"/><stop offset="0.450" stop-color="#f39a30"/><stop offset="0.453" stop-color="#f39930"/><stop offset="0.496" stop-color="#f08238"/><stop offset="0.543" stop-color="#f06e40"/><stop offset="0.588" stop-color="#ec5a44"/><stop offset="0.635" stop-color="#e84644"/><stop offset="0.665" stop-color="#e84c4c"/><stop offset="0.716" stop-color="#ef6d6d"/><stop offset="0.721" stop-color="#f07272"/><stop offset="0.784" stop-color="#f28e8e"/><stop offset="0.846" stop-color="#f4a4a4"/><stop offset="0.859" stop-color="#f4a9a9"/><stop offset="0.974" stop-color="#f6b6b6"/></linearGradient>
<linearGradient id="g171" gradientUnits="userSpaceOnUse" x1="228.2" x2="303.8" y1="0" y2="0"><stop offset="0.026" stop-color="#f4e618"/><stop offset="0.087" stop-color="#f4e518"/><stop offset="0.144" stop-color="#f8de18"/><stop offset="0.222" stop-color="#f6c61e"/><stop offset="0.229" stop-color="#f6c41e"/><stop offset="0.308" stop-color="#f6b026"/><stop offset="0.386" stop-color="#f4a42c"/><stop offset="0.465" stop-color="#f39a30"/><stop offset="0.467" stop-color="#f39930"/><stop offset="0.510" stop-color="#f08238"/><stop offset="0.557" stop-color="#f06e40"/><stop offset="0.602" stop-color="#ec5a44"/><stop offset="0.647" stop-color="#e84644"/><stop offset="0.677" stop-color="#e84c4c"/><stop offset="0.727" stop-color="#ef6d6d"/><stop offset="0.733" stop-color="#f07272"/><stop offset="0.795" stop-color="#f28e8e"/><stop offset="0.857" stop-color="#f4a4a4"/><stop offset="0.870" stop-color="#f4a9a9"/><stop offset="0.974" stop-color="#f5b5b5"/></linearGradient>
<linearGradient id="g172" gradientUnits="userSpaceOnUse" x1="227.1" x2="303.0" y1="0" y2="0"><stop offset="0.027" stop-color="#f2e61a"/><stop offset="0.078" stop-color="#f4e618"/><stop offset="0.099" stop-color="#f4e518"/><stop offset="0.158" stop-color="#f8de18"/><stop offset="0.240" stop-color="#f6c61e"/><stop offset="0.247" stop-color="#f6c41e"/><stop offset="0.324" stop-color="#f6b026"/><stop offset="0.402" stop-color="#f4a42c"/><stop offset="0.480" stop-color="#f39a30"/><stop offset="0.481" stop-color="#f39a30"/><stop offset="0.526" stop-color="#f08238"/><stop offset="0.571" stop-color="#f06e40"/><stop offset="0.615" stop-color="#ec5a44"/><stop offset="0.660" stop-color="#e84644"/><stop offset="0.691" stop-color="#e84c4c"/><stop offset="0.739" stop-color="#ef6c6c"/><stop offset="0.746" stop-color="#f07272"/><stop offset="0.808" stop-color="#f28e8e"/><stop offset="0.868" stop-color="#f4a4a4"/><stop offset="0.881" stop-color="#f4a9a9"/><stop offset="0.974" stop-color="#f5b3b3"/></linearGradient>
<linearGradient id="g173" gradientUnits="userSpaceOnUse" x1="225.9" x2="302.2" y1="0" y2="0"><stop offset="0.026" stop-color="#f0e51d"/><stop offset="0.098" stop-color="#f4e618"/><stop offset="0.112" stop-color="#f4e518"/><stop offset="0.173" stop-color="#f8de18"/><stop offset="0.258" stop-color="#f6c61e"/><stop offset="0.265" stop-color="#f6c41e"/><stop offset="0.342" stop-color="#f6b026"/><stop offset="0.418" stop-color="#f4a42c"/><stop offset="0.496" stop-color="#f39a30"/><stop offset="0.497" stop-color="#f39930"/><stop offset="0.540" stop-color="#f08238"/><stop offset="0.585" stop-color="#f06e40"/><stop offset="0.629" stop-color="#ec5a44"/><stop offset="0.674" stop-color="#e84644"/><stop offset="0.703" stop-color="#e84c4c"/><stop offset="0.753" stop-color="#ef6d6d"/><stop offset="0.758" stop-color="#f07272"/><stop offset="0.819" stop-color="#f28e8e"/><stop offset="0.880" stop-color="#f4a4a4"/><stop offset="0.893" stop-color="#f4a9a9"/><stop offset="0.974" stop-color="#f5b2b2"/></linearGradient>
<linearGradient id="g174" gradientUnits="userSpaceOnUse" x1="224.7" x2="301.3" y1="0" y2="0"><stop offset="0.026" stop-color="#ede521"/><stop offset="0.115" stop-color="#f4e618"/><stop offset="0.124" stop-color="#f4e518"/><stop offset="0.188" stop-color="#f8de18"/><stop offset="0.277" stop-color="#f6c61e"/><stop offset="0.285" stop-color="#f6c41e"/><stop offset="0.359" stop-color="#f6b026"/><stop offset="0.435" stop-color="#f4a42c"/><stop offset="0.510" stop-color="#f39a30"/><stop offset="0.512" stop-color="#f39a30"/><stop offset="0.555" stop-color="#f08238"/><stop offset="0.600" stop-color="#f06e40"/><stop offset="0.643" stop-color="#ec5a44"/><stop offset="0.688" stop-color="#e84644"/><stop offset="0.717" stop-color="#e84c4c"/><stop offset="0.765" stop-color="#ef6d6d"/><stop offset="0.771" stop-color="#f07272"/><stop offset="0.831" stop-color="#f28e8e"/><stop offset="0.891" stop-color="#f4a4a4"/><stop offset="0.904" stop-color="#f4a9a9"/><stop offset="0.973" stop-color="#f5b0b0"/></linearGradient>
<linearGradient id="g175" gradientUnits="userSpaceOnUse" x1="223.4" x2="300.5" y1="0" y2="0"><stop offset="0.026" stop-color="#e9e424"/><stop offset="0.130" stop-color="#f4e618"/><stop offset="0.137" stop-color="#f4e518"/><stop offset="0.204" stop-color="#f8de18"/><stop offset="0.296" stop-color="#f6c61e"/><stop offset="0.303" stop-color="#f6c41e"/><stop offset="0.377" stop-color="#f6b026"/><stop offset="0.451" stop-color="#f4a42c"/><stop offset="0.527" stop-color="#f39a30"/><stop offset="0.528" stop-color="#f39930"/><stop offset="0.571" stop-color="#f08238"/><stop offset="0.615" stop-color="#f06e40"/><stop offset="0.658" stop-color="#ec5a44"/><stop offset="0.701" stop-color="#e84644"/><stop offset="0.730" stop-color="#e84c4c"/><stop offset="0.778" stop-color="#ef6d6d"/><stop offset="0.784" stop-color="#f07272"/><stop offset="0.843" stop-color="#f28e8e"/><stop offset="0.903" stop-color="#f4a4a4"/><stop offset="0.916" stop-color="#f4a9a9"/><stop offset="0.974" stop-color="#f5afaf"/></linearGradient>
<linearGradient id="g176" gradientUnits="userSpaceOnUse" x1="222.1" x2="299.6" y1="0" y2="0"><stop offset="0.025" stop-color="#e6e427"/><stop offset="0.144" stop-color="#f4e618"/><stop offset="0.151" stop-color="#f4e518"/><stop offset="0.220" stop-color="#f8de18"/><stop offset="0.316" stop-color="#f6c61e"/><stop offset="0.322" stop-color="#f6c41e"/><stop offset="0.396" stop-color="#f6b026"/><stop offset="0.468" stop-color="#f4a42c"/><stop offset="0.542" stop-color="#f39a30"/><stop offset="0.543" stop-color="#f39a30"/><stop offset="0.586" stop-color="#f08238"/><stop offset="0.630" stop-color="#f06e40"/><stop offset="0.672" stop-color="#ec5a44"/><stop offset="0.715" stop-color="#e84644"/><stop offset="0.743" stop-color="#e84c4c"/><stop offset="0.791" stop-color="#ef6d6d"/><stop offset="0.796" stop-color="#f07272"/><stop offset="0.856" stop-color="#f28e8e"/><stop offset="0.915" stop-color="#f4a4a4"/><stop offset="0.928" stop-color="#f4a9a9"/><stop offset="0.974" stop-color="#f5aeae"/></linearGradient>
<linearGradient id="g177" gradientUnits="userSpaceOnUse" x1="220.8" x2="298.7" y1="0" y2="0"><stop offset="0.026" stop-color="#dfe12e"/><stop offset="0.046" stop-color="#e6e428"/><stop offset="0.158" stop-color="#f4e618"/><stop offset="0.164" stop-color="#f4e518"/><stop offset="0.236" stop-color="#f8de18"/><stop offset="0.335" stop-color="#f6c61e"/><stop offset="0.341" stop-color="#f6c41e"/><stop offset="0.413" stop-color="#f6b026"/><stop offset="0.485" stop-color="#f4a42c"/><stop offset="0.558" stop-color="#f39a30"/><stop offset="0.560" stop-color="#f39930"/><stop offset="0.601" stop-color="#f08238"/><stop offset="0.643" stop-color="#f06e40"/><stop offset="0.686" stop-color="#ec5a44"/><stop offset="0.728" stop-color="#e84644"/><stop offset="0.756" stop-color="#e84c4c"/><stop offset="0.802" stop-color="#ef6d6d"/><stop offset="0.808" stop-color="#f07171"/><stop offset="0.868" stop-color="#f28e8e"/><stop offset="0.927" stop-color="#f4a4a4"/><stop offset="0.940" stop-color="#f4a9a9"/><stop offset="0.975" stop-color="#f5acac"/></linearGradient>
<linearGradient id="g178" gradientUnits="userSpaceOnUse" x1="219.5" x2="297.8" y1="0" y2="0"><stop offset="0.026" stop-color="#d6dd36"/><stop offset="0.067" stop-color="#e6e428"/><stop offset="0.173" stop-color="#f4e618"/><stop offset="0.178" stop-color="#f4e618"/><stop offset="0.252" stop-color="#f8de18"/><stop offset="0.354" stop-color="#f6c61e"/><stop offset="0.361" stop-color="#f6c41e"/><stop offset="0.432" stop-color="#f6b026"/><stop offset="0.502" stop-color="#f4a42c"/><stop offset="0.574" stop-color="#f39a30"/><stop offset="0.577" stop-color="#f39930"/><stop offset="0.616" stop-color="#f08238"/><stop offset="0.658" stop-color="#f06e40"/><stop offset="0.700" stop-color="#ec5a44"/><stop offset="0.741" stop-color="#e84644"/><stop offset="0.768" stop-color="#e84c4c"/><stop offset="0.814" stop-color="#ef6c6c"/><stop offset="0.820" stop-color="#f07272"/><stop offset="0.879" stop-color="#f28e8e"/><stop offset="0.939" stop-color="#f4a4a4"/><stop offset="0.952" stop-color="#f4a9a9"/><stop offset="0.975" stop-color="#f5abab"/></linearGradient>
<linearGradient id="g179" gradientUnits="userSpaceOnUse" x1="218.1" x2="296.8" y1="0" y2="0"><stop offset="0.026" stop-color="#ceda3d"/><stop offset="0.087" stop-color="#e6e428"/><stop offset="0.187" stop-color="#f4e618"/><stop offset="0.192" stop-color="#f4e618"/><stop offset="0.268" stop-color="#f8de18"/><stop offset="0.374" stop-color="#f6c61e"/><stop offset="0.380" stop-color="#f6c41e"/><stop offset="0.450" stop-color="#f6b026"/><stop offset="0.520" stop-color="#f4a42c"/><stop offset="0.591" stop-color="#f39a30"/><stop offset="0.592" stop-color="#f39930"/><stop offset="0.632" stop-color="#f08238"/><stop offset="0.674" stop-color="#f06e40"/><stop offset="0.714" stop-color="#ec5a44"/><stop offset="0.755" stop-color="#e84644"/><stop offset="0.781" stop-color="#e84c4c"/><stop offset="0.826" stop-color="#ef6c6c"/><stop offset="0.832" stop-color="#f07272"/><stop offset="0.897" stop-color="#f28e8e"/><stop offset="0.960" stop-color="#f4a4a4"/><stop offset="0.974" stop-color="#f4a9a9"/></linearGradient>
<linearGradient id="g180" gradientUnits="userSpaceOnUse" x1="216.6" x2="295.8" y1="0" y2="0"><stop offset="0.025" stop-color="#c4d643"/><stop offset="0.033" stop-color="#c4d643"/><stop offset="0.045" stop-color="#cad840"/><stop offset="0.110" stop-color="#e6e428"/><stop offset="0.202" stop-color="#f4e618"/><stop offset="0.208" stop-color="#f4e518"/><stop offset="0.286" stop-color="#f8de18"/><stop offset="0.394" stop-color="#f6c61e"/><stop offset="0.400" stop-color="#f6c41e"/><stop offset="0.469" stop-color="#f6b026"/><stop offset="0.537" stop-color="#f4a42c"/><stop offset="0.607" stop-color="#f39a30"/><stop offset="0.608" stop-color="#f39a30"/><stop offset="0.647" stop-color="#f08238"/><stop offset="0.688" stop-color="#f06e40"/><stop offset="0.728" stop-color="#ec5a44"/><stop offset="0.767" stop-color="#e84644"/><stop offset="0.795" stop-color="#e84c4c"/><stop offset="0.839" stop-color="#ef6d6d"/><stop offset="0.844" stop-color="#f07272"/><stop offset="0.909" stop-color="#f28e8e"/><stop offset="0.972" stop-color="#f4a4a4"/><stop offset="0.974" stop-color="#f4a5a5"/></linearGradient>
<linearGradient id="g181" gradientUnits="userSpaceOnUse" x1="215.1" x2="294.9" y1="0" y2="0"><stop offset="0.024" stop-color="#bdd448"/><stop offset="0.050" stop-color="#c4d644"/><stop offset="0.062" stop-color="#cad840"/><stop offset="0.126" stop-color="#e6e428"/><stop offset="0.218" stop-color="#f4e618"/><stop offset="0.223" stop-color="#f4e518"/><stop offset="0.303" stop-color="#f8de18"/><stop offset="0.413" stop-color="#f6c61e"/><stop offset="0.420" stop-color="#f6c41e"/><stop offset="0.487" stop-color="#f6b026"/><stop offset="0.555" stop-color="#f4a42c"/><stop offset="0.623" stop-color="#f39a30"/><stop offset="0.624" stop-color="#f39a30"/><stop offset="0.663" stop-color="#f08238"/><stop offset="0.703" stop-color="#f06e40"/><stop offset="0.742" stop-color="#ec5a44"/><stop offset="0.781" stop-color="#e84644"/><stop offset="0.807" stop-color="#e84c4c"/><stop offset="0.851" stop-color="#ef6d6d"/><stop offset="0.856" stop-color="#f07171"/><stop offset="0.920" stop-color="#f28e8e"/><stop offset="0.975" stop-color="#f4a1a1"/></linearGradient>
<linearGradient id="g182" gradientUnits="userSpaceOnUse" x1="213.6" x2="293.8" y1="0" y2="0"><stop offset="0.025" stop-color="#b6d14c"/><stop offset="0.068" stop-color="#c4d643"/><stop offset="0.079" stop-color="#cad840"/><stop offset="0.143" stop-color="#e6e428"/><stop offset="0.233" stop-color="#f4e618"/><stop offset="0.238" stop-color="#f4e518"/><stop offset="0.320" stop-color="#f8de18"/><stop offset="0.432" stop-color="#f6c61e"/><stop offset="0.438" stop-color="#f6c41e"/><stop offset="0.506" stop-color="#f6b026"/><stop offset="0.573" stop-color="#f4a42c"/><stop offset="0.639" stop-color="#f39a30"/><stop offset="0.640" stop-color="#f39a30"/><stop offset="0.679" stop-color="#f08238"/><stop offset="0.718" stop-color="#f06e40"/><stop offset="0.756" stop-color="#ec5a44"/><stop offset="0.795" stop-color="#e84644"/><stop offset="0.821" stop-color="#e84c4c"/><stop offset="0.864" stop-color="#ef6d6d"/><stop offset="0.870" stop-color="#f07272"/><stop offset="0.932" stop-color="#f28e8e"/><stop offset="0.974" stop-color="#f39d9d"/></linearGradient>
<linearGradient id="g183" gradientUnits="userSpaceOnUse" x1="212.1" x2="292.8" y1="0" y2="0"><stop offset="0.025" stop-color="#afcf50"/><stop offset="0.086" stop-color="#c4d644"/><stop offset="0.098" stop-color="#cad840"/><stop offset="0.160" stop-color="#e6e428"/><stop offset="0.248" stop-color="#f4e618"/><stop offset="0.253" stop-color="#f4e518"/><stop offset="0.336" stop-color="#f8de18"/><stop offset="0.450" stop-color="#f6c61e"/><stop offset="0.456" stop-color="#f6c41e"/><stop offset="0.523" stop-color="#f6b026"/><stop offset="0.590" stop-color="#f4a42c"/><stop offset="0.655" stop-color="#f39a30"/><stop offset="0.658" stop-color="#f39930"/><stop offset="0.694" stop-color="#f08238"/><stop offset="0.734" stop-color="#f06e40"/><stop offset="0.771" stop-color="#ec5a44"/><stop offset="0.809" stop-color="#e84644"/><stop offset="0.834" stop-color="#e84c4c"/><stop offset="0.876" stop-color="#ef6d6d"/><stop offset="0.882" stop-color="#f07272"/><stop offset="0.944" stop-color="#f28e8e"/><stop offset="0.975" stop-color="#f39999"/></linearGradient>
<linearGradient id="g184" gradientUnits="userSpaceOnUse" x1="210.5" x2="291.8" y1="0" y2="0"><stop offset="0.025" stop-color="#a8cd54"/><stop offset="0.105" stop-color="#c4d643"/><stop offset="0.116" stop-color="#cad840"/><stop offset="0.176" stop-color="#e6e428"/><stop offset="0.264" stop-color="#f4e618"/><stop offset="0.268" stop-color="#f4e518"/><stop offset="0.352" stop-color="#f8de18"/><stop offset="0.468" stop-color="#f6c61e"/><stop offset="0.474" stop-color="#f6c41e"/><stop offset="0.540" stop-color="#f6b026"/><stop offset="0.607" stop-color="#f4a42c"/><stop offset="0.673" stop-color="#f39a30"/><stop offset="0.674" stop-color="#f39930"/><stop offset="0.710" stop-color="#f08238"/><stop offset="0.748" stop-color="#f06e40"/><stop offset="0.785" stop-color="#ec5a44"/><stop offset="0.823" stop-color="#e84644"/><stop offset="0.848" stop-color="#e84c4c"/><stop offset="0.889" stop-color="#ef6d6d"/><stop offset="0.895" stop-color="#f07272"/><stop offset="0.956" stop-color="#f28e8e"/><stop offset="0.976" stop-color="#f39595"/></linearGradient>
<linearGradient id="g185" gradientUnits="userSpaceOnUse" x1="208.8" x2="290.7" y1="0" y2="0"><stop offset="0.024" stop-color="#a1cb58"/><stop offset="0.037" stop-color="#a6cc56"/><stop offset="0.123" stop-color="#c4d644"/><stop offset="0.135" stop-color="#cad840"/><stop offset="0.194" stop-color="#e6e428"/><stop offset="0.278" stop-color="#f4e618"/><stop offset="0.283" stop-color="#f4e618"/><stop offset="0.369" stop-color="#f8de18"/><stop offset="0.486" stop-color="#f6c61e"/><stop offset="0.492" stop-color="#f6c41e"/><stop offset="0.558" stop-color="#f6b026"/><stop offset="0.624" stop-color="#f4a42c"/><stop offset="0.690" stop-color="#f39a30"/><stop offset="0.691" stop-color="#f39930"/><stop offset="0.727" stop-color="#f08238"/><stop offset="0.764" stop-color="#f06e40"/><stop offset="0.800" stop-color="#ec5a44"/><stop offset="0.837" stop-color="#e84644"/><stop offset="0.861" stop-color="#e84c4c"/><stop offset="0.901" stop-color="#ef6c6c"/><stop offset="0.907" stop-color="#f07272"/><stop offset="0.967" stop-color="#f28e8e"/><stop offset="0.976" stop-color="#f29191"/></linearGradient>
<linearGradient id="g186" gradientUnits="userSpaceOnUse" x1="207.1" x2="289.6" y1="0" y2="0"><stop offset="0.024" stop-color="#9ac95c"/><stop offset="0.057" stop-color="#a6cc56"/><stop offset="0.143" stop-color="#c4d643"/><stop offset="0.154" stop-color="#cad840"/><stop offset="0.212" stop-color="#e6e428"/><stop offset="0.294" stop-color="#f4e618"/><stop offset="0.299" stop-color="#f4e518"/><stop offset="0.385" stop-color="#f8de18"/><stop offset="0.505" stop-color="#f6c61e"/><stop offset="0.510" stop-color="#f6c41e"/><stop offset="0.576" stop-color="#f6b026"/><stop offset="0.641" stop-color="#f4a42c"/><stop offset="0.707" stop-color="#f39a30"/><stop offset="0.708" stop-color="#f39a30"/><stop offset="0.743" stop-color="#f08238"/><stop offset="0.779" stop-color="#f06e40"/><stop offset="0.816" stop-color="#ec5a44"/><stop offset="0.851" stop-color="#e84644"/><stop offset="0.875" stop-color="#e84c4c"/><stop offset="0.915" stop-color="#ef6d6d"/><stop offset="0.920" stop-color="#f07272"/><stop offset="0.976" stop-color="#f28d8d"/></linearGradient>
<linearGradient id="g187" gradientUnits="userSpaceOnUse" x1="205.4" x2="288.5" y1="0" y2="0"><stop offset="0.024" stop-color="#92c85f"/><stop offset="0.076" stop-color="#a6cc56"/><stop offset="0.161" stop-color="#c4d644"/><stop offset="0.172" stop-color="#cad840"/><stop offset="0.229" stop-color="#e6e428"/><stop offset="0.311" stop-color="#f4e618"/><stop offset="0.315" stop-color="#f4e518"/><stop offset="0.402" stop-color="#f8de18"/><stop offset="0.524" stop-color="#f6c61e"/><stop offset="0.529" stop-color="#f6c41e"/><stop offset="0.594" stop-color="#f6b026"/><stop offset="0.659" stop-color="#f4a42c"/><stop offset="0.724" stop-color="#f39a30"/><stop offset="0.725" stop-color="#f39a30"/><stop offset="0.760" stop-color="#f08238"/><stop offset="0.795" stop-color="#f06e40"/><stop offset="0.831" stop-color="#ec5a44"/><stop offset="0.866" stop-color="#e84644"/><stop offset="0.889" stop-color="#e84c4c"/><stop offset="0.928" stop-color="#ef6d6d"/><stop offset="0.933" stop-color="#f07272"/><stop offset="0.976" stop-color="#f28888"/></linearGradient>
<linearGradient id="g188" gradientUnits="userSpaceOnUse" x1="203.6" x2="287.3" y1="0" y2="0"><stop offset="0.024" stop-color="#8bc663"/><stop offset="0.097" stop-color="#a6cc56"/><stop offset="0.181" stop-color="#c4d644"/><stop offset="0.192" stop-color="#cad840"/><stop offset="0.247" stop-color="#e6e428"/><stop offset="0.327" stop-color="#f4e618"/><stop offset="0.331" stop-color="#f4e618"/><stop offset="0.419" stop-color="#f8de18"/><stop offset="0.542" stop-color="#f6c61e"/><stop offset="0.547" stop-color="#f6c41e"/><stop offset="0.612" stop-color="#f6b026"/><stop offset="0.676" stop-color="#f4a42c"/><stop offset="0.741" stop-color="#f39a30"/><stop offset="0.742" stop-color="#f39a30"/><stop offset="0.775" stop-color="#f08238"/><stop offset="0.811" stop-color="#f06e40"/><stop offset="0.846" stop-color="#ec5a44"/><stop offset="0.879" stop-color="#e84644"/><stop offset="0.903" stop-color="#e84d4d"/><stop offset="0.941" stop-color="#ef6d6d"/><stop offset="0.946" stop-color="#f07272"/><stop offset="0.976" stop-color="#f18282"/></linearGradient>
<linearGradient id="g189" gradientUnits="userSpaceOnUse" x1="201.8" x2="286.1" y1="0" y2="0"><stop offset="0.024" stop-color="#83c567"/><stop offset="0.119" stop-color="#a6cc56"/><stop offset="0.204" stop-color="#c5d643"/><stop offset="0.214" stop-color="#cad840"/><stop offset="0.267" stop-color="#e6e428"/><stop offset="0.343" stop-color="#f4e618"/><stop offset="0.348" stop-color="#f4e518"/><stop offset="0.437" stop-color="#f8de18"/><stop offset="0.561" stop-color="#f6c61e"/><stop offset="0.566" stop-color="#f6c41e"/><stop offset="0.630" stop-color="#f6b026"/><stop offset="0.694" stop-color="#f4a42c"/><stop offset="0.758" stop-color="#f39a30"/><stop offset="0.759" stop-color="#f39930"/><stop offset="0.792" stop-color="#f08238"/><stop offset="0.827" stop-color="#f06e40"/><stop offset="0.860" stop-color="#ec5a44"/><stop offset="0.894" stop-color="#e84644"/><stop offset="0.917" stop-color="#e84c4c"/><stop offset="0.953" stop-color="#ef6c6c"/><stop offset="0.958" stop-color="#f07272"/><stop offset="0.976" stop-color="#f17d7d"/></linearGradient>
<linearGradient id="g190" gradientUnits="userSpaceOnUse" x1="199.9" x2="284.9" y1="0" y2="0"><stop offset="0.024" stop-color="#7ac36b"/><stop offset="0.039" stop-color="#80c468"/><stop offset="0.140" stop-color="#a6cc56"/><stop offset="0.226" stop-color="#c4d643"/><stop offset="0.235" stop-color="#cad840"/><stop offset="0.287" stop-color="#e6e428"/><stop offset="0.360" stop-color="#f4e618"/><stop offset="0.365" stop-color="#f4e518"/><stop offset="0.453" stop-color="#f8de18"/><stop offset="0.575" stop-color="#f6c61e"/><stop offset="0.581" stop-color="#f6c41e"/><stop offset="0.646" stop-color="#f6b026"/><stop offset="0.710" stop-color="#f4a42c"/><stop offset="0.775" stop-color="#f39a30"/><stop offset="0.776" stop-color="#f39930"/><stop offset="0.809" stop-color="#f08238"/><stop offset="0.842" stop-color="#f06e40"/><stop offset="0.875" stop-color="#ec5a44"/><stop offset="0.909" stop-color="#e84644"/><stop offset="0.930" stop-color="#e84c4c"/><stop offset="0.967" stop-color="#ef6c6c"/><stop offset="0.970" stop-color="#f07272"/><stop offset="0.976" stop-color="#f07777"/></linearGradient>
<linearGradient id="g191" gradientUnits="userSpaceOnUse" x1="197.9" x2="283.7" y1="0" y2="0"><stop offset="0.023" stop-color="#70c170"/><stop offset="0.061" stop-color="#80c468"/><stop offset="0.163" stop-color="#a6cc56"/><stop offset="0.248" stop-color="#c4d644"/><stop offset="0.257" stop-color="#cad840"/><stop offset="0.307" stop-color="#e6e428"/><stop offset="0.377" stop-color="#f4e618"/><stop offset="0.381" stop-color="#f4e618"/><stop offset="0.467" stop-color="#f8de18"/><stop offset="0.587" stop-color="#f6c61e"/><stop offset="0.593" stop-color="#f6c41e"/><stop offset="0.659" stop-color="#f6b026"/><stop offset="0.726" stop-color="#f4a42c"/><stop offset="0.792" stop-color="#f39a30"/><stop offset="0.793" stop-color="#f39930"/><stop offset="0.824" stop-color="#f08238"/><stop offset="0.855" stop-color="#f06e40"/><stop offset="0.886" stop-color="#ec5a44"/><stop offset="0.916" stop-color="#e84644"/><stop offset="0.937" stop-color="#e84c4c"/><stop offset="0.976" stop-color="#f07272"/></linearGradient>
<linearGradient id="g192" gradientUnits="userSpaceOnUse" x1="195.9" x2="282.5" y1="0" y2="0"><stop offset="0.023" stop-color="#67bf74"/><stop offset="0.034" stop-color="#70c170"/><stop offset="0.075" stop-color="#80c468"/><stop offset="0.181" stop-color="#a6cc56"/><stop offset="0.271" stop-color="#c5d643"/><stop offset="0.279" stop-color="#cad840"/><stop offset="0.327" stop-color="#e6e428"/><stop offset="0.395" stop-color="#f4e618"/><stop offset="0.398" stop-color="#f4e518"/><stop offset="0.483" stop-color="#f8de18"/><stop offset="0.599" stop-color="#f6c61e"/><stop offset="0.605" stop-color="#f6c41e"/><stop offset="0.673" stop-color="#f6b026"/><stop offset="0.742" stop-color="#f4a42c"/><stop offset="0.810" stop-color="#f39a30"/><stop offset="0.811" stop-color="#f39930"/><stop offset="0.841" stop-color="#f08238"/><stop offset="0.871" stop-color="#f06e40"/><stop offset="0.901" stop-color="#ec5a44"/><stop offset="0.932" stop-color="#e84644"/><stop offset="0.952" stop-color="#e84c4c"/><stop offset="0.977" stop-color="#ed6464"/></linearGradient>
<linearGradient id="g193" gradientUnits="userSpaceOnUse" x1="193.8" x2="281.2" y1="0" y2="0"><stop offset="0.022" stop-color="#5dbd78"/><stop offset="0.052" stop-color="#70c170"/><stop offset="0.093" stop-color="#80c468"/><stop offset="0.202" stop-color="#a6cc56"/><stop offset="0.294" stop-color="#c4d643"/><stop offset="0.302" stop-color="#cad840"/><stop offset="0.347" stop-color="#e6e428"/><stop offset="0.412" stop-color="#f4e618"/><stop offset="0.416" stop-color="#f4e518"/><stop offset="0.497" stop-color="#f8de18"/><stop offset="0.612" stop-color="#f6c61e"/><stop offset="0.618" stop-color="#f6c41e"/><stop offset="0.687" stop-color="#f6b026"/><stop offset="0.757" stop-color="#f4a42c"/><stop offset="0.826" stop-color="#f39a30"/><stop offset="0.828" stop-color="#f39930"/><stop offset="0.858" stop-color="#f08238"/><stop offset="0.889" stop-color="#f06e40"/><stop offset="0.919" stop-color="#ec5a44"/><stop offset="0.950" stop-color="#e84644"/><stop offset="0.969" stop-color="#e84c4c"/><stop offset="0.977" stop-color="#ea5353"/></linearGradient>
<linearGradient id="g194" gradientUnits="userSpaceOnUse" x1="191.7" x2="279.9" y1="0" y2="0"><stop offset="0.022" stop-color="#50bb7f"/><stop offset="0.032" stop-color="#56bc7c"/><stop offset="0.071" stop-color="#70c16f"/><stop offset="0.113" stop-color="#80c468"/><stop offset="0.223" stop-color="#a6cc56"/><stop offset="0.317" stop-color="#c4d643"/><stop offset="0.325" stop-color="#cad840"/><stop offset="0.368" stop-color="#e6e428"/><stop offset="0.430" stop-color="#f4e618"/><stop offset="0.433" stop-color="#f4e618"/><stop offset="0.515" stop-color="#f8de18"/><stop offset="0.626" stop-color="#f6c61e"/><stop offset="0.631" stop-color="#f6c41e"/><stop offset="0.703" stop-color="#f6b026"/><stop offset="0.773" stop-color="#f4a42c"/><stop offset="0.844" stop-color="#f39a30"/><stop offset="0.846" stop-color="#f39930"/><stop offset="0.875" stop-color="#f08238"/><stop offset="0.906" stop-color="#f06e40"/><stop offset="0.937" stop-color="#ec5a44"/><stop offset="0.967" stop-color="#e84644"/><stop offset="0.977" stop-color="#e84948"/></linearGradient>
<linearGradient id="g195" gradientUnits="userSpaceOnUse" x1="189.5" x2="278.6" y1="0" y2="0"><stop offset="0.022" stop-color="#43b884"/><stop offset="0.051" stop-color="#56bc7c"/><stop offset="0.090" stop-color="#70c170"/><stop offset="0.132" stop-color="#80c468"/><stop offset="0.246" stop-color="#a6cc56"/><stop offset="0.341" stop-color="#c5d643"/><stop offset="0.349" stop-color="#cad840"/><stop offset="0.389" stop-color="#e6e428"/><stop offset="0.448" stop-color="#f4e618"/><stop offset="0.451" stop-color="#f4e518"/><stop offset="0.531" stop-color="#f8de18"/><stop offset="0.642" stop-color="#f6c61e"/><stop offset="0.648" stop-color="#f6c41e"/><stop offset="0.720" stop-color="#f6b026"/><stop offset="0.790" stop-color="#f4a42c"/><stop offset="0.861" stop-color="#f39a30"/><stop offset="0.863" stop-color="#f39930"/><stop offset="0.893" stop-color="#f08238"/><stop offset="0.924" stop-color="#f06e40"/><stop offset="0.954" stop-color="#ec5a44"/><stop offset="0.978" stop-color="#e94b44"/></linearGradient>
<linearGradient id="g196" gradientUnits="userSpaceOnUse" x1="187.2" x2="277.2" y1="0" y2="0"><stop offset="0.022" stop-color="#36b68a"/><stop offset="0.071" stop-color="#56bc7c"/><stop offset="0.110" stop-color="#70c16f"/><stop offset="0.153" stop-color="#80c468"/><stop offset="0.267" stop-color="#a6cc56"/><stop offset="0.365" stop-color="#c5d643"/><stop offset="0.372" stop-color="#cad840"/><stop offset="0.411" stop-color="#e6e428"/><stop offset="0.466" stop-color="#f4e618"/><stop offset="0.470" stop-color="#f4e518"/><stop offset="0.549" stop-color="#f8de18"/><stop offset="0.657" stop-color="#f6c61e"/><stop offset="0.664" stop-color="#f6c41e"/><stop offset="0.735" stop-color="#f6b026"/><stop offset="0.808" stop-color="#f4a42c"/><stop offset="0.879" stop-color="#f39a30"/><stop offset="0.881" stop-color="#f39930"/><stop offset="0.911" stop-color="#f08238"/><stop offset="0.942" stop-color="#f06e40"/><stop offset="0.972" stop-color="#ec5a44"/><stop offset="0.978" stop-color="#eb5744"/></linearGradient>
<linearGradient id="g197" gradientUnits="userSpaceOnUse" x1="184.9" x2="275.8" y1="0" y2="0"><stop offset="0.022" stop-color="#2bb491"/><stop offset="0.029" stop-color="#2eb48e"/><stop offset="0.090" stop-color="#56bc7c"/><stop offset="0.129" stop-color="#70c170"/><stop offset="0.173" stop-color="#80c468"/><stop offset="0.289" stop-color="#a6cc56"/><stop offset="0.388" stop-color="#c4d643"/><stop offset="0.395" stop-color="#cad840"/><stop offset="0.432" stop-color="#e6e428"/><stop offset="0.485" stop-color="#f4e618"/><stop offset="0.487" stop-color="#f4e618"/><stop offset="0.566" stop-color="#f8de18"/><stop offset="0.674" stop-color="#f6c61e"/><stop offset="0.681" stop-color="#f6c41e"/><stop offset="0.752" stop-color="#f6b026"/><stop offset="0.825" stop-color="#f4a42c"/><stop offset="0.896" stop-color="#f39a30"/><stop offset="0.898" stop-color="#f39930"/><stop offset="0.928" stop-color="#f08238"/><stop offset="0.960" stop-color="#f06e40"/><stop offset="0.978" stop-color="#ee6242"/></linearGradient>
<linearGradient id="g198" gradientUnits="userSpaceOnUse" x1="182.5" x2="274.4" y1="0" y2="0"><stop offset="0.022" stop-color="#22b298"/><stop offset="0.049" stop-color="#2eb48e"/><stop offset="0.110" stop-color="#56bc7c"/><stop offset="0.148" stop-color="#70c170"/><stop offset="0.193" stop-color="#80c468"/><stop offset="0.310" stop-color="#a6cc56"/><stop offset="0.410" stop-color="#c5d643"/><stop offset="0.417" stop-color="#cad840"/><stop offset="0.452" stop-color="#e6e428"/><stop offset="0.503" stop-color="#f4e618"/><stop offset="0.506" stop-color="#f4e518"/><stop offset="0.583" stop-color="#f8de18"/><stop offset="0.691" stop-color="#f6c61e"/><stop offset="0.697" stop-color="#f6c41e"/><stop offset="0.769" stop-color="#f6b026"/><stop offset="0.842" stop-color="#f4a42c"/><stop offset="0.914" stop-color="#f39a30"/><stop offset="0.916" stop-color="#f39930"/><stop offset="0.945" stop-color="#f08238"/><stop offset="0.978" stop-color="#f06e40"/></linearGradient>
<linearGradient id="g199" gradientUnits="userSpaceOnUse" x1="180.0" x2="273.0" y1="0" y2="0"><stop offset="0.022" stop-color="#1ab19e"/><stop offset="0.043" stop-color="#1db29b"/><stop offset="0.078" stop-color="#2eb48e"/><stop offset="0.134" stop-color="#56bc7c"/><stop offset="0.169" stop-color="#70c170"/><stop offset="0.213" stop-color="#80c468"/><stop offset="0.331" stop-color="#a6cc56"/><stop offset="0.431" stop-color="#c4d643"/><stop offset="0.438" stop-color="#cad840"/><stop offset="0.473" stop-color="#e6e428"/><stop offset="0.524" stop-color="#f4e618"/><stop offset="0.526" stop-color="#f4e618"/><stop offset="0.602" stop-color="#f8de18"/><stop offset="0.708" stop-color="#f6c61e"/><stop offset="0.714" stop-color="#f6c41e"/><stop offset="0.786" stop-color="#f6b026"/><stop offset="0.859" stop-color="#f4a42c"/><stop offset="0.931" stop-color="#f39a30"/><stop offset="0.933" stop-color="#f39930"/><stop offset="0.964" stop-color="#f08238"/><stop offset="0.979" stop-color="#f0793c"/></linearGradient>
<linearGradient id="g200" gradientUnits="userSpaceOnUse" x1="177.4" x2="271.5" y1="0" y2="0"><stop offset="0.022" stop-color="#13b0a3"/><stop offset="0.058" stop-color="#1db29b"/><stop offset="0.094" stop-color="#2eb48e"/><stop offset="0.153" stop-color="#56bc7c"/><stop offset="0.189" stop-color="#70c170"/><stop offset="0.235" stop-color="#80c468"/><stop offset="0.353" stop-color="#a6cc56"/><stop offset="0.454" stop-color="#c4d643"/><stop offset="0.460" stop-color="#cad840"/><stop offset="0.495" stop-color="#e6e428"/><stop offset="0.544" stop-color="#f4e618"/><stop offset="0.547" stop-color="#f4e518"/><stop offset="0.622" stop-color="#f8de18"/><stop offset="0.724" stop-color="#f6c61e"/><stop offset="0.730" stop-color="#f6c41e"/><stop offset="0.803" stop-color="#f6b026"/><stop offset="0.876" stop-color="#f4a42c"/><stop offset="0.949" stop-color="#f39a30"/><stop offset="0.951" stop-color="#f39930"/><stop offset="0.979" stop-color="#f08537"/></linearGradient>
<linearGradient id="g201" gradientUnits="userSpaceOnUse" x1="174.7" x2="270.0" y1="0" y2="0"><stop offset="0.021" stop-color="#12afa9"/><stop offset="0.039" stop-color="#12b0a4"/><stop offset="0.074" stop-color="#1db29b"/><stop offset="0.110" stop-color="#2eb48e"/><stop offset="0.172" stop-color="#56bc7c"/><stop offset="0.210" stop-color="#70c170"/><stop offset="0.255" stop-color="#80c468"/><stop offset="0.375" stop-color="#a6cc56"/><stop offset="0.476" stop-color="#c5d643"/><stop offset="0.483" stop-color="#cad840"/><stop offset="0.516" stop-color="#e6e428"/><stop offset="0.565" stop-color="#f4e618"/><stop offset="0.568" stop-color="#f4e518"/><stop offset="0.640" stop-color="#f8de18"/><stop offset="0.741" stop-color="#f6c61e"/><stop offset="0.747" stop-color="#f6c41e"/><stop offset="0.820" stop-color="#f6b026"/><stop offset="0.893" stop-color="#f4a42c"/><stop offset="0.966" stop-color="#f39a30"/><stop offset="0.968" stop-color="#f39930"/><stop offset="0.979" stop-color="#f29332"/></linearGradient>
<linearGradient id="g202" gradientUnits="userSpaceOnUse" x1="171.9" x2="268.5" y1="0" y2="0"><stop offset="0.021" stop-color="#11aeae"/><stop offset="0.057" stop-color="#12b0a4"/><stop offset="0.089" stop-color="#1db29b"/><stop offset="0.128" stop-color="#2eb48e"/><stop offset="0.192" stop-color="#56bc7c"/><stop offset="0.231" stop-color="#70c170"/><stop offset="0.277" stop-color="#80c468"/><stop offset="0.397" stop-color="#a6cc56"/><stop offset="0.498" stop-color="#c4d643"/><stop offset="0.504" stop-color="#cad840"/><stop offset="0.538" stop-color="#e6e428"/><stop offset="0.586" stop-color="#f4e618"/><stop offset="0.588" stop-color="#f4e618"/><stop offset="0.661" stop-color="#f8de18"/><stop offset="0.759" stop-color="#f6c61e"/><stop offset="0.766" stop-color="#f6c41e"/><stop offset="0.841" stop-color="#f6b026"/><stop offset="0.915" stop-color="#f4a42c"/><stop offset="0.979" stop-color="#f39b2f"/></linearGradient>
<linearGradient id="g203" gradientUnits="userSpaceOnUse" x1="169.0" x2="266.9" y1="0" y2="0"><stop offset="0.021" stop-color="#11adb3"/><stop offset="0.077" stop-color="#12b0a4"/><stop offset="0.110" stop-color="#1db29b"/><stop offset="0.147" stop-color="#2eb48e"/><stop offset="0.212" stop-color="#56bc7c"/><stop offset="0.252" stop-color="#70c16f"/><stop offset="0.297" stop-color="#80c468"/><stop offset="0.419" stop-color="#a6cc56"/><stop offset="0.521" stop-color="#c4d643"/><stop offset="0.527" stop-color="#cad840"/><stop offset="0.560" stop-color="#e6e428"/><stop offset="0.607" stop-color="#f4e618"/><stop offset="0.610" stop-color="#f4e518"/><stop offset="0.680" stop-color="#f8de18"/><stop offset="0.777" stop-color="#f6c61e"/><stop offset="0.784" stop-color="#f6c41e"/><stop offset="0.862" stop-color="#f6b026"/><stop offset="0.939" stop-color="#f4a42c"/><stop offset="0.979" stop-color="#f39f2e"/></linearGradient>
<linearGradient id="g204" gradientUnits="userSpaceOnUse" x1="165.9" x2="265.3" y1="0" y2="0"><stop offset="0.020" stop-color="#10acba"/><stop offset="0.099" stop-color="#12b0a4"/><stop offset="0.129" stop-color="#1db29b"/><stop offset="0.169" stop-color="#2eb48e"/><stop offset="0.233" stop-color="#56bc7c"/><stop offset="0.273" stop-color="#70c170"/><stop offset="0.320" stop-color="#80c468"/><stop offset="0.440" stop-color="#a6cc56"/><stop offset="0.543" stop-color="#c4d643"/><stop offset="0.549" stop-color="#cad840"/><stop offset="0.581" stop-color="#e6e428"/><stop offset="0.627" stop-color="#f4e618"/><stop offset="0.630" stop-color="#f4e518"/><stop offset="0.700" stop-color="#f8de18"/><stop offset="0.795" stop-color="#f6c61e"/><stop offset="0.802" stop-color="#f6c41e"/><stop offset="0.885" stop-color="#f6b026"/><stop offset="0.966" stop-color="#f4a42c"/><stop offset="0.979" stop-color="#f4a22d"/></linearGradient>
<linearGradient id="g205" gradientUnits="userSpaceOnUse" x1="162.8" x2="263.7" y1="0" y2="0"><stop offset="0.020" stop-color="#10acc1"/><stop offset="0.037" stop-color="#10acbc"/><stop offset="0.120" stop-color="#12b0a4"/><stop offset="0.151" stop-color="#1db29b"/><stop offset="0.189" stop-color="#2eb48e"/><stop offset="0.255" stop-color="#56bc7c"/><stop offset="0.295" stop-color="#70c170"/><stop offset="0.341" stop-color="#80c468"/><stop offset="0.463" stop-color="#a6cc56"/><stop offset="0.565" stop-color="#c4d643"/><stop offset="0.571" stop-color="#cad840"/><stop offset="0.603" stop-color="#e6e428"/><stop offset="0.649" stop-color="#f4e618"/><stop offset="0.651" stop-color="#f4e618"/><stop offset="0.720" stop-color="#f8de18"/><stop offset="0.814" stop-color="#f6c61e"/><stop offset="0.822" stop-color="#f6c41e"/><stop offset="0.909" stop-color="#f6b026"/><stop offset="0.980" stop-color="#f4a62b"/></linearGradient>
<linearGradient id="g206" gradientUnits="userSpaceOnUse" x1="159.5" x2="262.1" y1="0" y2="0"><stop offset="0.020" stop-color="#10abc9"/><stop offset="0.060" stop-color="#10acbc"/><stop offset="0.144" stop-color="#12b0a4"/><stop offset="0.174" stop-color="#1db29b"/><stop offset="0.213" stop-color="#2eb48e"/><stop offset="0.277" stop-color="#56bc7c"/><stop offset="0.318" stop-color="#70c170"/><stop offset="0.364" stop-color="#80c468"/><stop offset="0.485" stop-color="#a6cc56"/><stop offset="0.587" stop-color="#c5d643"/><stop offset="0.593" stop-color="#cad840"/><stop offset="0.624" stop-color="#e6e428"/><stop offset="0.670" stop-color="#f4e618"/><stop offset="0.673" stop-color="#f4e518"/><stop offset="0.739" stop-color="#f8de18"/><stop offset="0.832" stop-color="#f6c61e"/><stop offset="0.841" stop-color="#f6c41e"/><stop offset="0.935" stop-color="#f6b026"/><stop offset="0.981" stop-color="#f5aa29"/></linearGradient>
<linearGradient id="g207" gradientUnits="userSpaceOnUse" x1="156.0" x2="260.4" y1="0" y2="0"><stop offset="0.019" stop-color="#10aad0"/><stop offset="0.083" stop-color="#10acbc"/><stop offset="0.168" stop-color="#12b0a4"/><stop offset="0.198" stop-color="#1db29b"/><stop offset="0.237" stop-color="#2eb48e"/><stop offset="0.301" stop-color="#56bc7c"/><stop offset="0.340" stop-color="#70c170"/><stop offset="0.386" stop-color="#80c468"/><stop offset="0.507" stop-color="#a6cc56"/><stop offset="0.609" stop-color="#c5d643"/><stop offset="0.615" stop-color="#cad840"/><stop offset="0.647" stop-color="#e6e428"/><stop offset="0.691" stop-color="#f4e618"/><stop offset="0.694" stop-color="#f4e518"/><stop offset="0.760" stop-color="#f8de18"/><stop offset="0.850" stop-color="#f6c61e"/><stop offset="0.860" stop-color="#f6c41e"/><stop offset="0.966" stop-color="#f6b026"/><stop offset="0.981" stop-color="#f6ae27"/></linearGradient>
<linearGradient id="g208" gradientUnits="userSpaceOnUse" x1="152.4" x2="258.6" y1="0" y2="0"><stop offset="0.019" stop-color="#10aad6"/><stop offset="0.030" stop-color="#10aad4"/><stop offset="0.108" stop-color="#10acbc"/><stop offset="0.192" stop-color="#12b0a4"/><stop offset="0.222" stop-color="#1db29b"/><stop offset="0.261" stop-color="#2eb48e"/><stop offset="0.324" stop-color="#56bc7c"/><stop offset="0.364" stop-color="#70c170"/><stop offset="0.409" stop-color="#80c468"/><stop offset="0.530" stop-color="#a6cc56"/><stop offset="0.632" stop-color="#c5d643"/><stop offset="0.637" stop-color="#cad840"/><stop offset="0.668" stop-color="#e6e428"/><stop offset="0.713" stop-color="#f4e618"/><stop offset="0.715" stop-color="#f4e618"/><stop offset="0.780" stop-color="#f8de18"/><stop offset="0.869" stop-color="#f6c61e"/><stop offset="0.879" stop-color="#f6c41e"/><stop offset="0.981" stop-color="#f6b424"/></linearGradient>
<linearGradient id="g209" gradientUnits="userSpaceOnUse" x1="148.5" x2="256.9" y1="0" y2="0"><stop offset="0.018" stop-color="#10a9d9"/><stop offset="0.053" stop-color="#10aad4"/><stop offset="0.131" stop-color="#10acbc"/><stop offset="0.218" stop-color="#12b0a4"/><stop offset="0.248" stop-color="#1db29b"/><stop offset="0.287" stop-color="#2eb48e"/><stop offset="0.350" stop-color="#56bc7c"/><stop offset="0.390" stop-color="#70c170"/><stop offset="0.435" stop-color="#80c468"/><stop offset="0.554" stop-color="#a6cc56"/><stop offset="0.654" stop-color="#c5d643"/><stop offset="0.660" stop-color="#cad840"/><stop offset="0.690" stop-color="#e6e428"/><stop offset="0.734" stop-color="#f4e618"/><stop offset="0.736" stop-color="#f4e518"/><stop offset="0.799" stop-color="#f8de18"/><stop offset="0.887" stop-color="#f6c61e"/><stop offset="0.898" stop-color="#f6c41e"/><stop offset="0.982" stop-color="#f6b723"/></linearGradient>
<linearGradient id="g210" gradientUnits="userSpaceOnUse" x1="144.5" x2="255.1" y1="0" y2="0"><stop offset="0.018" stop-color="#10a9dd"/><stop offset="0.077" stop-color="#10aad4"/><stop offset="0.156" stop-color="#10acbc"/><stop offset="0.243" stop-color="#12b0a4"/><stop offset="0.274" stop-color="#1db29b"/><stop offset="0.313" stop-color="#2eb48e"/><stop offset="0.377" stop-color="#56bc7c"/><stop offset="0.417" stop-color="#70c170"/><stop offset="0.461" stop-color="#80c468"/><stop offset="0.577" stop-color="#a6cc56"/><stop offset="0.675" stop-color="#c4d643"/><stop offset="0.681" stop-color="#cad840"/><stop offset="0.711" stop-color="#e6e428"/><stop offset="0.754" stop-color="#f4e618"/><stop offset="0.757" stop-color="#f4e518"/><stop offset="0.819" stop-color="#f8de18"/><stop offset="0.905" stop-color="#f6c61e"/><stop offset="0.915" stop-color="#f6c41e"/><stop offset="0.982" stop-color="#f6b922"/></linearGradient>
<linearGradient id="g211" gradientUnits="userSpaceOnUse" x1="140.1" x2="253.2" y1="0" y2="0"><stop offset="0.017" stop-color="#10a8e0"/><stop offset="0.101" stop-color="#10aad4"/><stop offset="0.181" stop-color="#10acbc"/><stop offset="0.269" stop-color="#12b0a4"/><stop offset="0.301" stop-color="#1db29b"/><stop offset="0.340" stop-color="#2eb48e"/><stop offset="0.405" stop-color="#56bc7c"/><stop offset="0.445" stop-color="#70c170"/><stop offset="0.487" stop-color="#80c468"/><stop offset="0.599" stop-color="#a6cc56"/><stop offset="0.694" stop-color="#c4d643"/><stop offset="0.700" stop-color="#cad840"/><stop offset="0.731" stop-color="#e6e428"/><stop offset="0.775" stop-color="#f4e618"/><stop offset="0.778" stop-color="#f4e618"/><stop offset="0.838" stop-color="#f8de18"/><stop offset="0.921" stop-color="#f6c61e"/><stop offset="0.933" stop-color="#f6c41e"/><stop offset="0.982" stop-color="#f6bc21"/></linearGradient>
<linearGradient id="g212" gradientUnits="userSpaceOnUse" x1="135.5" x2="251.3" y1="0" y2="0"><stop offset="0.017" stop-color="#11a6e0"/><stop offset="0.027" stop-color="#10a8e2"/><stop offset="0.126" stop-color="#10aad4"/><stop offset="0.206" stop-color="#10acbc"/><stop offset="0.296" stop-color="#12b0a4"/><stop offset="0.329" stop-color="#1db29b"/><stop offset="0.367" stop-color="#2eb48e"/><stop offset="0.432" stop-color="#56bc7c"/><stop offset="0.472" stop-color="#70c170"/><stop offset="0.514" stop-color="#80c468"/><stop offset="0.622" stop-color="#a6cc56"/><stop offset="0.714" stop-color="#c5d643"/><stop offset="0.719" stop-color="#cad840"/><stop offset="0.751" stop-color="#e6e428"/><stop offset="0.797" stop-color="#f4e618"/><stop offset="0.799" stop-color="#f4e518"/><stop offset="0.857" stop-color="#f8de18"/><stop offset="0.938" stop-color="#f6c61e"/><stop offset="0.950" stop-color="#f6c41e"/><stop offset="0.983" stop-color="#f6bf20"/></linearGradient>
<linearGradient id="g213" gradientUnits="userSpaceOnUse" x1="130.5" x2="249.4" y1="0" y2="0"><stop offset="0.017" stop-color="#13a0dc"/><stop offset="0.051" stop-color="#10a8e2"/><stop offset="0.152" stop-color="#10aad4"/><stop offset="0.235" stop-color="#10acbc"/><stop offset="0.326" stop-color="#12b0a4"/><stop offset="0.360" stop-color="#1db29b"/><stop offset="0.398" stop-color="#2eb48e"/><stop offset="0.461" stop-color="#56bc7c"/><stop offset="0.500" stop-color="#70c170"/><stop offset="0.540" stop-color="#80c468"/><stop offset="0.644" stop-color="#a6cc56"/><stop offset="0.733" stop-color="#c5d643"/><stop offset="0.739" stop-color="#cad840"/><stop offset="0.771" stop-color="#e6e428"/><stop offset="0.818" stop-color="#f4e618"/><stop offset="0.820" stop-color="#f4e518"/><stop offset="0.876" stop-color="#f8de18"/><stop offset="0.955" stop-color="#f6c61e"/><stop offset="0.967" stop-color="#f6c41e"/><stop offset="0.983" stop-color="#f6c21f"/></linearGradient>
<linearGradient id="g214" gradientUnits="userSpaceOnUse" x1="125.0" x2="247.4" y1="0" y2="0"><stop offset="0.016" stop-color="#159ad7"/><stop offset="0.043" stop-color="#159ad7"/><stop offset="0.100" stop-color="#10a8e2"/><stop offset="0.195" stop-color="#10aad4"/><stop offset="0.274" stop-color="#10acbc"/><stop offset="0.361" stop-color="#12b0a4"/><stop offset="0.393" stop-color="#1db29b"/><stop offset="0.430" stop-color="#2eb48e"/><stop offset="0.491" stop-color="#56bc7c"/><stop offset="0.529" stop-color="#70c170"/><stop offset="0.568" stop-color="#80c468"/><stop offset="0.668" stop-color="#a6cc56"/><stop offset="0.753" stop-color="#c5d643"/><stop offset="0.759" stop-color="#cad840"/><stop offset="0.791" stop-color="#e6e428"/><stop offset="0.838" stop-color="#f4e618"/><stop offset="0.840" stop-color="#f4e518"/><stop offset="0.895" stop-color="#f8de18"/><stop offset="0.971" stop-color="#f6c61e"/><stop offset="0.983" stop-color="#f6c41e"/></linearGradient>
<linearGradient id="g215" gradientUnits="userSpaceOnUse" x1="118.9" x2="245.4" y1="0" y2="0"><stop offset="0.016" stop-color="#1d71c2"/><stop offset="0.037" stop-color="#1a7cc8"/><stop offset="0.090" stop-color="#1890d0"/><stop offset="0.110" stop-color="#159ad7"/><stop offset="0.161" stop-color="#10a8e2"/><stop offset="0.248" stop-color="#10aad4"/><stop offset="0.319" stop-color="#10acbc"/><stop offset="0.398" stop-color="#12b0a4"/><stop offset="0.427" stop-color="#1db29b"/><stop offset="0.462" stop-color="#2eb48e"/><stop offset="0.522" stop-color="#56bc7c"/><stop offset="0.559" stop-color="#70c170"/><stop offset="0.595" stop-color="#80c468"/><stop offset="0.692" stop-color="#a6cc56"/><stop offset="0.773" stop-color="#c5d643"/><stop offset="0.779" stop-color="#cad840"/><stop offset="0.812" stop-color="#e6e428"/><stop offset="0.858" stop-color="#f4e618"/><stop offset="0.861" stop-color="#f4e518"/><stop offset="0.917" stop-color="#f8de18"/><stop offset="0.984" stop-color="#f6c91d"/></linearGradient>
<linearGradient id="g216" gradientUnits="userSpaceOnUse" x1="112.0" x2="243.4" y1="0" y2="0"><stop offset="0.015" stop-color="#2a4aaa"/><stop offset="0.026" stop-color="#2a4cac"/><stop offset="0.070" stop-color="#2260b8"/><stop offset="0.115" stop-color="#1a7cc8"/><stop offset="0.161" stop-color="#1890d0"/><stop offset="0.179" stop-color="#159ad7"/><stop offset="0.224" stop-color="#10a8e2"/><stop offset="0.302" stop-color="#10aad4"/><stop offset="0.365" stop-color="#10acbc"/><stop offset="0.436" stop-color="#12b0a4"/><stop offset="0.462" stop-color="#1db29b"/><stop offset="0.496" stop-color="#2eb48e"/><stop offset="0.553" stop-color="#56bc7c"/><stop offset="0.589" stop-color="#70c170"/><stop offset="0.624" stop-color="#80c468"/><stop offset="0.715" stop-color="#a6cc56"/><stop offset="0.793" stop-color="#c4d643"/><stop offset="0.799" stop-color="#cad840"/><stop offset="0.831" stop-color="#e6e428"/><stop offset="0.878" stop-color="#f4e618"/><stop offset="0.881" stop-color="#f4e518"/><stop offset="0.939" stop-color="#f8de18"/><stop offset="0.985" stop-color="#f7d01b"/></linearGradient>
<linearGradient id="g217" gradientUnits="userSpaceOnUse" x1="109.4" x2="241.3" y1="0" y2="0"><stop offset="0.015" stop-color="#2b45a5"/><stop offset="0.032" stop-color="#2b49a9"/><stop offset="0.048" stop-color="#2a4cac"/><stop offset="0.095" stop-color="#2260b8"/><stop offset="0.145" stop-color="#1a7cc8"/><stop offset="0.194" stop-color="#1890d0"/><stop offset="0.213" stop-color="#1599d7"/><stop offset="0.255" stop-color="#10a8e2"/><stop offset="0.328" stop-color="#10aad4"/><stop offset="0.388" stop-color="#10acbc"/><stop offset="0.454" stop-color="#12b0a4"/><stop offset="0.478" stop-color="#1db29b"/><stop offset="0.513" stop-color="#2eb48e"/><stop offset="0.570" stop-color="#56bc7c"/><stop offset="0.605" stop-color="#70c170"/><stop offset="0.639" stop-color="#80c468"/><stop offset="0.731" stop-color="#a6cc56"/><stop offset="0.808" stop-color="#c4d643"/><stop offset="0.814" stop-color="#cad840"/><stop offset="0.847" stop-color="#e6e428"/><stop offset="0.893" stop-color="#f4e618"/><stop offset="0.896" stop-color="#f4e518"/><stop offset="0.960" stop-color="#f8de18"/><stop offset="0.985" stop-color="#f7d71a"/></linearGradient>
<linearGradient id="g218" gradientUnits="userSpaceOnUse" x1="109.9" x2="239.1" y1="0" y2="0"><stop offset="0.015" stop-color="#2c44a4"/><stop offset="0.034" stop-color="#2b49a9"/><stop offset="0.049" stop-color="#2a4cac"/><stop offset="0.098" stop-color="#2260b8"/><stop offset="0.148" stop-color="#1a7cc8"/><stop offset="0.198" stop-color="#1890d0"/><stop offset="0.217" stop-color="#159ad7"/><stop offset="0.260" stop-color="#10a8e2"/><stop offset="0.333" stop-color="#10aad4"/><stop offset="0.392" stop-color="#10acbc"/><stop offset="0.459" stop-color="#12b0a4"/><stop offset="0.483" stop-color="#1db29b"/><stop offset="0.518" stop-color="#2eb48e"/><stop offset="0.576" stop-color="#56bc7c"/><stop offset="0.612" stop-color="#70c170"/><stop offset="0.648" stop-color="#80c468"/><stop offset="0.742" stop-color="#a6cc56"/><stop offset="0.821" stop-color="#c4d643"/><stop offset="0.827" stop-color="#cad840"/><stop offset="0.861" stop-color="#e6e428"/><stop offset="0.907" stop-color="#f4e618"/><stop offset="0.910" stop-color="#f4e518"/><stop offset="0.984" stop-color="#f8de18"/></linearGradient>
<linearGradient id="g219" gradientUnits="userSpaceOnUse" x1="110.4" x2="236.9" y1="0" y2="0"><stop offset="0.016" stop-color="#2c44a4"/><stop offset="0.035" stop-color="#2b49a9"/><stop offset="0.051" stop-color="#2a4cac"/><stop offset="0.100" stop-color="#2260b8"/><stop offset="0.151" stop-color="#1a7cc8"/><stop offset="0.202" stop-color="#1890d0"/><stop offset="0.221" stop-color="#1599d7"/><stop offset="0.264" stop-color="#10a8e2"/><stop offset="0.337" stop-color="#10aad4"/><stop offset="0.397" stop-color="#10acbc"/><stop offset="0.464" stop-color="#12b0a4"/><stop offset="0.488" stop-color="#1db29b"/><stop offset="0.523" stop-color="#2eb48e"/><stop offset="0.582" stop-color="#56bc7c"/><stop offset="0.619" stop-color="#70c170"/><stop offset="0.655" stop-color="#80c468"/><stop offset="0.753" stop-color="#a6cc56"/><stop offset="0.836" stop-color="#c4d643"/><stop offset="0.842" stop-color="#cad840"/><stop offset="0.875" stop-color="#e6e428"/><stop offset="0.922" stop-color="#f4e618"/><stop offset="0.925" stop-color="#f4e518"/><stop offset="0.984" stop-color="#f6e118"/></linearGradient>
<linearGradient id="g220" gradientUnits="userSpaceOnUse" x1="110.9" x2="234.6" y1="0" y2="0"><stop offset="0.016" stop-color="#2c43a3"/><stop offset="0.039" stop-color="#2b49a9"/><stop offset="0.054" stop-color="#2a4cac"/><stop offset="0.104" stop-color="#2260b8"/><stop offset="0.155" stop-color="#1a7cc8"/><stop offset="0.207" stop-color="#1890d0"/><stop offset="0.226" stop-color="#159ad7"/><stop offset="0.269" stop-color="#10a8e2"/><stop offset="0.342" stop-color="#10aad4"/><stop offset="0.402" stop-color="#10acbc"/><stop offset="0.469" stop-color="#12b0a4"/><stop offset="0.493" stop-color="#1db29b"/><stop offset="0.528" stop-color="#2eb48e"/><stop offset="0.588" stop-color="#56bc7c"/><stop offset="0.625" stop-color="#70c170"/><stop offset="0.664" stop-color="#80c468"/><stop offset="0.765" stop-color="#a6cc56"/><stop offset="0.851" stop-color="#c4d643"/><stop offset="0.857" stop-color="#cad840"/><stop offset="0.891" stop-color="#e6e428"/><stop offset="0.937" stop-color="#f4e618"/><stop offset="0.941" stop-color="#f4e518"/><stop offset="0.983" stop-color="#f5e418"/></linearGradient>
<linearGradient id="g221" gradientUnits="userSpaceOnUse" x1="111.4" x2="232.3" y1="0" y2="0"><stop offset="0.016" stop-color="#2c43a3"/><stop offset="0.043" stop-color="#2b49a9"/><stop offset="0.058" stop-color="#2a4cac"/><stop offset="0.109" stop-color="#2260b8"/><stop offset="0.159" stop-color="#1a7cc8"/><stop offset="0.211" stop-color="#1890d0"/><stop offset="0.231" stop-color="#159ad7"/><stop offset="0.273" stop-color="#10a8e2"/><stop offset="0.347" stop-color="#10aad4"/><stop offset="0.407" stop-color="#10acbc"/><stop offset="0.474" stop-color="#12b0a4"/><stop offset="0.498" stop-color="#1db29b"/><stop offset="0.535" stop-color="#2eb48e"/><stop offset="0.595" stop-color="#56bc7c"/><stop offset="0.633" stop-color="#70c170"/><stop offset="0.673" stop-color="#80c468"/><stop offset="0.779" stop-color="#a6cc56"/><stop offset="0.867" stop-color="#c4d643"/><stop offset="0.874" stop-color="#cad840"/><stop offset="0.907" stop-color="#e6e428"/><stop offset="0.954" stop-color="#f4e618"/><stop offset="0.957" stop-color="#f4e618"/><stop offset="0.966" stop-color="#f4e618"/><stop offset="0.983" stop-color="#f2e61a"/></linearGradient>
<linearGradient id="g222" gradientUnits="userSpaceOnUse" x1="111.9" x2="230.0" y1="0" y2="0"><stop offset="0.017" stop-color="#2c42a2"/><stop offset="0.048" stop-color="#2b49a9"/><stop offset="0.063" stop-color="#2a4cac"/><stop offset="0.113" stop-color="#2260b8"/><stop offset="0.165" stop-color="#1a7cc8"/><stop offset="0.217" stop-color="#1890d0"/><stop offset="0.236" stop-color="#1599d7"/><stop offset="0.278" stop-color="#10a8e2"/><stop offset="0.351" stop-color="#10aad4"/><stop offset="0.411" stop-color="#10acbc"/><stop offset="0.476" stop-color="#12b0a4"/><stop offset="0.500" stop-color="#1db29b"/><stop offset="0.539" stop-color="#2eb48e"/><stop offset="0.602" stop-color="#56bc7c"/><stop offset="0.642" stop-color="#70c170"/><stop offset="0.683" stop-color="#80c468"/><stop offset="0.793" stop-color="#a6cc56"/><stop offset="0.885" stop-color="#c4d643"/><stop offset="0.891" stop-color="#cad840"/><stop offset="0.925" stop-color="#e6e428"/><stop offset="0.972" stop-color="#f4e618"/><stop offset="0.975" stop-color="#f4e618"/><stop offset="0.976" stop-color="#f4e618"/><stop offset="0.983" stop-color="#eee51f"/></linearGradient>
<linearGradient id="g223" gradientUnits="userSpaceOnUse" x1="112.5" x2="227.5" y1="0" y2="0"><stop offset="0.018" stop-color="#2c42a1"/><stop offset="0.020" stop-color="#2c42a2"/><stop offset="0.053" stop-color="#2b49a9"/><stop offset="0.069" stop-color="#2a4cac"/><stop offset="0.119" stop-color="#2260b8"/><stop offset="0.170" stop-color="#1a7cc8"/><stop offset="0.222" stop-color="#1890d0"/><stop offset="0.242" stop-color="#159ad7"/><stop offset="0.284" stop-color="#10a8e2"/><stop offset="0.355" stop-color="#10aad4"/><stop offset="0.413" stop-color="#10acbc"/><stop offset="0.478" stop-color="#12b0a4"/><stop offset="0.502" stop-color="#1db29b"/><stop offset="0.542" stop-color="#2eb48e"/><stop offset="0.609" stop-color="#56bc7c"/><stop offset="0.650" stop-color="#70c170"/><stop offset="0.694" stop-color="#80c468"/><stop offset="0.808" stop-color="#a6cc56"/><stop offset="0.903" stop-color="#c4d644"/><stop offset="0.914" stop-color="#cad840"/><stop offset="0.968" stop-color="#e6e428"/><stop offset="0.982" stop-color="#e9e425"/></linearGradient>
<linearGradient id="g224" gradientUnits="userSpaceOnUse" x1="113.0" x2="225.0" y1="0" y2="0"><stop offset="0.018" stop-color="#2c42a1"/><stop offset="0.021" stop-color="#2c42a2"/><stop offset="0.054" stop-color="#2b49a9"/><stop offset="0.070" stop-color="#2a4cac"/><stop offset="0.122" stop-color="#2260b8"/><stop offset="0.174" stop-color="#1a7cc8"/><stop offset="0.228" stop-color="#1890d0"/><stop offset="0.247" stop-color="#1599d7"/><stop offset="0.289" stop-color="#10a8e2"/><stop offset="0.359" stop-color="#10aad4"/><stop offset="0.417" stop-color="#10acbc"/><stop offset="0.481" stop-color="#12b0a4"/><stop offset="0.504" stop-color="#1db29b"/><stop offset="0.546" stop-color="#2eb48e"/><stop offset="0.617" stop-color="#56bc7c"/><stop offset="0.661" stop-color="#70c170"/><stop offset="0.705" stop-color="#80c468"/><stop offset="0.824" stop-color="#a6cc56"/><stop offset="0.924" stop-color="#c4d643"/><stop offset="0.935" stop-color="#cad840"/><stop offset="0.982" stop-color="#e0e12d"/></linearGradient>
<linearGradient id="g225" gradientUnits="userSpaceOnUse" x1="113.5" x2="222.5" y1="0" y2="0"><stop offset="0.019" stop-color="#2c42a1"/><stop offset="0.021" stop-color="#2c42a2"/><stop offset="0.054" stop-color="#2b49a9"/><stop offset="0.072" stop-color="#2a4cac"/><stop offset="0.124" stop-color="#2260b8"/><stop offset="0.177" stop-color="#1a7cc8"/><stop offset="0.232" stop-color="#1890d0"/><stop offset="0.253" stop-color="#1599d7"/><stop offset="0.294" stop-color="#10a8e2"/><stop offset="0.364" stop-color="#10aad4"/><stop offset="0.420" stop-color="#10acbc"/><stop offset="0.485" stop-color="#12b0a4"/><stop offset="0.508" stop-color="#1db29b"/><stop offset="0.552" stop-color="#2eb48e"/><stop offset="0.626" stop-color="#56bc7c"/><stop offset="0.672" stop-color="#70c170"/><stop offset="0.718" stop-color="#80c468"/><stop offset="0.841" stop-color="#a6cc56"/><stop offset="0.945" stop-color="#c4d643"/><stop offset="0.960" stop-color="#cad840"/><stop offset="0.982" stop-color="#d2dc39"/></linearGradient>
<linearGradient id="g226" gradientUnits="userSpaceOnUse" x1="114.0" x2="219.9" y1="0" y2="0"><stop offset="0.019" stop-color="#2c41a1"/><stop offset="0.022" stop-color="#2c42a2"/><stop offset="0.056" stop-color="#2b49a9"/><stop offset="0.073" stop-color="#2a4cac"/><stop offset="0.127" stop-color="#2260b8"/><stop offset="0.181" stop-color="#1a7cc8"/><stop offset="0.236" stop-color="#1890d0"/><stop offset="0.257" stop-color="#1599d7"/><stop offset="0.298" stop-color="#10a8e2"/><stop offset="0.368" stop-color="#10aad4"/><stop offset="0.424" stop-color="#10acbc"/><stop offset="0.488" stop-color="#12b0a4"/><stop offset="0.510" stop-color="#1db29b"/><stop offset="0.557" stop-color="#2eb48e"/><stop offset="0.635" stop-color="#56bc7c"/><stop offset="0.683" stop-color="#70c170"/><stop offset="0.732" stop-color="#80c468"/><stop offset="0.861" stop-color="#a6cc56"/><stop offset="0.969" stop-color="#c4d643"/><stop offset="0.981" stop-color="#c4d643"/></linearGradient>
<linearGradient id="g227" gradientUnits="userSpaceOnUse" x1="114.5" x2="217.2" y1="0" y2="0"><stop offset="0.020" stop-color="#2c41a1"/><stop offset="0.023" stop-color="#2c42a2"/><stop offset="0.057" stop-color="#2b49a9"/><stop offset="0.074" stop-color="#2a4cac"/><stop offset="0.129" stop-color="#2260b8"/><stop offset="0.184" stop-color="#1a7cc8"/><stop offset="0.241" stop-color="#1890d0"/><stop offset="0.262" stop-color="#1599d7"/><stop offset="0.303" stop-color="#10a8e2"/><stop offset="0.372" stop-color="#10aad4"/><stop offset="0.429" stop-color="#10acbc"/><stop offset="0.492" stop-color="#12b0a4"/><stop offset="0.514" stop-color="#1db29b"/><stop offset="0.563" stop-color="#2eb48e"/><stop offset="0.646" stop-color="#56bc7c"/><stop offset="0.696" stop-color="#70c170"/><stop offset="0.752" stop-color="#80c468"/><stop offset="0.899" stop-color="#a6cc56"/><stop offset="0.981" stop-color="#bad34a"/></linearGradient>
<linearGradient id="g228" gradientUnits="userSpaceOnUse" x1="115.0" x2="214.4" y1="0" y2="0"><stop offset="0.020" stop-color="#2c41a1"/><stop offset="0.023" stop-color="#2c42a2"/><stop offset="0.059" stop-color="#2b49a9"/><stop offset="0.077" stop-color="#2a4cac"/><stop offset="0.132" stop-color="#2260b8"/><stop offset="0.188" stop-color="#1a7cc8"/><stop offset="0.246" stop-color="#1890d0"/><stop offset="0.268" stop-color="#1599d7"/><stop offset="0.308" stop-color="#10a8e2"/><stop offset="0.375" stop-color="#10aad4"/><stop offset="0.431" stop-color="#10acbc"/><stop offset="0.492" stop-color="#12b0a4"/><stop offset="0.514" stop-color="#1db29b"/><stop offset="0.566" stop-color="#2eb48e"/><stop offset="0.654" stop-color="#56bc7c"/><stop offset="0.708" stop-color="#70c170"/><stop offset="0.771" stop-color="#80c468"/><stop offset="0.935" stop-color="#a6cc56"/><stop offset="0.980" stop-color="#b0cf50"/></linearGradient>
<linearGradient id="g229" gradientUnits="userSpaceOnUse" x1="115.5" x2="211.5" y1="0" y2="0"><stop offset="0.021" stop-color="#2c41a1"/><stop offset="0.024" stop-color="#2c42a2"/><stop offset="0.057" stop-color="#2b49a9"/><stop offset="0.075" stop-color="#2a4cac"/><stop offset="0.133" stop-color="#2260b8"/><stop offset="0.192" stop-color="#1a7cc8"/><stop offset="0.251" stop-color="#1890d0"/><stop offset="0.274" stop-color="#1599d7"/><stop offset="0.312" stop-color="#10a8e2"/><stop offset="0.379" stop-color="#10aad4"/><stop offset="0.433" stop-color="#10acbc"/><stop offset="0.494" stop-color="#12b0a4"/><stop offset="0.514" stop-color="#1db29b"/><stop offset="0.571" stop-color="#2eb48e"/><stop offset="0.663" stop-color="#56bc7c"/><stop offset="0.722" stop-color="#70c170"/><stop offset="0.792" stop-color="#80c468"/><stop offset="0.979" stop-color="#a5cc56"/></linearGradient>
<linearGradient id="g230" gradientUnits="userSpaceOnUse" x1="116.0" x2="208.6" y1="0" y2="0"><stop offset="0.022" stop-color="#2c41a1"/><stop offset="0.024" stop-color="#2c42a2"/><stop offset="0.056" stop-color="#2b49a9"/><stop offset="0.075" stop-color="#2a4cac"/><stop offset="0.135" stop-color="#2260b8"/><stop offset="0.195" stop-color="#1a7cc8"/><stop offset="0.257" stop-color="#1890d0"/><stop offset="0.281" stop-color="#1599d7"/><stop offset="0.319" stop-color="#10a8e2"/><stop offset="0.383" stop-color="#10aad4"/><stop offset="0.436" stop-color="#10acbc"/><stop offset="0.495" stop-color="#12b0a4"/><stop offset="0.516" stop-color="#1db29b"/><stop offset="0.576" stop-color="#2eb48e"/><stop offset="0.674" stop-color="#56bc7c"/><stop offset="0.735" stop-color="#70c170"/><stop offset="0.821" stop-color="#80c468"/><stop offset="0.978" stop-color="#9bca5b"/></linearGradient>
<linearGradient id="g231" gradientUnits="userSpaceOnUse" x1="116.5" x2="205.6" y1="0" y2="0"><stop offset="0.022" stop-color="#2c41a1"/><stop offset="0.025" stop-color="#2c42a2"/><stop offset="0.054" stop-color="#2b49a9"/><stop offset="0.074" stop-color="#2a4cac"/><stop offset="0.136" stop-color="#2260b8"/><stop offset="0.200" stop-color="#1a7cc8"/><stop offset="0.264" stop-color="#1890d0"/><stop offset="0.289" stop-color="#1599d7"/><stop offset="0.326" stop-color="#10a8e2"/><stop offset="0.388" stop-color="#10aad4"/><stop offset="0.440" stop-color="#10acbc"/><stop offset="0.497" stop-color="#12b0a4"/><stop offset="0.518" stop-color="#1db29b"/><stop offset="0.580" stop-color="#2eb48e"/><stop offset="0.686" stop-color="#56bc7c"/><stop offset="0.752" stop-color="#70c170"/><stop offset="0.860" stop-color="#80c468"/><stop offset="0.978" stop-color="#90c761"/></linearGradient>
<linearGradient id="g232" gradientUnits="userSpaceOnUse" x1="117.0" x2="202.5" y1="0" y2="0"><stop offset="0.023" stop-color="#2c41a1"/><stop offset="0.026" stop-color="#2c42a2"/><stop offset="0.053" stop-color="#2b49a9"/><stop offset="0.074" stop-color="#2a4cac"/><stop offset="0.139" stop-color="#2260b8"/><stop offset="0.206" stop-color="#1a7cc8"/><stop offset="0.274" stop-color="#1890d0"/><stop offset="0.300" stop-color="#1599d7"/><stop offset="0.336" stop-color="#10a8e2"/><stop offset="0.395" stop-color="#10aad4"/><stop offset="0.446" stop-color="#10acbc"/><stop offset="0.501" stop-color="#12b0a4"/><stop offset="0.521" stop-color="#1db29b"/><stop offset="0.589" stop-color="#2eb48e"/><stop offset="0.701" stop-color="#56bc7c"/><stop offset="0.771" stop-color="#70c170"/><stop offset="0.923" stop-color="#80c468"/><stop offset="0.977" stop-color="#85c566"/></linearGradient>
<linearGradient id="g233" gradientUnits="userSpaceOnUse" x1="117.5" x2="199.2" y1="0" y2="0"><stop offset="0.024" stop-color="#2c41a1"/><stop offset="0.027" stop-color="#2c42a2"/><stop offset="0.051" stop-color="#2b49a9"/><stop offset="0.073" stop-color="#2a4cac"/><stop offset="0.143" stop-color="#2260b8"/><stop offset="0.214" stop-color="#1a7cc8"/><stop offset="0.286" stop-color="#1890d0"/><stop offset="0.313" stop-color="#1599d7"/><stop offset="0.347" stop-color="#10a8e2"/><stop offset="0.406" stop-color="#10aad4"/><stop offset="0.454" stop-color="#10acbc"/><stop offset="0.506" stop-color="#12b0a4"/><stop offset="0.526" stop-color="#1db29b"/><stop offset="0.598" stop-color="#2eb48e"/><stop offset="0.718" stop-color="#56bc7c"/><stop offset="0.792" stop-color="#70c170"/><stop offset="0.975" stop-color="#79c36b"/></linearGradient>
<linearGradient id="g234" gradientUnits="userSpaceOnUse" x1="118.0" x2="195.9" y1="0" y2="0"><stop offset="0.025" stop-color="#2c42a1"/><stop offset="0.027" stop-color="#2c42a2"/><stop offset="0.051" stop-color="#2b49a9"/><stop offset="0.074" stop-color="#2a4cac"/><stop offset="0.147" stop-color="#2260b8"/><stop offset="0.223" stop-color="#1a7cc8"/><stop offset="0.300" stop-color="#1890d0"/><stop offset="0.329" stop-color="#1599d7"/><stop offset="0.362" stop-color="#10a8e2"/><stop offset="0.417" stop-color="#10aad4"/><stop offset="0.463" stop-color="#10acbc"/><stop offset="0.513" stop-color="#12b0a4"/><stop offset="0.531" stop-color="#1db29c"/><stop offset="0.608" stop-color="#2eb48e"/><stop offset="0.737" stop-color="#56bc7c"/><stop offset="0.817" stop-color="#70c170"/><stop offset="0.975" stop-color="#6ec170"/></linearGradient>
<linearGradient id="g235" gradientUnits="userSpaceOnUse" x1="118.5" x2="192.4" y1="0" y2="0"><stop offset="0.027" stop-color="#2c42a2"/><stop offset="0.028" stop-color="#2c42a2"/><stop offset="0.050" stop-color="#2b49a9"/><stop offset="0.074" stop-color="#2a4cac"/><stop offset="0.154" stop-color="#2260b8"/><stop offset="0.234" stop-color="#1a7cc8"/><stop offset="0.315" stop-color="#1890d0"/><stop offset="0.346" stop-color="#1599d7"/><stop offset="0.377" stop-color="#10a8e2"/><stop offset="0.430" stop-color="#10aad4"/><stop offset="0.475" stop-color="#10acbc"/><stop offset="0.522" stop-color="#12b0a4"/><stop offset="0.540" stop-color="#1db29b"/><stop offset="0.622" stop-color="#2eb48e"/><stop offset="0.760" stop-color="#56bc7c"/><stop offset="0.845" stop-color="#70c170"/><stop offset="0.973" stop-color="#63be76"/></linearGradient>
<linearGradient id="g236" gradientUnits="userSpaceOnUse" x1="119.0" x2="188.8" y1="0" y2="0"><stop offset="0.028" stop-color="#2c42a2"/><stop offset="0.030" stop-color="#2c42a2"/><stop offset="0.048" stop-color="#2b49a9"/><stop offset="0.075" stop-color="#2a4cac"/><stop offset="0.160" stop-color="#2260b8"/><stop offset="0.246" stop-color="#1a7cc8"/><stop offset="0.333" stop-color="#1890d0"/><stop offset="0.366" stop-color="#1599d7"/><stop offset="0.396" stop-color="#10a8e2"/><stop offset="0.447" stop-color="#10aad4"/><stop offset="0.488" stop-color="#10acbc"/><stop offset="0.534" stop-color="#12b0a4"/><stop offset="0.550" stop-color="#1db29b"/><stop offset="0.638" stop-color="#2eb48e"/><stop offset="0.787" stop-color="#56bc7c"/><stop offset="0.881" stop-color="#70c170"/><stop offset="0.971" stop-color="#58bc7b"/></linearGradient>
<linearGradient id="g237" gradientUnits="userSpaceOnUse" x1="119.5" x2="185.1" y1="0" y2="0"><stop offset="0.030" stop-color="#2c42a2"/><stop offset="0.047" stop-color="#2b49a9"/><stop offset="0.076" stop-color="#2a4cac"/><stop offset="0.167" stop-color="#2260b8"/><stop offset="0.260" stop-color="#1a7cc8"/><stop offset="0.353" stop-color="#1890d0"/><stop offset="0.390" stop-color="#1599d7"/><stop offset="0.419" stop-color="#10a8e2"/><stop offset="0.468" stop-color="#10aad4"/><stop offset="0.507" stop-color="#10acbc"/><stop offset="0.553" stop-color="#13b0a4"/><stop offset="0.568" stop-color="#1db29b"/><stop offset="0.664" stop-color="#2eb48e"/><stop offset="0.823" stop-color="#56bc7c"/><stop offset="0.922" stop-color="#70c170"/><stop offset="0.957" stop-color="#56bc7c"/><stop offset="0.969" stop-color="#4dba80"/></linearGradient>
<linearGradient id="g238" gradientUnits="userSpaceOnUse" x1="120.0" x2="181.2" y1="0" y2="0"><stop offset="0.032" stop-color="#2c42a2"/><stop offset="0.047" stop-color="#2b49a9"/><stop offset="0.078" stop-color="#2a4cac"/><stop offset="0.176" stop-color="#2260b8"/><stop offset="0.277" stop-color="#1a7cc8"/><stop offset="0.379" stop-color="#1890d0"/><stop offset="0.418" stop-color="#159ad7"/><stop offset="0.447" stop-color="#10a8e2"/><stop offset="0.496" stop-color="#10aad4"/><stop offset="0.537" stop-color="#10acbc"/><stop offset="0.581" stop-color="#12b0a4"/><stop offset="0.598" stop-color="#1db29b"/><stop offset="0.797" stop-color="#2eb48e"/><stop offset="0.967" stop-color="#42b885"/></linearGradient>
<linearGradient id="g239" gradientUnits="userSpaceOnUse" x1="120.5" x2="177.2" y1="0" y2="0"><stop offset="0.034" stop-color="#2c42a2"/><stop offset="0.047" stop-color="#2b49a9"/><stop offset="0.080" stop-color="#2a4cac"/><stop offset="0.188" stop-color="#2260b8"/><stop offset="0.298" stop-color="#1a7cc8"/><stop offset="0.407" stop-color="#1890d0"/><stop offset="0.450" stop-color="#1599d7"/><stop offset="0.480" stop-color="#10a8e2"/><stop offset="0.531" stop-color="#10aad4"/><stop offset="0.572" stop-color="#10acbc"/><stop offset="0.617" stop-color="#12b0a4"/><stop offset="0.633" stop-color="#1db29b"/><stop offset="0.854" stop-color="#2eb48e"/><stop offset="0.966" stop-color="#3ab689"/></linearGradient>
<linearGradient id="g240" gradientUnits="userSpaceOnUse" x1="121.1" x2="172.9" y1="0" y2="0"><stop offset="0.039" stop-color="#2c43a3"/><stop offset="0.047" stop-color="#2b49a9"/><stop offset="0.086" stop-color="#2a4cac"/><stop offset="0.201" stop-color="#2260b8"/><stop offset="0.321" stop-color="#1a7cc8"/><stop offset="0.444" stop-color="#1890d0"/><stop offset="0.491" stop-color="#159ad7"/><stop offset="0.520" stop-color="#10a8e2"/><stop offset="0.572" stop-color="#10aad4"/><stop offset="0.614" stop-color="#10acbc"/><stop offset="0.661" stop-color="#12b0a4"/><stop offset="0.678" stop-color="#1db29b"/><stop offset="0.925" stop-color="#2eb48e"/><stop offset="0.961" stop-color="#32b58c"/></linearGradient>
<linearGradient id="g241" gradientUnits="userSpaceOnUse" x1="121.6" x2="168.4" y1="0" y2="0"><stop offset="0.043" stop-color="#2c43a3"/><stop offset="0.048" stop-color="#2b48a8"/><stop offset="0.090" stop-color="#2a4cac"/><stop offset="0.221" stop-color="#2260b8"/><stop offset="0.353" stop-color="#1a7cc8"/><stop offset="0.489" stop-color="#1890d0"/><stop offset="0.541" stop-color="#1599d7"/><stop offset="0.573" stop-color="#10a8e2"/><stop offset="0.626" stop-color="#10aad4"/><stop offset="0.669" stop-color="#10acbc"/><stop offset="0.718" stop-color="#12b0a4"/><stop offset="0.735" stop-color="#1db29c"/><stop offset="0.957" stop-color="#2ab391"/></linearGradient>
<linearGradient id="g242" gradientUnits="userSpaceOnUse" x1="122.1" x2="163.7" y1="0" y2="0"><stop offset="0.049" stop-color="#2b45a5"/><stop offset="0.051" stop-color="#2b49a9"/><stop offset="0.097" stop-color="#2a4cac"/><stop offset="0.246" stop-color="#2260b8"/><stop offset="0.395" stop-color="#1a7cc8"/><stop offset="0.548" stop-color="#1890d0"/><stop offset="0.606" stop-color="#1599d7"/><stop offset="0.639" stop-color="#10a8e2"/><stop offset="0.695" stop-color="#10aad4"/><stop offset="0.743" stop-color="#10acbb"/><stop offset="0.793" stop-color="#12b0a4"/><stop offset="0.810" stop-color="#1db29c"/><stop offset="0.952" stop-color="#25b395"/></linearGradient>
<linearGradient id="g243" gradientUnits="userSpaceOnUse" x1="122.6" x2="158.7" y1="0" y2="0"><stop offset="0.056" stop-color="#2c43a3"/><stop offset="0.194" stop-color="#2a4cac"/><stop offset="0.341" stop-color="#2260b8"/><stop offset="0.488" stop-color="#1a7cc8"/><stop offset="0.640" stop-color="#1890d0"/><stop offset="0.698" stop-color="#159ad7"/><stop offset="0.731" stop-color="#10a8e2"/><stop offset="0.792" stop-color="#10aad4"/><stop offset="0.842" stop-color="#10acbc"/><stop offset="0.894" stop-color="#12b0a4"/><stop offset="0.914" stop-color="#1cb19c"/><stop offset="0.944" stop-color="#1fb29a"/></linearGradient>
<linearGradient id="g244" gradientUnits="userSpaceOnUse" x1="123.1" x2="153.4" y1="0" y2="0"><stop offset="0.067" stop-color="#2c43a3"/><stop offset="0.228" stop-color="#2a4cac"/><stop offset="0.400" stop-color="#2260b8"/><stop offset="0.575" stop-color="#1a7cc8"/><stop offset="0.756" stop-color="#1890d0"/><stop offset="0.822" stop-color="#1599d7"/><stop offset="0.865" stop-color="#10a8e2"/><stop offset="0.934" stop-color="#10aad4"/></linearGradient>
<linearGradient id="g245" gradientUnits="userSpaceOnUse" x1="123.6" x2="147.7" y1="0" y2="0"><stop offset="0.084" stop-color="#2c43a3"/><stop offset="0.262" stop-color="#2a4cac"/><stop offset="0.453" stop-color="#2260b8"/><stop offset="0.653" stop-color="#1a7cc8"/><stop offset="0.852" stop-color="#1890d0"/><stop offset="0.919" stop-color="#1598d6"/></linearGradient>
<linearGradient id="g246" gradientUnits="userSpaceOnUse" x1="124.1" x2="141.4" y1="0" y2="0"><stop offset="0.116" stop-color="#2c43a3"/><stop offset="0.300" stop-color="#2a4cac"/><stop offset="0.502" stop-color="#2260b8"/><stop offset="0.709" stop-color="#1a7cc8"/><stop offset="0.882" stop-color="#188ccf"/></linearGradient>
<linearGradient id="g247" gradientUnits="userSpaceOnUse" x1="124.6" x2="134.6" y1="0" y2="0"><stop offset="0.200" stop-color="#2c43a3"/><stop offset="0.350" stop-color="#2a4cac"/><stop offset="0.520" stop-color="#2260b8"/><stop offset="0.690" stop-color="#1a7cc8"/><stop offset="0.799" stop-color="#1989cd"/></linearGradient>
<linearGradient id="g248" gradientUnits="userSpaceOnUse" x1="124.9" x2="130.1" y1="0" y2="0"><stop offset="0.381" stop-color="#2c43a3"/><stop offset="0.438" stop-color="#2a4bab"/><stop offset="0.514" stop-color="#2262b9"/><stop offset="0.571" stop-color="#1b78c6"/><stop offset="0.610" stop-color="#1984cb"/></linearGradient>
</defs>
<rect x="0.6" y="180.9" width="13.8" height="195.8" fill="url(#cbar)" stroke="#222" stroke-width="1.2"/>
<path d="M14.4 251.3H19.9" stroke="#333" stroke-width="1.1"/>
<path d="M64.3 0V523" stroke="#777" stroke-width="1.2"/>
<g clip-path="url(#ann)" shape-rendering="crispEdges"><rect x="124.9" y="13" width="5.2" height="2" fill="url(#g0)"/>
<rect x="124.5" y="15" width="11.5" height="2" fill="url(#g1)"/>
<rect x="124.0" y="17" width="18.7" height="2" fill="url(#g2)"/>
<rect x="123.5" y="19" width="25.4" height="2" fill="url(#g3)"/>
<rect x="123.0" y="21" width="31.5" height="2" fill="url(#g4)"/>
<rect x="122.5" y="23" width="37.3" height="2" fill="url(#g5)"/>
<rect x="122.0" y="25" width="42.7" height="2" fill="url(#g6)"/>
<rect x="121.5" y="27" width="47.9" height="2" fill="url(#g7)"/>
<rect x="121.0" y="29" width="52.8" height="2" fill="url(#g8)"/>
<rect x="120.4" y="31" width="57.5" height="2" fill="url(#g9)"/>
<rect x="119.9" y="33" width="62.1" height="2" fill="url(#g10)"/>
<rect x="119.4" y="35" width="66.4" height="2" fill="url(#g11)"/>
<rect x="118.9" y="37" width="70.6" height="2" fill="url(#g12)"/>
<rect x="118.4" y="39" width="74.7" height="2" fill="url(#g13)"/>
<rect x="117.9" y="41" width="78.6" height="2" fill="url(#g14)"/>
<rect x="117.4" y="43" width="82.5" height="2" fill="url(#g15)"/>
<rect x="116.9" y="45" width="86.2" height="2" fill="url(#g16)"/>
<rect x="116.4" y="47" width="89.8" height="2" fill="url(#g17)"/>
<rect x="115.9" y="49" width="93.3" height="2" fill="url(#g18)"/>
<rect x="115.4" y="51" width="96.7" height="2" fill="url(#g19)"/>
<rect x="114.9" y="53" width="100.1" height="2" fill="url(#g20)"/>
<rect x="114.4" y="55" width="103.3" height="2" fill="url(#g21)"/>
<rect x="113.9" y="57" width="106.5" height="2" fill="url(#g22)"/>
<rect x="113.4" y="59" width="109.6" height="2" fill="url(#g23)"/>
<rect x="112.9" y="61" width="112.7" height="2" fill="url(#g24)"/>
<rect x="112.4" y="63" width="115.7" height="2" fill="url(#g25)"/>
<rect x="111.8" y="65" width="118.6" height="2" fill="url(#g26)"/>
<rect x="111.3" y="67" width="121.5" height="2" fill="url(#g27)"/>
<rect x="110.8" y="69" width="124.3" height="2" fill="url(#g28)"/>
<rect x="110.3" y="71" width="127.0" height="2" fill="url(#g29)"/>
<rect x="109.8" y="73" width="129.7" height="2" fill="url(#g30)"/>
<rect x="109.3" y="75" width="132.4" height="2" fill="url(#g31)"/>
<rect x="113.5" y="77" width="130.3" height="2" fill="url(#g32)"/>
<rect x="120.2" y="79" width="125.6" height="2" fill="url(#g33)"/>
<rect x="126.1" y="81" width="121.7" height="2" fill="url(#g34)"/>
<rect x="131.5" y="83" width="118.3" height="2" fill="url(#g35)"/>
<rect x="136.5" y="85" width="115.2" height="2" fill="url(#g36)"/>
<rect x="141.0" y="87" width="112.6" height="2" fill="url(#g37)"/>
<rect x="145.3" y="89" width="110.1" height="2" fill="url(#g38)"/>
<rect x="149.3" y="91" width="107.9" height="2" fill="url(#g39)"/>
<rect x="153.1" y="93" width="105.9" height="2" fill="url(#g40)"/>
<rect x="156.7" y="95" width="104.0" height="2" fill="url(#g41)"/>
<rect x="160.1" y="97" width="102.2" height="2" fill="url(#g42)"/>
<rect x="163.4" y="99" width="100.6" height="2" fill="url(#g43)"/>
<rect x="166.6" y="101" width="99.1" height="2" fill="url(#g44)"/>
<rect x="169.6" y="103" width="97.7" height="2" fill="url(#g45)"/>
<rect x="172.4" y="105" width="96.4" height="2" fill="url(#g46)"/>
<rect x="175.2" y="107" width="95.1" height="2" fill="url(#g47)"/>
<rect x="177.9" y="109" width="93.9" height="2" fill="url(#g48)"/>
<rect x="180.5" y="111" width="92.8" height="2" fill="url(#g49)"/>
<rect x="183.0" y="113" width="91.7" height="2" fill="url(#g50)"/>
<rect x="185.4" y="115" width="90.7" height="2" fill="url(#g51)"/>
<rect x="187.7" y="117" width="89.8" height="2" fill="url(#g52)"/>
<rect x="190.0" y="119" width="88.9" height="2" fill="url(#g53)"/>
<rect x="192.1" y="121" width="88.0" height="2" fill="url(#g54)"/>
<rect x="194.3" y="123" width="87.2" height="2" fill="url(#g55)"/>
<rect x="196.3" y="125" width="86.4" height="2" fill="url(#g56)"/>
<rect x="198.3" y="127" width="85.6" height="2" fill="url(#g57)"/>
<rect x="200.3" y="129" width="84.9" height="2" fill="url(#g58)"/>
<rect x="202.1" y="131" width="84.2" height="2" fill="url(#g59)"/>
<rect x="204.0" y="133" width="83.6" height="2" fill="url(#g60)"/>
<rect x="205.8" y="135" width="82.9" height="2" fill="url(#g61)"/>
<rect x="207.5" y="137" width="82.3" height="2" fill="url(#g62)"/>
<rect x="209.2" y="139" width="81.7" height="2" fill="url(#g63)"/>
<rect x="210.8" y="141" width="81.2" height="2" fill="url(#g64)"/>
<rect x="212.4" y="143" width="80.6" height="2" fill="url(#g65)"/>
<rect x="213.9" y="145" width="80.1" height="2" fill="url(#g66)"/>
<rect x="215.4" y="147" width="79.6" height="2" fill="url(#g67)"/>
<rect x="216.9" y="149" width="79.1" height="2" fill="url(#g68)"/>
<rect x="218.3" y="151" width="78.7" height="2" fill="url(#g69)"/>
<rect x="219.7" y="153" width="78.2" height="2" fill="url(#g70)"/>
<rect x="221.1" y="155" width="77.8" height="2" fill="url(#g71)"/>
<rect x="222.4" y="157" width="77.4" height="2" fill="url(#g72)"/>
<rect x="223.7" y="159" width="77.0" height="2" fill="url(#g73)"/>
<rect x="224.9" y="161" width="76.6" height="2" fill="url(#g74)"/>
<rect x="226.1" y="163" width="76.2" height="2" fill="url(#g75)"/>
<rect x="227.3" y="165" width="75.9" height="2" fill="url(#g76)"/>
<rect x="228.5" y="167" width="75.5" height="2" fill="url(#g77)"/>
<rect x="229.6" y="169" width="75.2" height="2" fill="url(#g78)"/>
<rect x="230.6" y="171" width="74.9" height="2" fill="url(#g79)"/>
<rect x="231.7" y="173" width="74.5" height="2" fill="url(#g80)"/>
<rect x="232.7" y="175" width="74.2" height="2" fill="url(#g81)"/>
<rect x="233.7" y="177" width="74.0" height="2" fill="url(#g82)"/>
<rect x="234.7" y="179" width="73.7" height="2" fill="url(#g83)"/>
<rect x="235.6" y="181" width="73.4" height="2" fill="url(#g84)"/>
<rect x="236.5" y="183" width="73.1" height="2" fill="url(#g85)"/>
<rect x="237.4" y="185" width="72.9" height="2" fill="url(#g86)"/>
<rect x="238.2" y="187" width="72.7" height="2" fill="url(#g87)"/>
<rect x="239.1" y="189" width="72.4" height="2" fill="url(#g88)"/>
<rect x="239.9" y="191" width="72.2" height="2" fill="url(#g89)"/>
<rect x="240.6" y="193" width="72.0" height="2" fill="url(#g90)"/>
<rect x="241.4" y="195" width="71.8" height="2" fill="url(#g91)"/>
<rect x="242.1" y="197" width="71.6" height="2" fill="url(#g92)"/>
<rect x="242.8" y="199" width="71.4" height="2" fill="url(#g93)"/>
<rect x="243.5" y="201" width="71.2" height="2" fill="url(#g94)"/>
<rect x="244.1" y="203" width="71.0" height="2" fill="url(#g95)"/>
<rect x="244.8" y="205" width="70.9" height="2" fill="url(#g96)"/>
<rect x="245.4" y="207" width="70.7" height="2" fill="url(#g97)"/>
<rect x="245.9" y="209" width="70.6" height="2" fill="url(#g98)"/>
<rect x="246.5" y="211" width="70.4" height="2" fill="url(#g99)"/>
<rect x="247.0" y="213" width="70.3" height="2" fill="url(#g100)"/>
<rect x="247.5" y="215" width="70.1" height="2" fill="url(#g101)"/>
<rect x="248.0" y="217" width="70.0" height="2" fill="url(#g102)"/>
<rect x="248.5" y="219" width="69.9" height="2" fill="url(#g103)"/>
<rect x="248.9" y="221" width="69.8" height="2" fill="url(#g104)"/>
<rect x="249.3" y="223" width="69.7" height="2" fill="url(#g105)"/>
<rect x="249.7" y="225" width="69.6" height="2" fill="url(#g106)"/>
<rect x="250.1" y="227" width="69.5" height="2" fill="url(#g107)"/>
<rect x="250.4" y="229" width="69.4" height="2" fill="url(#g108)"/>
<rect x="250.8" y="231" width="69.3" height="2" fill="url(#g109)"/>
<rect x="251.1" y="233" width="69.2" height="2" fill="url(#g110)"/>
<rect x="251.3" y="235" width="69.1" height="2" fill="url(#g111)"/>
<rect x="251.6" y="237" width="69.1" height="2" fill="url(#g112)"/>
<rect x="251.9" y="239" width="69.0" height="2" fill="url(#g113)"/>
<rect x="252.1" y="241" width="69.0" height="2" fill="url(#g114)"/>
<rect x="252.3" y="243" width="68.9" height="2" fill="url(#g115)"/>
<rect x="252.4" y="245" width="68.9" height="2" fill="url(#g116)"/>
<rect x="252.6" y="247" width="68.8" height="2" fill="url(#g117)"/>
<rect x="252.7" y="249" width="68.8" height="2" fill="url(#g118)"/>
<rect x="252.8" y="251" width="68.8" height="2" fill="url(#g119)"/>
<rect x="252.9" y="253" width="68.7" height="2" fill="url(#g120)"/>
<rect x="253.0" y="255" width="68.7" height="2" fill="url(#g121)"/>
<rect x="253.1" y="257" width="68.7" height="2" fill="url(#g122)"/>
<rect x="253.1" y="259" width="68.7" height="2" fill="url(#g123)"/>
<rect x="253.1" y="261" width="68.7" height="2" fill="url(#g124)"/>
<rect x="253.1" y="263" width="68.7" height="2" fill="url(#g125)"/>
<rect x="253.1" y="265" width="68.7" height="2" fill="url(#g126)"/>
<rect x="253.0" y="267" width="68.7" height="2" fill="url(#g127)"/>
<rect x="252.9" y="269" width="68.7" height="2" fill="url(#g128)"/>
<rect x="252.8" y="271" width="68.8" height="2" fill="url(#g129)"/>
<rect x="252.7" y="273" width="68.8" height="2" fill="url(#g130)"/>
<rect x="252.6" y="275" width="68.8" height="2" fill="url(#g131)"/>
<rect x="252.4" y="277" width="68.9" height="2" fill="url(#g132)"/>
<rect x="252.2" y="279" width="68.9" height="2" fill="url(#g133)"/>
<rect x="252.0" y="281" width="69.0" height="2" fill="url(#g134)"/>
<rect x="251.8" y="283" width="69.0" height="2" fill="url(#g135)"/>
<rect x="251.6" y="285" width="69.1" height="2" fill="url(#g136)"/>
<rect x="251.3" y="287" width="69.2" height="2" fill="url(#g137)"/>
<rect x="251.0" y="289" width="69.2" height="2" fill="url(#g138)"/>
<rect x="250.7" y="291" width="69.3" height="2" fill="url(#g139)"/>
<rect x="250.4" y="293" width="69.4" height="2" fill="url(#g140)"/>
<rect x="250.0" y="295" width="69.5" height="2" fill="url(#g141)"/>
<rect x="249.6" y="297" width="69.6" height="2" fill="url(#g142)"/>
<rect x="249.2" y="299" width="69.7" height="2" fill="url(#g143)"/>
<rect x="248.8" y="301" width="69.8" height="2" fill="url(#g144)"/>
<rect x="248.4" y="303" width="69.9" height="2" fill="url(#g145)"/>
<rect x="247.9" y="305" width="70.0" height="2" fill="url(#g146)"/>
<rect x="247.4" y="307" width="70.2" height="2" fill="url(#g147)"/>
<rect x="246.9" y="309" width="70.3" height="2" fill="url(#g148)"/>
<rect x="246.4" y="311" width="70.4" height="2" fill="url(#g149)"/>
<rect x="245.8" y="313" width="70.6" height="2" fill="url(#g150)"/>
<rect x="245.2" y="315" width="70.7" height="2" fill="url(#g151)"/>
<rect x="244.6" y="317" width="70.9" height="2" fill="url(#g152)"/>
<rect x="244.0" y="319" width="71.1" height="2" fill="url(#g153)"/>
<rect x="243.4" y="321" width="71.3" height="2" fill="url(#g154)"/>
<rect x="242.7" y="323" width="71.4" height="2" fill="url(#g155)"/>
<rect x="242.0" y="325" width="71.6" height="2" fill="url(#g156)"/>
<rect x="241.2" y="327" width="71.8" height="2" fill="url(#g157)"/>
<rect x="240.5" y="329" width="72.0" height="2" fill="url(#g158)"/>
<rect x="239.7" y="331" width="72.3" height="2" fill="url(#g159)"/>
<rect x="238.9" y="333" width="72.5" height="2" fill="url(#g160)"/>
<rect x="238.1" y="335" width="72.7" height="2" fill="url(#g161)"/>
<rect x="237.2" y="337" width="72.9" height="2" fill="url(#g162)"/>
<rect x="236.3" y="339" width="73.2" height="2" fill="url(#g163)"/>
<rect x="235.4" y="341" width="73.5" height="2" fill="url(#g164)"/>
<rect x="234.5" y="343" width="73.7" height="2" fill="url(#g165)"/>
<rect x="233.5" y="345" width="74.0" height="2" fill="url(#g166)"/>
<rect x="232.5" y="347" width="74.3" height="2" fill="url(#g167)"/>
<rect x="231.5" y="349" width="74.6" height="2" fill="url(#g168)"/>
<rect x="230.4" y="351" width="74.9" height="2" fill="url(#g169)"/>
<rect x="229.3" y="353" width="75.2" height="2" fill="url(#g170)"/>
<rect x="228.2" y="355" width="75.6" height="2" fill="url(#g171)"/>
<rect x="227.1" y="357" width="75.9" height="2" fill="url(#g172)"/>
<rect x="225.9" y="359" width="76.3" height="2" fill="url(#g173)"/>
<rect x="224.7" y="361" width="76.7" height="2" fill="url(#g174)"/>
<rect x="223.4" y="363" width="77.0" height="2" fill="url(#g175)"/>
<rect x="222.1" y="365" width="77.5" height="2" fill="url(#g176)"/>
<rect x="220.8" y="367" width="77.9" height="2" fill="url(#g177)"/>
<rect x="219.5" y="369" width="78.3" height="2" fill="url(#g178)"/>
<rect x="218.1" y="371" width="78.8" height="2" fill="url(#g179)"/>
<rect x="216.6" y="373" width="79.2" height="2" fill="url(#g180)"/>
<rect x="215.1" y="375" width="79.7" height="2" fill="url(#g181)"/>
<rect x="213.6" y="377" width="80.2" height="2" fill="url(#g182)"/>
<rect x="212.1" y="379" width="80.7" height="2" fill="url(#g183)"/>
<rect x="210.5" y="381" width="81.3" height="2" fill="url(#g184)"/>
<rect x="208.8" y="383" width="81.8" height="2" fill="url(#g185)"/>
<rect x="207.1" y="385" width="82.4" height="2" fill="url(#g186)"/>
<rect x="205.4" y="387" width="83.1" height="2" fill="url(#g187)"/>
<rect x="203.6" y="389" width="83.7" height="2" fill="url(#g188)"/>
<rect x="201.8" y="391" width="84.4" height="2" fill="url(#g189)"/>
<rect x="199.9" y="393" width="85.1" height="2" fill="url(#g190)"/>
<rect x="197.9" y="395" width="85.8" height="2" fill="url(#g191)"/>
<rect x="195.9" y="397" width="86.6" height="2" fill="url(#g192)"/>
<rect x="193.8" y="399" width="87.3" height="2" fill="url(#g193)"/>
<rect x="191.7" y="401" width="88.2" height="2" fill="url(#g194)"/>
<rect x="189.5" y="403" width="89.1" height="2" fill="url(#g195)"/>
<rect x="187.2" y="405" width="90.0" height="2" fill="url(#g196)"/>
<rect x="184.9" y="407" width="90.9" height="2" fill="url(#g197)"/>
<rect x="182.5" y="409" width="92.0" height="2" fill="url(#g198)"/>
<rect x="180.0" y="411" width="93.0" height="2" fill="url(#g199)"/>
<rect x="177.4" y="413" width="94.2" height="2" fill="url(#g200)"/>
<rect x="174.7" y="415" width="95.4" height="2" fill="url(#g201)"/>
<rect x="171.9" y="417" width="96.6" height="2" fill="url(#g202)"/>
<rect x="169.0" y="419" width="98.0" height="2" fill="url(#g203)"/>
<rect x="165.9" y="421" width="99.4" height="2" fill="url(#g204)"/>
<rect x="162.8" y="423" width="100.9" height="2" fill="url(#g205)"/>
<rect x="159.5" y="425" width="102.6" height="2" fill="url(#g206)"/>
<rect x="156.0" y="427" width="104.3" height="2" fill="url(#g207)"/>
<rect x="152.4" y="429" width="106.3" height="2" fill="url(#g208)"/>
<rect x="148.5" y="431" width="108.3" height="2" fill="url(#g209)"/>
<rect x="144.5" y="433" width="110.6" height="2" fill="url(#g210)"/>
<rect x="140.1" y="435" width="113.1" height="2" fill="url(#g211)"/>
<rect x="135.5" y="437" width="115.8" height="2" fill="url(#g212)"/>
<rect x="130.5" y="439" width="118.9" height="2" fill="url(#g213)"/>
<rect x="125.0" y="441" width="122.4" height="2" fill="url(#g214)"/>
<rect x="118.9" y="443" width="126.5" height="2" fill="url(#g215)"/>
<rect x="112.0" y="445" width="131.3" height="2" fill="url(#g216)"/>
<rect x="109.4" y="447" width="131.8" height="2" fill="url(#g217)"/>
<rect x="109.9" y="449" width="129.2" height="2" fill="url(#g218)"/>
<rect x="110.4" y="451" width="126.5" height="2" fill="url(#g219)"/>
<rect x="110.9" y="453" width="123.7" height="2" fill="url(#g220)"/>
<rect x="111.4" y="455" width="120.9" height="2" fill="url(#g221)"/>
<rect x="111.9" y="457" width="118.0" height="2" fill="url(#g222)"/>
<rect x="112.5" y="459" width="115.1" height="2" fill="url(#g223)"/>
<rect x="113.0" y="461" width="112.1" height="2" fill="url(#g224)"/>
<rect x="113.5" y="463" width="109.0" height="2" fill="url(#g225)"/>
<rect x="114.0" y="465" width="105.9" height="2" fill="url(#g226)"/>
<rect x="114.5" y="467" width="102.7" height="2" fill="url(#g227)"/>
<rect x="115.0" y="469" width="99.4" height="2" fill="url(#g228)"/>
<rect x="115.5" y="471" width="96.1" height="2" fill="url(#g229)"/>
<rect x="116.0" y="473" width="92.6" height="2" fill="url(#g230)"/>
<rect x="116.5" y="475" width="89.1" height="2" fill="url(#g231)"/>
<rect x="117.0" y="477" width="85.4" height="2" fill="url(#g232)"/>
<rect x="117.5" y="479" width="81.7" height="2" fill="url(#g233)"/>
<rect x="118.0" y="481" width="77.9" height="2" fill="url(#g234)"/>
<rect x="118.5" y="483" width="73.9" height="2" fill="url(#g235)"/>
<rect x="119.0" y="485" width="69.8" height="2" fill="url(#g236)"/>
<rect x="119.5" y="487" width="65.6" height="2" fill="url(#g237)"/>
<rect x="120.0" y="489" width="61.2" height="2" fill="url(#g238)"/>
<rect x="120.5" y="491" width="56.6" height="2" fill="url(#g239)"/>
<rect x="121.1" y="493" width="51.8" height="2" fill="url(#g240)"/>
<rect x="121.6" y="495" width="46.9" height="2" fill="url(#g241)"/>
<rect x="122.1" y="497" width="41.6" height="2" fill="url(#g242)"/>
<rect x="122.6" y="499" width="36.1" height="2" fill="url(#g243)"/>
<rect x="123.1" y="501" width="30.3" height="2" fill="url(#g244)"/>
<rect x="123.6" y="503" width="24.1" height="2" fill="url(#g245)"/>
<rect x="124.1" y="505" width="17.4" height="2" fill="url(#g246)"/>
<rect x="124.6" y="507" width="10.0" height="2" fill="url(#g247)"/>
<rect x="124.9" y="509" width="5.2" height="2" fill="url(#g248)"/></g>
<g fill="none" stroke="#fff" stroke-width="1.1" stroke-opacity="0.9" clip-path="url(#ann)"><g mask="url(#cm)"><path d="M143.7 20.5 L141.2 24.0 L140.8 27.5 L142.5 31.5 L145.1 34.1 L149.5 37.5 L154.6 39.9 L160.5 41.2 L166.3 41.4 L170.0 40.0 L172.2 37.7 L175.0 34.3 L178.5 34.4 L181.0 35.0 L184.0 37.8 L188.0 40.3 L190.5 41.4"/>
<path d="M140.5 86.3 L143.5 84.5 L147.5 81.5 L151.0 80.4 L153.0 83.5 L155.0 89.0 L156.8 94.3"/>
<path d="M191.5 41.6 L191.2 50.0 L191.1 60.0 L190.8 72.0 L189.8 81.0 L188.9 89.2 L186.5 96.0 L186.0 99.4 L187.0 106.0 L188.9 112.6 L192.2 119.6"/>
<path d="M216.5 55.5 L214.8 62.0 L214.6 72.0 L215.5 89.3 L215.4 100.0 L215.6 112.0 L217.0 120.0 L220.1 130.4 L222.9 140.8 L225.0 151.2 L225.8 159.2"/>
<path d="M253.8 90.5 L252.7 106.7 L251.9 120.0 L250.9 134.7 L248.3 152.0 L246.5 169.3 L245.7 183.2 L244.6 196.5"/>
<path d="M266.8 106.5 L266.5 112.0 L267.5 125.0 L268.0 147.0 L266.5 169.3 L266.0 182.4 L264.7 200.0 L262.9 213.5 L259.7 223.8 L256.6 232.2 L254.6 237.0"/>
<path d="M286.6 135.6 L285.0 141.0 L283.2 155.0 L282.3 170.0 L281.9 181.7 L281.3 203.1 L280.4 223.3 L280.0 240.0 L279.7 261.0 L280.2 285.0 L281.0 300.0 L281.8 320.0 L283.0 345.0 L283.4 366.0 L282.6 385.0 L282.0 397.0"/>
<path d="M297.7 158.5 L297.3 175.0 L297.1 192.0 L296.0 208.0 L295.0 223.3 L294.8 240.0 L294.7 261.0 L294.8 290.0 L294.5 320.0 L294.0 345.0 L294.0 372.0"/>
<path d="M254.6 237.0 L255.8 245.0 L256.3 253.0 L256.4 261.8 L256.3 270.0 L255.8 278.0 L254.2 286.5"/>
<path d="M254.2 286.5 L256.2 293.0 L258.0 300.0 L259.7 314.7 L262.3 340.0 L264.7 372.0 L265.6 387.6 L266.5 406.7 L267.0 417.0"/>
<path d="M243.2 330.0 L243.4 336.0 L244.8 354.7 L248.3 377.2 L249.1 392.8 L247.0 401.0 L245.3 416.0 L244.5 433.3 L243.8 443.5"/>
<path d="M219.2 373.7 L218.8 389.3 L219.5 400.0 L220.2 407.3 L220.0 420.0 L219.3 433.3 L215.9 447.2 L216.4 458.0 L216.6 466.5"/>
<path d="M184.7 410.8 L180.5 418.0 L177.7 424.7 L173.4 438.5 L171.7 455.9 L167.3 468.0 L162.0 477.0 L156.9 487.0 L155.6 500.5"/>
<path d="M130.2 441.9 L137.4 447.5 L140.9 462.7 L142.3 476.6 L145.7 490.4 L147.8 500.1 L148.2 503.2"/>
<path d="M113.2 446.5 L115.2 453.0 L118.5 460.0 L120.8 470.0 L121.5 478.0 L122.9 490.4 L124.5 500.0 L125.4 507.0"/></g></g>
<g font-family="Liberation Sans, sans-serif" font-size="8.2" font-weight="bold" fill="#fff" opacity="0.95"><text opacity="1.00" transform="translate(269.2 138.5) rotate(90)" x="0" y="2.9" text-anchor="middle">414</text><text opacity="1.00" transform="translate(246.0 171.5) rotate(90)" x="0" y="2.9" text-anchor="middle">400</text><text opacity="1.00" transform="translate(284.0 366.3) rotate(-90)" x="0" y="2.9" text-anchor="middle">440</text><text opacity="1.00" transform="translate(266.2 388.1) rotate(90)" x="0" y="2.9" text-anchor="middle">414</text><text opacity="1.00" transform="translate(245.6 415.8) rotate(-90)" x="0" y="2.9" text-anchor="middle">400</text><text opacity="1.00" transform="translate(161.0 476.3) rotate(-62)" x="0" y="2.9" text-anchor="middle">360</text><text opacity="1.00" transform="translate(120.3 461.9) rotate(66)" x="0" y="2.9" text-anchor="middle">320</text></g>
<path d="M112.4 77.1 L128.2 14.4M112.1 75.7 L114.3 76.3 L116.5 76.9 L118.7 77.6 L120.8 78.2 L123.0 78.9 L125.2 79.6 L127.3 80.3 L129.5 81.1 L131.6 81.9 L133.8 82.7 L135.9 83.5 L138.0 84.4 L140.1 85.3 L142.2 86.2 L144.3 87.1 L146.3 88.1 L148.4 89.1 L150.4 90.1 L152.5 91.1 L154.5 92.2M127.5 15.6 L130.0 16.2 L132.4 16.9 L134.9 17.6 L137.3 18.3 L139.8 19.1 L142.2 19.8 L144.6 20.6 L147.1 21.4M112.1 447.9 L114.6 447.2 L117.1 446.5 L119.6 445.8 L122.1 445.0 L124.5 444.2 L127.0 443.4 L129.5 442.5 L131.9 441.6 L134.3 440.7 L136.7 439.7 L139.1 438.7 L141.5 437.7 L143.9 436.6 L146.2 435.5 L148.6 434.4 L150.9 433.3 L153.2 432.1 L155.5 430.9 L157.8 429.6 L160.1 428.3 L162.3 427.0 L164.5 425.7 L166.7 424.3 L168.9 422.9M127.5 508.0 L130.8 507.2 L134.0 506.3 L137.3 505.3 L140.5 504.3 L143.7 503.3 L146.9 502.2 L150.1 501.1 L153.2 499.9 L156.4 498.7 L159.5 497.5" fill="none" stroke="#fff" stroke-width="1.1" stroke-opacity="0.8" stroke-dasharray="3.5 3"/>
<path d="M64.3 6.3A255.5 255.5 0 0 1 64.3 517.3" fill="none" stroke="#333" stroke-width="1.2"/>
<path d="M126.98 14.11L111.10 76.83A190.8 190.8 0 0 1 111.10 446.77L126.98 509.49" fill="none" stroke="#333" stroke-width="1.1"/>
<path d="M109.90 447.77L125.78 508.49" stroke="#d04870" stroke-opacity="0.45" stroke-width="1.3"/>
<path d="M130.4 508.6L132.0 514.4M192.1 483.1L195.1 488.3M245.0 442.5L249.2 446.7M285.6 389.6L290.8 392.5M311.1 327.9L316.9 329.5M311.1 195.7L316.9 194.1M285.6 134.1L290.8 131.1M245.0 81.1L249.2 76.9M192.1 40.5L195.1 35.3M130.4 15.0L132.0 9.2" stroke="#444" stroke-width="1.1"/>
<path d="M64.65 261.4H327" stroke="#555" stroke-width="1.25" stroke-dasharray="6 6.85" style="mix-blend-mode:multiply"/>
<rect x="425.9" y="27.0" width="244.2" height="477.3" fill="none" stroke="#151515" stroke-width="1.5"/>
<path d="M434.0 504.3v-6.0M434.0 27.0v6.0M442.2 504.3v-6.0M442.2 27.0v6.0M450.3 504.3v-6.0M450.3 27.0v6.0M458.5 504.3v-6.0M458.5 27.0v6.0M466.6 504.3v-6.0M466.6 27.0v6.0M474.7 504.3v-6.0M474.7 27.0v6.0M482.9 504.3v-6.0M482.9 27.0v6.0M491.0 504.3v-6.0M491.0 27.0v6.0M499.2 504.3v-6.0M499.2 27.0v6.0M507.3 504.3v-10.5M507.3 27.0v10.5M515.4 504.3v-6.0M515.4 27.0v6.0M523.6 504.3v-6.0M523.6 27.0v6.0M531.7 504.3v-6.0M531.7 27.0v6.0M539.9 504.3v-6.0M539.9 27.0v6.0M548.0 504.3v-6.0M548.0 27.0v6.0M556.1 504.3v-6.0M556.1 27.0v6.0M564.3 504.3v-6.0M564.3 27.0v6.0M572.4 504.3v-6.0M572.4 27.0v6.0M580.6 504.3v-6.0M580.6 27.0v6.0M588.7 504.3v-10.5M588.7 27.0v10.5M596.8 504.3v-6.0M596.8 27.0v6.0M605.0 504.3v-6.0M605.0 27.0v6.0M613.1 504.3v-6.0M613.1 27.0v6.0M621.3 504.3v-6.0M621.3 27.0v6.0M629.4 504.3v-6.0M629.4 27.0v6.0M637.5 504.3v-6.0M637.5 27.0v6.0M645.7 504.3v-6.0M645.7 27.0v6.0M653.8 504.3v-6.0M653.8 27.0v6.0M662.0 504.3v-6.0M662.0 27.0v6.0M425.9 480.4h2.3M670.1 480.4h-3.0M425.9 456.6h2.3M670.1 456.6h-3.0M425.9 432.7h2.3M670.1 432.7h-3.0M425.9 408.8h2.3M670.1 408.8h-3.0M425.9 385.0h5.0M670.1 385.0h-6.0M425.9 361.1h2.3M670.1 361.1h-3.0M425.9 337.2h2.3M670.1 337.2h-3.0M425.9 313.4h2.3M670.1 313.4h-3.0M425.9 289.5h2.3M670.1 289.5h-3.0M425.9 265.6h5.0M670.1 265.6h-6.0M425.9 241.8h2.3M670.1 241.8h-3.0M425.9 217.9h2.3M670.1 217.9h-3.0M425.9 194.1h2.3M670.1 194.1h-3.0M425.9 170.2h2.3M670.1 170.2h-3.0M425.9 146.3h5.0M670.1 146.3h-6.0M425.9 122.5h2.3M670.1 122.5h-3.0M425.9 98.6h2.3M670.1 98.6h-3.0M425.9 74.7h2.3M670.1 74.7h-3.0M425.9 50.9h2.3M670.1 50.9h-3.0" stroke="#151515" stroke-width="1.4" fill="none"/>
<path d="M441.2 222.8 C441.9 222.7 443.9 222.6 445.2 222.5 C446.5 222.3 447.9 222.0 449.2 221.7 C450.5 221.3 451.9 220.9 453.2 220.4 C454.5 220.0 455.9 219.4 457.2 218.8 C458.5 218.2 459.9 217.5 461.2 216.8 C462.5 216.0 463.9 215.2 465.2 214.4 C466.5 213.6 467.9 212.7 469.2 211.7 C470.5 210.8 471.9 209.8 473.2 208.7 C474.5 207.7 475.9 206.6 477.2 205.5 C478.5 204.3 479.9 203.2 481.2 202.0 C482.5 200.8 483.9 199.5 485.2 198.2 C486.5 197.0 487.9 195.7 489.2 194.3 C490.5 193.0 491.9 191.7 493.2 190.3 C494.5 188.9 495.9 187.5 497.2 186.1 C498.5 184.7 499.9 183.3 501.2 181.9 C502.5 180.4 503.9 179.0 505.2 177.5 C506.5 176.1 507.9 174.6 509.2 173.1 C510.5 171.7 511.9 170.2 513.2 168.7 C514.5 167.3 515.9 165.8 517.2 164.4 C518.5 162.9 519.9 161.5 521.2 160.0 C522.5 158.6 523.9 157.2 525.2 155.8 C526.5 154.4 527.9 153.0 529.2 151.6 C530.5 150.2 531.9 148.9 533.2 147.6 C534.5 146.2 535.9 144.9 537.2 143.7 C538.5 142.4 539.9 141.2 541.2 139.9 C542.5 138.7 543.9 137.5 545.2 136.4 C546.5 135.2 547.9 134.1 549.2 133.0 C550.5 131.9 551.9 130.8 553.2 129.7 C554.5 128.7 555.9 127.7 557.2 126.7 C558.5 125.8 559.9 124.8 561.2 123.9 C562.5 123.0 563.9 122.2 565.2 121.3 C566.5 120.5 567.9 119.7 569.2 119.0 C570.5 118.2 571.9 117.5 573.2 116.8 C574.5 116.2 575.9 115.5 577.2 115.0 C578.5 114.4 579.9 113.8 581.2 113.4 C582.5 112.9 583.9 112.4 585.2 112.0 C586.5 111.6 587.9 111.3 589.2 110.9 C590.5 110.6 591.9 110.4 593.2 110.1 C594.5 109.9 595.9 109.7 597.2 109.6 C598.5 109.4 599.9 109.3 601.2 109.2 C602.5 109.1 603.9 109.1 605.2 109.0 C606.5 109.0 607.9 109.0 609.2 109.0 C610.5 109.1 611.9 109.1 613.2 109.2 C614.5 109.2 615.9 109.3 617.2 109.4 C618.5 109.6 619.9 109.7 621.2 109.8 C622.5 110.0 623.9 110.1 625.2 110.3 C626.5 110.4 627.9 110.6 629.2 110.8 C630.5 110.9 631.9 111.1 633.2 111.3 C634.5 111.5 635.9 111.7 637.2 111.9 C638.5 112.0 640.5 112.3 641.2 112.4 C641.9 112.5 641.3 112.4 641.3 112.4" stroke="#1a1a1a" stroke-width="1.9" fill="none" stroke-linecap="round"/>
<path d="M440.9 249.4 C441.6 249.2 443.6 248.8 444.9 248.4 C446.2 248.0 447.6 247.7 448.9 247.3 C450.2 246.9 451.6 246.4 452.9 246.0 C454.2 245.5 455.6 245.0 456.9 244.5 C458.2 244.0 459.6 243.5 460.9 243.0 C462.2 242.4 463.6 241.8 464.9 241.2 C466.2 240.6 467.6 240.0 468.9 239.4 C470.2 238.7 471.6 238.0 472.9 237.3 C474.2 236.6 475.6 235.9 476.9 235.1 C478.2 234.4 479.6 233.6 480.9 232.8 C482.2 232.0 483.6 231.2 484.9 230.3 C486.2 229.4 487.6 228.5 488.9 227.6 C490.2 226.7 491.6 225.8 492.9 224.8 C494.2 223.8 495.6 222.8 496.9 221.8 C498.2 220.8 499.6 219.7 500.9 218.7 C502.2 217.6 503.6 216.5 504.9 215.4 C506.2 214.2 507.6 213.1 508.9 211.9 C510.2 210.7 511.6 209.5 512.9 208.2 C514.2 207.0 515.6 205.7 516.9 204.4 C518.2 203.1 519.6 201.7 520.9 200.4 C522.2 199.0 523.6 197.6 524.9 196.2 C526.2 194.8 527.6 193.3 528.9 191.8 C530.2 190.4 531.6 188.9 532.9 187.3 C534.2 185.8 535.6 184.2 536.9 182.6 C538.2 181.1 539.6 179.4 540.9 177.8 C542.2 176.2 543.6 174.6 544.9 172.9 C546.2 171.3 547.6 169.6 548.9 168.0 C550.2 166.3 551.6 164.7 552.9 163.0 C554.2 161.4 555.6 159.7 556.9 158.0 C558.2 156.4 559.6 154.8 560.9 153.1 C562.2 151.5 563.6 149.9 564.9 148.3 C566.2 146.7 567.6 145.1 568.9 143.6 C570.2 142.0 571.6 140.5 572.9 139.0 C574.2 137.5 575.6 136.0 576.9 134.6 C578.2 133.1 579.6 131.7 580.9 130.4 C582.2 129.0 583.6 127.7 584.9 126.4 C586.2 125.1 587.6 123.9 588.9 122.7 C590.2 121.5 591.6 120.4 592.9 119.3 C594.2 118.2 595.6 117.2 596.9 116.2 C598.2 115.2 599.6 114.2 600.9 113.3 C602.2 112.4 603.6 111.6 604.9 110.8 C606.2 110.0 607.6 109.2 608.9 108.5 C610.2 107.8 611.6 107.1 612.9 106.5 C614.2 105.9 615.6 105.3 616.9 104.8 C618.2 104.3 619.6 103.8 620.9 103.4 C622.2 103.0 623.6 102.6 624.9 102.3 C626.2 102.0 627.6 101.7 628.9 101.5 C630.2 101.3 631.6 101.1 632.9 101.0 C634.2 100.9 635.6 100.8 636.9 100.8 C638.2 100.8 640.2 100.9 640.9 100.9 C641.6 100.9 641.2 100.9 641.3 100.9" stroke="#1a1a1a" stroke-width="1.9" fill="none" stroke-linecap="round"/>
<path d="M441.1 301.6 C441.8 301.1 443.8 299.6 445.1 298.6 C446.4 297.6 447.8 296.6 449.1 295.7 C450.4 294.7 451.8 293.8 453.1 292.9 C454.4 292.0 455.8 291.1 457.1 290.3 C458.4 289.4 459.8 288.6 461.1 287.7 C462.4 286.9 463.8 286.1 465.1 285.4 C466.4 284.6 467.8 283.8 469.1 283.1 C470.4 282.3 471.8 281.6 473.1 280.9 C474.4 280.1 475.8 279.4 477.1 278.8 C478.4 278.1 479.8 277.4 481.1 276.7 C482.4 276.1 483.8 275.4 485.1 274.8 C486.4 274.1 487.8 273.5 489.1 272.9 C490.4 272.3 491.8 271.6 493.1 271.0 C494.4 270.4 495.8 269.8 497.1 269.2 C498.4 268.6 499.8 268.1 501.1 267.5 C502.4 266.9 503.8 266.3 505.1 265.7 C506.4 265.1 507.8 264.6 509.1 264.0 C510.4 263.4 511.8 262.9 513.1 262.3 C514.4 261.7 515.8 261.1 517.1 260.6 C518.4 260.0 519.8 259.4 521.1 258.8 C522.4 258.3 523.8 257.7 525.1 257.1 C526.4 256.5 527.8 255.9 529.1 255.3 C530.4 254.7 531.8 254.1 533.1 253.5 C534.4 252.9 535.8 252.3 537.1 251.6 C538.4 251.0 539.8 250.4 541.1 249.7 C542.4 249.1 543.8 248.4 545.1 247.7 C546.4 247.1 547.8 246.4 549.1 245.7 C550.4 245.0 551.8 244.3 553.1 243.5 C554.4 242.8 555.8 242.1 557.1 241.3 C558.4 240.6 559.8 239.8 561.1 239.0 C562.4 238.2 563.8 237.4 565.1 236.5 C566.4 235.7 567.8 234.9 569.1 234.0 C570.4 233.1 571.8 232.2 573.1 231.3 C574.4 230.4 575.8 229.5 577.1 228.5 C578.4 227.5 579.8 226.6 581.1 225.6 C582.4 224.5 583.8 223.5 585.1 222.5 C586.4 221.4 587.8 220.3 589.1 219.2 C590.4 218.1 591.8 216.9 593.1 215.8 C594.4 214.6 595.8 213.4 597.1 212.2 C598.4 210.9 599.8 209.7 601.1 208.4 C602.4 207.1 603.8 205.8 605.1 204.4 C606.4 203.1 607.8 201.7 609.1 200.4 C610.4 199.0 611.8 197.7 613.1 196.4 C614.4 195.0 615.8 193.7 617.1 192.4 C618.4 191.1 619.8 189.9 621.1 188.7 C622.4 187.5 623.8 186.3 625.1 185.2 C626.4 184.1 627.8 183.0 629.1 182.0 C630.4 181.0 631.8 180.1 633.1 179.3 C634.4 178.5 635.8 177.7 637.1 177.1 C638.4 176.5 640.4 175.8 641.1 175.5 C641.8 175.2 641.3 175.4 641.3 175.4" stroke="#1a1a1a" stroke-width="1.9" fill="none" stroke-linecap="round"/>
<path d="M441.2 351.2 C441.9 350.8 443.9 349.5 445.2 348.7 C446.5 347.8 447.9 347.0 449.2 346.2 C450.5 345.4 451.9 344.6 453.2 343.9 C454.5 343.1 455.9 342.3 457.2 341.6 C458.5 340.8 459.9 340.1 461.2 339.4 C462.5 338.7 463.9 338.0 465.2 337.3 C466.5 336.6 467.9 335.9 469.2 335.3 C470.5 334.6 471.9 334.0 473.2 333.3 C474.5 332.7 475.9 332.0 477.2 331.4 C478.5 330.8 479.9 330.2 481.2 329.6 C482.5 329.0 483.9 328.4 485.2 327.9 C486.5 327.3 487.9 326.7 489.2 326.2 C490.5 325.6 491.9 325.1 493.2 324.5 C494.5 324.0 495.9 323.5 497.2 323.0 C498.5 322.5 499.9 322.0 501.2 321.5 C502.5 321.0 503.9 320.5 505.2 320.0 C506.5 319.5 507.9 319.0 509.2 318.6 C510.5 318.1 511.9 317.7 513.2 317.2 C514.5 316.8 515.9 316.3 517.2 315.9 C518.5 315.4 519.9 315.0 521.2 314.6 C522.5 314.2 523.9 313.8 525.2 313.3 C526.5 312.9 527.9 312.5 529.2 312.1 C530.5 311.7 531.9 311.3 533.2 311.0 C534.5 310.6 535.9 310.2 537.2 309.8 C538.5 309.4 539.9 309.0 541.2 308.7 C542.5 308.3 543.9 307.9 545.2 307.5 C546.5 307.2 547.9 306.8 549.2 306.4 C550.5 306.0 551.9 305.7 553.2 305.3 C554.5 304.9 555.9 304.5 557.2 304.2 C558.5 303.8 559.9 303.4 561.2 303.0 C562.5 302.6 563.9 302.2 565.2 301.8 C566.5 301.4 567.9 301.0 569.2 300.6 C570.5 300.2 571.9 299.8 573.2 299.4 C574.5 299.0 575.9 298.6 577.2 298.1 C578.5 297.7 579.9 297.3 581.2 296.8 C582.5 296.4 583.9 295.9 585.2 295.5 C586.5 295.0 587.9 294.5 589.2 294.1 C590.5 293.6 591.9 293.1 593.2 292.6 C594.5 292.1 595.9 291.6 597.2 291.1 C598.5 290.6 599.9 290.1 601.2 289.6 C602.5 289.1 603.9 288.6 605.2 288.0 C606.5 287.5 607.9 287.0 609.2 286.5 C610.5 286.0 611.9 285.5 613.2 285.0 C614.5 284.4 615.9 283.9 617.2 283.4 C618.5 282.9 619.9 282.4 621.2 282.0 C622.5 281.5 623.9 281.0 625.2 280.5 C626.5 280.1 627.9 279.6 629.2 279.2 C630.5 278.7 631.9 278.3 633.2 277.9 C634.5 277.5 635.9 277.1 637.2 276.7 C638.5 276.3 640.5 275.8 641.2 275.6 C641.9 275.4 641.3 275.6 641.3 275.6" stroke="#1a1a1a" stroke-width="1.9" fill="none" stroke-linecap="round"/>
<path d="M440.9 403.2 C441.6 402.7 443.6 400.9 444.9 399.8 C446.2 398.7 447.6 397.6 448.9 396.5 C450.2 395.5 451.6 394.4 452.9 393.4 C454.2 392.4 455.6 391.4 456.9 390.5 C458.2 389.5 459.6 388.6 460.9 387.7 C462.2 386.8 463.6 385.9 464.9 385.1 C466.2 384.3 467.6 383.5 468.9 382.7 C470.2 382.0 471.6 381.3 472.9 380.6 C474.2 379.9 475.6 379.3 476.9 378.7 C478.2 378.1 479.6 377.5 480.9 377.0 C482.2 376.5 483.6 376.0 484.9 375.6 C486.2 375.1 487.6 374.7 488.9 374.4 C490.2 374.0 491.6 373.6 492.9 373.3 C494.2 373.0 495.6 372.7 496.9 372.4 C498.2 372.1 499.6 371.9 500.9 371.7 C502.2 371.5 503.6 371.3 504.9 371.1 C506.2 370.9 507.6 370.7 508.9 370.6 C510.2 370.4 511.6 370.3 512.9 370.2 C514.2 370.1 515.6 370.0 516.9 369.9 C518.2 369.8 519.6 369.7 520.9 369.6 C522.2 369.5 523.6 369.5 524.9 369.4 C526.2 369.3 527.6 369.3 528.9 369.2 C530.2 369.1 531.6 369.1 532.9 369.0 C534.2 368.9 535.6 368.9 536.9 368.8 C538.2 368.7 539.6 368.7 540.9 368.6 C542.2 368.5 543.6 368.5 544.9 368.4 C546.2 368.3 547.6 368.3 548.9 368.2 C550.2 368.1 551.6 368.0 552.9 367.9 C554.2 367.9 555.6 367.8 556.9 367.7 C558.2 367.6 559.6 367.5 560.9 367.4 C562.2 367.3 563.6 367.2 564.9 367.1 C566.2 367.0 567.6 366.9 568.9 366.7 C570.2 366.6 571.6 366.5 572.9 366.4 C574.2 366.2 575.6 366.1 576.9 366.0 C578.2 365.8 579.6 365.7 580.9 365.5 C582.2 365.4 583.6 365.2 584.9 365.0 C586.2 364.9 587.6 364.7 588.9 364.5 C590.2 364.3 591.6 364.1 592.9 363.9 C594.2 363.7 595.6 363.5 596.9 363.3 C598.2 363.1 599.6 362.8 600.9 362.6 C602.2 362.4 603.6 362.1 604.9 361.9 C606.2 361.6 607.6 361.3 608.9 361.0 C610.2 360.8 611.6 360.5 612.9 360.2 C614.2 359.9 615.6 359.6 616.9 359.2 C618.2 358.9 619.6 358.6 620.9 358.2 C622.2 357.9 623.6 357.5 624.9 357.1 C626.2 356.8 627.6 356.4 628.9 356.0 C630.2 355.6 631.6 355.1 632.9 354.7 C634.2 354.3 635.6 353.8 636.9 353.4 C638.2 352.9 640.2 352.2 640.9 352.0 C641.6 351.7 641.2 351.8 641.3 351.8" stroke="#1a1a1a" stroke-width="1.9" fill="none" stroke-linecap="round"/>
<path d="M441.1 416.3 C441.8 415.8 443.8 414.1 445.1 413.2 C446.4 412.3 447.8 411.7 449.1 411.1 C450.4 410.5 451.8 410.1 453.1 409.8 C454.4 409.5 455.8 409.4 457.1 409.3 C458.4 409.2 459.8 409.2 461.1 409.3 C462.4 409.4 463.8 409.6 465.1 409.8 C466.4 410.1 467.8 410.4 469.1 410.7 C470.4 411.0 471.8 411.4 473.1 411.8 C474.4 412.1 475.8 412.6 477.1 412.9 C478.4 413.3 479.8 413.7 481.1 414.1 C482.4 414.5 483.8 414.9 485.1 415.3 C486.4 415.7 487.8 416.1 489.1 416.4 C490.4 416.8 491.8 417.1 493.1 417.5 C494.4 417.8 495.8 418.1 497.1 418.4 C498.4 418.7 499.8 419.0 501.1 419.2 C502.4 419.5 503.8 419.7 505.1 419.9 C506.4 420.1 507.8 420.3 509.1 420.4 C510.4 420.5 511.8 420.6 513.1 420.7 C514.4 420.7 515.8 420.8 517.1 420.7 C518.4 420.7 519.8 420.6 521.1 420.5 C522.4 420.4 523.8 420.2 525.1 420.0 C526.4 419.7 527.8 419.5 529.1 419.1 C530.4 418.8 531.8 418.4 533.1 417.9 C534.4 417.5 535.8 417.0 537.1 416.5 C538.4 416.0 539.8 415.4 541.1 414.8 C542.4 414.3 543.8 413.7 545.1 413.1 C546.4 412.5 547.8 411.9 549.1 411.4 C550.4 410.8 551.8 410.2 553.1 409.7 C554.4 409.2 555.8 408.8 557.1 408.3 C558.4 407.9 559.8 407.5 561.1 407.2 C562.4 406.9 563.8 406.7 565.1 406.5 C566.4 406.3 567.8 406.1 569.1 406.0 C570.4 405.9 571.8 405.9 573.1 405.9 C574.4 405.8 575.8 405.8 577.1 405.9 C578.4 405.9 579.8 406.0 581.1 406.0 C582.4 406.1 583.8 406.2 585.1 406.3 C586.4 406.4 587.8 406.5 589.1 406.6 C590.4 406.7 591.8 406.8 593.1 406.9 C594.4 407.0 595.8 407.1 597.1 407.2 C598.4 407.3 599.8 407.4 601.1 407.5 C602.4 407.6 603.8 407.6 605.1 407.7 C606.4 407.7 607.8 407.7 609.1 407.7 C610.4 407.7 611.8 407.7 613.1 407.7 C614.4 407.6 615.8 407.5 617.1 407.4 C618.4 407.3 619.8 407.1 621.1 407.0 C622.4 406.8 623.8 406.6 625.1 406.4 C626.4 406.2 627.8 405.9 629.1 405.7 C630.4 405.4 631.8 405.1 633.1 404.8 C634.4 404.5 635.8 404.2 637.1 403.9 C638.4 403.5 640.4 403.0 641.1 402.8 C641.8 402.7 641.3 402.8 641.3 402.8" stroke="#1a1a1a" stroke-width="1.9" fill="none" stroke-linecap="round"/>
<g font-family="Liberation Sans, sans-serif" fill="#1e1e1e" opacity="0.995">
<text font-style="italic" transform="translate(381.77 44.49) scale(0.997 1)" font-size="21.41" stroke="#1e1e1e" stroke-width="0.35">500</text>
<text font-style="italic" transform="translate(381.99 156.78) scale(0.990 1)" font-size="21.55" stroke="#1e1e1e" stroke-width="0.35">450</text>
<text font-style="italic" transform="translate(381.99 275.88) scale(0.990 1)" font-size="21.55" stroke="#1e1e1e" stroke-width="0.35">400</text>
<text font-style="italic" transform="translate(381.55 395.28) scale(0.996 1)" font-size="21.69" stroke="#1e1e1e" stroke-width="0.35">350</text>
<text font-style="italic" transform="translate(381.55 504.29) scale(1.006 1)" font-size="21.41" stroke="#1e1e1e" stroke-width="0.35">300</text>
<text font-style="italic" transform="translate(409.94 541.78) scale(0.996 1)" font-size="21.69" stroke="#1e1e1e" stroke-width="0.35">0.7</text>
<text font-style="italic" transform="translate(491.12 541.88) scale(1.002 1)" font-size="21.97" stroke="#1e1e1e" stroke-width="0.35">0.8</text>
<text font-style="italic" transform="translate(572.51 541.88) scale(1.009 1)" font-size="21.97" stroke="#1e1e1e" stroke-width="0.35">0.9</text>
<text font-style="italic" transform="translate(656.39 541.88) scale(0.930 1)" font-size="21.97" stroke="#1e1e1e" stroke-width="0.35">1.0</text>
<text font-style="italic" transform="translate(11.69 174.59) scale(1.007 1)" font-size="21.00" stroke="#1e1e1e" stroke-width="0.35">475</text>
<text font-style="italic" transform="translate(17.78 249.40) scale(0.971 1)" font-size="22.32" stroke="#1e1e1e" stroke-width="0.35">414</text>
<text font-style="italic" transform="translate(9.97 395.28) scale(0.963 1)" font-size="21.97" stroke="#1e1e1e" stroke-width="0.35">305</text>
<text font-style="italic" transform="translate(77.16 255.95) scale(0.986 1)" font-size="21.67" stroke="#1e1e1e" stroke-width="0.35">Eq</text>
<text transform="translate(278.64 72.94) scale(0.946 1)" font-size="36.00" stroke="#fff" stroke-width="0.35">a</text>
<text transform="translate(458.95 75.50) scale(1.126 1)" font-size="34.93" stroke="#fff" stroke-width="0.35">b</text>
<text font-style="italic" transform="translate(529.90 575.70) scale(0.828 1)" font-size="24.25" stroke="#1e1e1e" stroke-width="0.35">r/R</text>
<text transform="translate(559.17 581.45) scale(1.075 1)" font-size="15.14">*</text>
<text font-style="italic" transform="translate(441.19 218.58) scale(1.049 1)" font-size="21.69" stroke="#1e1e1e" stroke-width="0.35">0</text>
<text font-style="italic" transform="translate(453.59 205.87) scale(1.059 1)" font-size="12.91" stroke="#1e1e1e" stroke-width="0.35">o</text>
<text font-style="italic" transform="translate(443.43 264.48) scale(0.867 1)" font-size="22.00" stroke="#1e1e1e" stroke-width="0.35">15</text>
<text font-style="italic" transform="translate(465.79 251.77) scale(1.016 1)" font-size="13.45" stroke="#1e1e1e" stroke-width="0.35">o</text>
<text font-style="italic" transform="translate(440.40 315.58) scale(1.062 1)" font-size="21.83" stroke="#1e1e1e" stroke-width="0.35">30</text>
<text font-style="italic" transform="translate(465.58 302.47) scale(1.047 1)" font-size="13.45" stroke="#1e1e1e" stroke-width="0.35">o</text>
<text font-style="italic" transform="translate(441.59 336.48) scale(0.942 1)" font-size="22.00" stroke="#1e1e1e" stroke-width="0.35">45</text>
<text font-style="italic" transform="translate(465.79 324.07) scale(1.016 1)" font-size="13.45" stroke="#1e1e1e" stroke-width="0.35">o</text>
<text font-style="italic" transform="translate(440.73 385.18) scale(1.028 1)" font-size="22.25" stroke="#1e1e1e" stroke-width="0.35">60</text>
<text font-style="italic" transform="translate(465.47 372.66) scale(1.020 1)" font-size="14.00" stroke="#1e1e1e" stroke-width="0.35">o</text>
<text font-style="italic" transform="translate(441.63 432.78) scale(0.941 1)" font-size="22.00" stroke="#1e1e1e" stroke-width="0.35">75</text>
<text font-style="italic" transform="translate(465.79 420.36) scale(0.977 1)" font-size="14.00" stroke="#1e1e1e" stroke-width="0.35">o</text>
<text transform="translate(358.40 303.34) rotate(-90) scale(1.021 1)" font-size="23.00">Ω</text>
<text font-style="italic" transform="translate(358.14 273.33) rotate(-90) scale(0.951 1)" font-size="21.70">(nHz)</text>
</g>
</svg>
</body></html>
